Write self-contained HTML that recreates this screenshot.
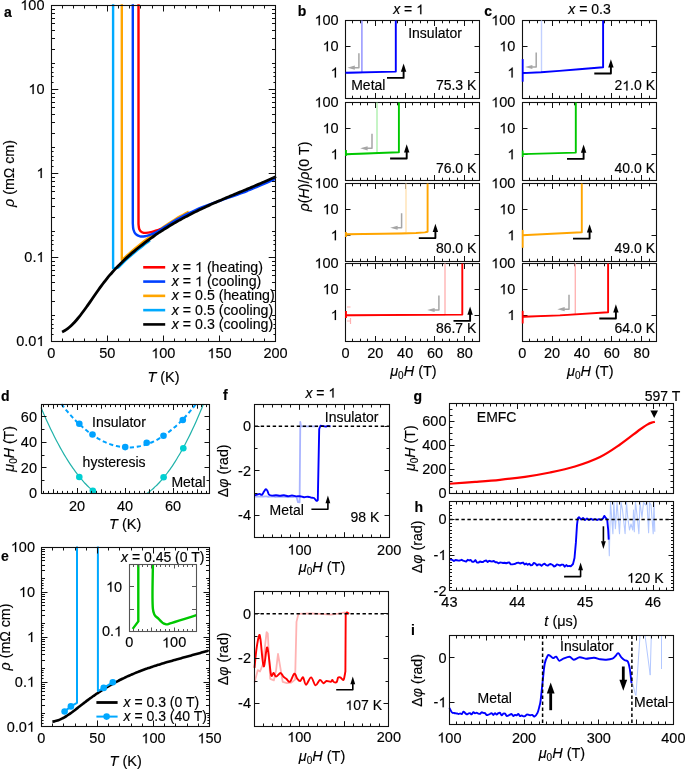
<!DOCTYPE html>
<html><head><meta charset="utf-8"><style>
html,body{margin:0;padding:0;background:#fff;}
svg{display:block;will-change:transform;}
text{font-family:"Liberation Sans", sans-serif;fill:#000;stroke:#000;stroke-width:0.15px;}
</style></head><body>
<svg width="685" height="770" viewBox="0 0 685 770">
<rect width="685" height="770" fill="#fff"/>
<path d="M113.1,4.2 L113.1,268.3 C113.92,268.2 116.35,268.63 118,267.71 C119.65,266.79 121.33,264.38 123,262.79 C124.67,261.21 126.33,259.68 128,258.19 C129.67,256.7 131.33,255.25 133,253.83 C134.67,252.41 136.33,251.02 138,249.67 C139.67,248.31 141.33,246.99 143,245.7 C144.67,244.41 146.83,242.8 148,241.92 C149.17,241.05 149.67,240.7 150,240.46" fill="none" stroke="#00aaff" stroke-width="2.4" stroke-linejoin="round" stroke-linecap="butt" />
<path d="M121.8,4.2 L121.8,259.8 C122.5,259.23 124.47,257.71 126,256.39 C127.53,255.08 129.33,253.38 131,251.93 C132.67,250.47 134.33,249.06 136,247.67 C137.67,246.28 139.33,244.93 141,243.6 C142.67,242.28 144.33,241 146,239.73 C147.67,238.46 149.33,237.24 151,235.99 C152.67,234.74 154.33,233.47 156,232.24 C157.67,231.02 159.33,229.82 161,228.65 C162.67,227.48 164.33,226.33 166,225.21 C167.67,224.08 169.33,222.98 171,221.91 C172.67,220.83 174.33,219.77 176,218.77 C177.67,217.77 179.33,216.83 181,215.89 C182.67,214.95 184.72,213.82 186,213.12 C187.28,212.42 188.25,211.91 188.7,211.67" fill="none" stroke="#ffa500" stroke-width="2.4" stroke-linejoin="round" stroke-linecap="butt" />
<path d="M138.5,4.2 L138.5,224 C138.63,224.87 138.72,227.83 139.3,229.2 C139.88,230.57 140.88,231.58 142,232.2 C143.12,232.82 144.5,232.9 146,232.9 C147.5,232.9 149.5,232.53 151,232.2 C152.5,231.87 153.75,231.3 155,230.9 C156.25,230.5 157.33,230.18 158.5,229.8 C159.67,229.42 161.42,228.8 162,228.6" fill="none" stroke="#ff0000" stroke-width="2.4" stroke-linejoin="round" stroke-linecap="butt" />
<path d="M132.8,4.2 L132.8,223 C132.9,224.08 132.9,227.63 133.4,229.5 C133.9,231.37 134.7,233.07 135.8,234.2 C136.9,235.33 138.47,235.97 140,236.3 C141.53,236.63 143.33,236.45 145,236.2 C146.67,235.95 148.33,235.35 150,234.8 C151.67,234.25 152.5,234.23 155,232.9 C157.5,231.57 162.33,228.46 165,226.81 C167.67,225.15 169,224.21 171,222.95 C173,221.7 175,220.45 177,219.29 C179,218.13 181,217.04 183,216 C185,214.96 187,214.02 189,213.07 C191,212.11 193,211.18 195,210.27 C197,209.37 199,208.47 201,207.65 C203,206.83 205,206.11 207,205.36 C209,204.61 211,203.88 213,203.16 C215,202.43 217,201.73 219,201.03 C221,200.33 223,199.63 225,198.94 C227,198.25 229,197.57 231,196.89 C233,196.21 235,195.57 237,194.87 C239,194.16 241,193.42 243,192.64 C245,191.87 247,191.02 249,190.21 C251,189.39 253,188.58 255,187.75 C257,186.92 259,186.1 261,185.25 C263,184.4 265,183.52 267,182.64 C269,181.76 271.58,180.6 273,179.96 C274.42,179.33 275.08,179.02 275.5,178.83" fill="none" stroke="#0040ff" stroke-width="2.4" stroke-linejoin="round" stroke-linecap="butt" />
<path d="M62.08,332 C62.55,331.76 63.95,331.13 64.88,330.57 C65.82,330.02 66.75,329.37 67.69,328.65 C68.62,327.94 69.56,327.14 70.49,326.29 C71.42,325.44 72.36,324.51 73.29,323.54 C74.23,322.57 75.16,321.53 76.1,320.46 C77.03,319.38 77.97,318.26 78.9,317.1 C79.84,315.94 80.77,314.74 81.7,313.51 C82.64,312.29 83.57,311.03 84.51,309.75 C85.44,308.47 86.38,307.16 87.31,305.85 C88.25,304.53 89.18,303.2 90.12,301.86 C91.05,300.52 91.99,299.17 92.92,297.82 C93.85,296.48 94.79,295.13 95.72,293.79 C96.66,292.45 97.59,291.12 98.53,289.8 C99.46,288.49 100.4,287.18 101.33,285.91 C102.27,284.63 103.2,283.37 104.13,282.15 C105.07,280.92 106,279.73 106.94,278.57 C107.87,277.4 108.81,276.27 109.74,275.17 C110.68,274.07 111.61,272.99 112.55,271.95 C113.48,270.9 114.42,269.88 115.35,268.88 C116.28,267.88 117.22,266.9 118.15,265.95 C119.09,265 120.02,264.06 120.96,263.15 C121.89,262.24 122.83,261.34 123.76,260.46 C124.7,259.58 125.63,258.72 126.56,257.87 C127.5,257.02 128.43,256.19 129.37,255.37 C130.3,254.54 131.24,253.73 132.17,252.93 C133.11,252.13 134.04,251.34 134.98,250.56 C135.91,249.77 136.85,249 137.78,248.24 C138.71,247.48 139.65,246.73 140.58,245.99 C141.52,245.25 142.45,244.52 143.39,243.8 C144.32,243.08 145.26,242.37 146.19,241.67 C147.13,240.96 148.06,240.27 148.99,239.59 C149.93,238.9 150.86,238.23 151.8,237.56 C152.73,236.89 153.67,236.24 154.6,235.59 C155.54,234.94 156.47,234.3 157.41,233.67 C158.34,233.03 159.28,232.41 160.21,231.79 C161.14,231.18 162.08,230.57 163.01,229.97 C163.95,229.37 164.88,228.77 165.82,228.19 C166.75,227.6 167.69,227.02 168.62,226.45 C169.56,225.88 170.49,225.31 171.42,224.76 C172.36,224.2 173.29,223.65 174.23,223.1 C175.16,222.56 176.1,222.02 177.03,221.49 C177.97,220.96 178.9,220.43 179.84,219.91 C180.77,219.39 181.71,218.88 182.64,218.37 C183.57,217.87 184.51,217.36 185.44,216.87 C186.38,216.37 187.31,215.88 188.25,215.4 C189.18,214.91 190.12,214.43 191.05,213.95 C191.99,213.48 192.92,213.01 193.85,212.54 C194.79,212.07 195.72,211.61 196.66,211.16 C197.59,210.7 198.53,210.25 199.46,209.8 C200.4,209.35 201.33,208.9 202.27,208.46 C203.2,208.02 204.14,207.58 205.07,207.15 C206,206.72 206.94,206.29 207.87,205.86 C208.81,205.43 209.74,205.01 210.68,204.59 C211.61,204.17 212.55,203.75 213.48,203.34 C214.42,202.92 215.35,202.51 216.28,202.1 C217.22,201.69 218.15,201.28 219.09,200.88 C220.02,200.47 220.96,200.07 221.89,199.67 C222.83,199.27 223.76,198.87 224.7,198.47 C225.63,198.07 226.57,197.68 227.5,197.28 C228.43,196.89 229.37,196.49 230.3,196.1 C231.24,195.71 232.17,195.32 233.11,194.93 C234.04,194.54 234.98,194.15 235.91,193.76 C236.85,193.37 237.78,192.98 238.71,192.59 C239.65,192.21 240.58,191.82 241.52,191.43 C242.45,191.04 243.39,190.65 244.32,190.27 C245.26,189.88 246.19,189.49 247.13,189.1 C248.06,188.71 249,188.32 249.93,187.93 C250.86,187.54 251.8,187.15 252.73,186.76 C253.67,186.36 254.6,185.97 255.54,185.57 C256.47,185.18 257.41,184.78 258.34,184.38 C259.28,183.99 260.21,183.59 261.14,183.19 C262.08,182.78 263.01,182.38 263.95,181.97 C264.88,181.57 265.82,181.16 266.75,180.75 C267.69,180.34 268.62,179.93 269.56,179.51 C270.49,179.1 271.43,178.68 272.36,178.26 C273.29,177.83 274.55,177.26 275.16,176.98 C275.78,176.7 275.91,176.64 276.06,176.57" fill="none" stroke="#000" stroke-width="2.8" stroke-linejoin="round" stroke-linecap="butt" />
<rect x="51.5" y="5.5" width="224" height="336" fill="none" stroke="#111" stroke-width="1.1"/>
<line x1="51.5" y1="341.5" x2="51.5" y2="335.5" stroke="#111" stroke-width="1" />
<line x1="51.5" y1="5.5" x2="51.5" y2="11.5" stroke="#111" stroke-width="1" />
<line x1="107.5" y1="341.5" x2="107.5" y2="335.5" stroke="#111" stroke-width="1" />
<line x1="107.5" y1="5.5" x2="107.5" y2="11.5" stroke="#111" stroke-width="1" />
<line x1="163.5" y1="341.5" x2="163.5" y2="335.5" stroke="#111" stroke-width="1" />
<line x1="163.5" y1="5.5" x2="163.5" y2="11.5" stroke="#111" stroke-width="1" />
<line x1="219.5" y1="341.5" x2="219.5" y2="335.5" stroke="#111" stroke-width="1" />
<line x1="219.5" y1="5.5" x2="219.5" y2="11.5" stroke="#111" stroke-width="1" />
<line x1="275.5" y1="341.5" x2="275.5" y2="335.5" stroke="#111" stroke-width="1" />
<line x1="275.5" y1="5.5" x2="275.5" y2="11.5" stroke="#111" stroke-width="1" />
<line x1="62.5" y1="341.5" x2="62.5" y2="338.5" stroke="#111" stroke-width="1" />
<line x1="62.5" y1="5.5" x2="62.5" y2="8.5" stroke="#111" stroke-width="1" />
<line x1="73.5" y1="341.5" x2="73.5" y2="338.5" stroke="#111" stroke-width="1" />
<line x1="73.5" y1="5.5" x2="73.5" y2="8.5" stroke="#111" stroke-width="1" />
<line x1="84.5" y1="341.5" x2="84.5" y2="338.5" stroke="#111" stroke-width="1" />
<line x1="84.5" y1="5.5" x2="84.5" y2="8.5" stroke="#111" stroke-width="1" />
<line x1="96.5" y1="341.5" x2="96.5" y2="338.5" stroke="#111" stroke-width="1" />
<line x1="96.5" y1="5.5" x2="96.5" y2="8.5" stroke="#111" stroke-width="1" />
<line x1="118.5" y1="341.5" x2="118.5" y2="338.5" stroke="#111" stroke-width="1" />
<line x1="118.5" y1="5.5" x2="118.5" y2="8.5" stroke="#111" stroke-width="1" />
<line x1="129.5" y1="341.5" x2="129.5" y2="338.5" stroke="#111" stroke-width="1" />
<line x1="129.5" y1="5.5" x2="129.5" y2="8.5" stroke="#111" stroke-width="1" />
<line x1="140.5" y1="341.5" x2="140.5" y2="338.5" stroke="#111" stroke-width="1" />
<line x1="140.5" y1="5.5" x2="140.5" y2="8.5" stroke="#111" stroke-width="1" />
<line x1="152.5" y1="341.5" x2="152.5" y2="338.5" stroke="#111" stroke-width="1" />
<line x1="152.5" y1="5.5" x2="152.5" y2="8.5" stroke="#111" stroke-width="1" />
<line x1="174.5" y1="341.5" x2="174.5" y2="338.5" stroke="#111" stroke-width="1" />
<line x1="174.5" y1="5.5" x2="174.5" y2="8.5" stroke="#111" stroke-width="1" />
<line x1="185.5" y1="341.5" x2="185.5" y2="338.5" stroke="#111" stroke-width="1" />
<line x1="185.5" y1="5.5" x2="185.5" y2="8.5" stroke="#111" stroke-width="1" />
<line x1="196.5" y1="341.5" x2="196.5" y2="338.5" stroke="#111" stroke-width="1" />
<line x1="196.5" y1="5.5" x2="196.5" y2="8.5" stroke="#111" stroke-width="1" />
<line x1="208.5" y1="341.5" x2="208.5" y2="338.5" stroke="#111" stroke-width="1" />
<line x1="208.5" y1="5.5" x2="208.5" y2="8.5" stroke="#111" stroke-width="1" />
<line x1="230.5" y1="341.5" x2="230.5" y2="338.5" stroke="#111" stroke-width="1" />
<line x1="230.5" y1="5.5" x2="230.5" y2="8.5" stroke="#111" stroke-width="1" />
<line x1="241.5" y1="341.5" x2="241.5" y2="338.5" stroke="#111" stroke-width="1" />
<line x1="241.5" y1="5.5" x2="241.5" y2="8.5" stroke="#111" stroke-width="1" />
<line x1="253.5" y1="341.5" x2="253.5" y2="338.5" stroke="#111" stroke-width="1" />
<line x1="253.5" y1="5.5" x2="253.5" y2="8.5" stroke="#111" stroke-width="1" />
<line x1="264.5" y1="341.5" x2="264.5" y2="338.5" stroke="#111" stroke-width="1" />
<line x1="264.5" y1="5.5" x2="264.5" y2="8.5" stroke="#111" stroke-width="1" />
<line x1="51.5" y1="341.5" x2="58.3" y2="341.5" stroke="#111" stroke-width="1" />
<line x1="275.5" y1="341.5" x2="268.7" y2="341.5" stroke="#111" stroke-width="1" />
<line x1="51.5" y1="257.5" x2="58.3" y2="257.5" stroke="#111" stroke-width="1" />
<line x1="275.5" y1="257.5" x2="268.7" y2="257.5" stroke="#111" stroke-width="1" />
<line x1="51.5" y1="173.5" x2="58.3" y2="173.5" stroke="#111" stroke-width="1" />
<line x1="275.5" y1="173.5" x2="268.7" y2="173.5" stroke="#111" stroke-width="1" />
<line x1="51.5" y1="89.5" x2="58.3" y2="89.5" stroke="#111" stroke-width="1" />
<line x1="275.5" y1="89.5" x2="268.7" y2="89.5" stroke="#111" stroke-width="1" />
<line x1="51.5" y1="5.5" x2="58.3" y2="5.5" stroke="#111" stroke-width="1" />
<line x1="275.5" y1="5.5" x2="268.7" y2="5.5" stroke="#111" stroke-width="1" />
<line x1="51.5" y1="315.5" x2="55" y2="315.5" stroke="#111" stroke-width="1" />
<line x1="275.5" y1="315.5" x2="272" y2="315.5" stroke="#111" stroke-width="1" />
<line x1="51.5" y1="301.5" x2="55" y2="301.5" stroke="#111" stroke-width="1" />
<line x1="275.5" y1="301.5" x2="272" y2="301.5" stroke="#111" stroke-width="1" />
<line x1="51.5" y1="290.5" x2="55" y2="290.5" stroke="#111" stroke-width="1" />
<line x1="275.5" y1="290.5" x2="272" y2="290.5" stroke="#111" stroke-width="1" />
<line x1="51.5" y1="282.5" x2="55" y2="282.5" stroke="#111" stroke-width="1" />
<line x1="275.5" y1="282.5" x2="272" y2="282.5" stroke="#111" stroke-width="1" />
<line x1="51.5" y1="275.5" x2="55" y2="275.5" stroke="#111" stroke-width="1" />
<line x1="275.5" y1="275.5" x2="272" y2="275.5" stroke="#111" stroke-width="1" />
<line x1="51.5" y1="270.5" x2="55" y2="270.5" stroke="#111" stroke-width="1" />
<line x1="275.5" y1="270.5" x2="272" y2="270.5" stroke="#111" stroke-width="1" />
<line x1="51.5" y1="265.5" x2="55" y2="265.5" stroke="#111" stroke-width="1" />
<line x1="275.5" y1="265.5" x2="272" y2="265.5" stroke="#111" stroke-width="1" />
<line x1="51.5" y1="261.5" x2="55" y2="261.5" stroke="#111" stroke-width="1" />
<line x1="275.5" y1="261.5" x2="272" y2="261.5" stroke="#111" stroke-width="1" />
<line x1="51.5" y1="231.5" x2="55" y2="231.5" stroke="#111" stroke-width="1" />
<line x1="275.5" y1="231.5" x2="272" y2="231.5" stroke="#111" stroke-width="1" />
<line x1="51.5" y1="217.5" x2="55" y2="217.5" stroke="#111" stroke-width="1" />
<line x1="275.5" y1="217.5" x2="272" y2="217.5" stroke="#111" stroke-width="1" />
<line x1="51.5" y1="206.5" x2="55" y2="206.5" stroke="#111" stroke-width="1" />
<line x1="275.5" y1="206.5" x2="272" y2="206.5" stroke="#111" stroke-width="1" />
<line x1="51.5" y1="198.5" x2="55" y2="198.5" stroke="#111" stroke-width="1" />
<line x1="275.5" y1="198.5" x2="272" y2="198.5" stroke="#111" stroke-width="1" />
<line x1="51.5" y1="191.5" x2="55" y2="191.5" stroke="#111" stroke-width="1" />
<line x1="275.5" y1="191.5" x2="272" y2="191.5" stroke="#111" stroke-width="1" />
<line x1="51.5" y1="186.5" x2="55" y2="186.5" stroke="#111" stroke-width="1" />
<line x1="275.5" y1="186.5" x2="272" y2="186.5" stroke="#111" stroke-width="1" />
<line x1="51.5" y1="181.5" x2="55" y2="181.5" stroke="#111" stroke-width="1" />
<line x1="275.5" y1="181.5" x2="272" y2="181.5" stroke="#111" stroke-width="1" />
<line x1="51.5" y1="177.5" x2="55" y2="177.5" stroke="#111" stroke-width="1" />
<line x1="275.5" y1="177.5" x2="272" y2="177.5" stroke="#111" stroke-width="1" />
<line x1="51.5" y1="147.5" x2="55" y2="147.5" stroke="#111" stroke-width="1" />
<line x1="275.5" y1="147.5" x2="272" y2="147.5" stroke="#111" stroke-width="1" />
<line x1="51.5" y1="133.5" x2="55" y2="133.5" stroke="#111" stroke-width="1" />
<line x1="275.5" y1="133.5" x2="272" y2="133.5" stroke="#111" stroke-width="1" />
<line x1="51.5" y1="122.5" x2="55" y2="122.5" stroke="#111" stroke-width="1" />
<line x1="275.5" y1="122.5" x2="272" y2="122.5" stroke="#111" stroke-width="1" />
<line x1="51.5" y1="114.5" x2="55" y2="114.5" stroke="#111" stroke-width="1" />
<line x1="275.5" y1="114.5" x2="272" y2="114.5" stroke="#111" stroke-width="1" />
<line x1="51.5" y1="107.5" x2="55" y2="107.5" stroke="#111" stroke-width="1" />
<line x1="275.5" y1="107.5" x2="272" y2="107.5" stroke="#111" stroke-width="1" />
<line x1="51.5" y1="102.5" x2="55" y2="102.5" stroke="#111" stroke-width="1" />
<line x1="275.5" y1="102.5" x2="272" y2="102.5" stroke="#111" stroke-width="1" />
<line x1="51.5" y1="97.5" x2="55" y2="97.5" stroke="#111" stroke-width="1" />
<line x1="275.5" y1="97.5" x2="272" y2="97.5" stroke="#111" stroke-width="1" />
<line x1="51.5" y1="93.5" x2="55" y2="93.5" stroke="#111" stroke-width="1" />
<line x1="275.5" y1="93.5" x2="272" y2="93.5" stroke="#111" stroke-width="1" />
<line x1="51.5" y1="63.5" x2="55" y2="63.5" stroke="#111" stroke-width="1" />
<line x1="275.5" y1="63.5" x2="272" y2="63.5" stroke="#111" stroke-width="1" />
<line x1="51.5" y1="49.5" x2="55" y2="49.5" stroke="#111" stroke-width="1" />
<line x1="275.5" y1="49.5" x2="272" y2="49.5" stroke="#111" stroke-width="1" />
<line x1="51.5" y1="38.5" x2="55" y2="38.5" stroke="#111" stroke-width="1" />
<line x1="275.5" y1="38.5" x2="272" y2="38.5" stroke="#111" stroke-width="1" />
<line x1="51.5" y1="30.5" x2="55" y2="30.5" stroke="#111" stroke-width="1" />
<line x1="275.5" y1="30.5" x2="272" y2="30.5" stroke="#111" stroke-width="1" />
<line x1="51.5" y1="23.5" x2="55" y2="23.5" stroke="#111" stroke-width="1" />
<line x1="275.5" y1="23.5" x2="272" y2="23.5" stroke="#111" stroke-width="1" />
<line x1="51.5" y1="18.5" x2="55" y2="18.5" stroke="#111" stroke-width="1" />
<line x1="275.5" y1="18.5" x2="272" y2="18.5" stroke="#111" stroke-width="1" />
<line x1="51.5" y1="13.5" x2="55" y2="13.5" stroke="#111" stroke-width="1" />
<line x1="275.5" y1="13.5" x2="272" y2="13.5" stroke="#111" stroke-width="1" />
<line x1="51.5" y1="9.5" x2="55" y2="9.5" stroke="#111" stroke-width="1" />
<line x1="275.5" y1="9.5" x2="272" y2="9.5" stroke="#111" stroke-width="1" />
<line x1="51.5" y1="334.5" x2="53.6" y2="334.5" stroke="#111" stroke-width="1" />
<line x1="275.5" y1="334.5" x2="273.4" y2="334.5" stroke="#111" stroke-width="1" />
<line x1="51.5" y1="328.5" x2="53.6" y2="328.5" stroke="#111" stroke-width="1" />
<line x1="275.5" y1="328.5" x2="273.4" y2="328.5" stroke="#111" stroke-width="1" />
<line x1="51.5" y1="324.5" x2="53.6" y2="324.5" stroke="#111" stroke-width="1" />
<line x1="275.5" y1="324.5" x2="273.4" y2="324.5" stroke="#111" stroke-width="1" />
<line x1="51.5" y1="319.5" x2="53.6" y2="319.5" stroke="#111" stroke-width="1" />
<line x1="275.5" y1="319.5" x2="273.4" y2="319.5" stroke="#111" stroke-width="1" />
<line x1="51.5" y1="250.5" x2="53.6" y2="250.5" stroke="#111" stroke-width="1" />
<line x1="275.5" y1="250.5" x2="273.4" y2="250.5" stroke="#111" stroke-width="1" />
<line x1="51.5" y1="244.5" x2="53.6" y2="244.5" stroke="#111" stroke-width="1" />
<line x1="275.5" y1="244.5" x2="273.4" y2="244.5" stroke="#111" stroke-width="1" />
<line x1="51.5" y1="240.5" x2="53.6" y2="240.5" stroke="#111" stroke-width="1" />
<line x1="275.5" y1="240.5" x2="273.4" y2="240.5" stroke="#111" stroke-width="1" />
<line x1="51.5" y1="235.5" x2="53.6" y2="235.5" stroke="#111" stroke-width="1" />
<line x1="275.5" y1="235.5" x2="273.4" y2="235.5" stroke="#111" stroke-width="1" />
<line x1="51.5" y1="166.5" x2="53.6" y2="166.5" stroke="#111" stroke-width="1" />
<line x1="275.5" y1="166.5" x2="273.4" y2="166.5" stroke="#111" stroke-width="1" />
<line x1="51.5" y1="160.5" x2="53.6" y2="160.5" stroke="#111" stroke-width="1" />
<line x1="275.5" y1="160.5" x2="273.4" y2="160.5" stroke="#111" stroke-width="1" />
<line x1="51.5" y1="156.5" x2="53.6" y2="156.5" stroke="#111" stroke-width="1" />
<line x1="275.5" y1="156.5" x2="273.4" y2="156.5" stroke="#111" stroke-width="1" />
<line x1="51.5" y1="151.5" x2="53.6" y2="151.5" stroke="#111" stroke-width="1" />
<line x1="275.5" y1="151.5" x2="273.4" y2="151.5" stroke="#111" stroke-width="1" />
<line x1="51.5" y1="82.5" x2="53.6" y2="82.5" stroke="#111" stroke-width="1" />
<line x1="275.5" y1="82.5" x2="273.4" y2="82.5" stroke="#111" stroke-width="1" />
<line x1="51.5" y1="76.5" x2="53.6" y2="76.5" stroke="#111" stroke-width="1" />
<line x1="275.5" y1="76.5" x2="273.4" y2="76.5" stroke="#111" stroke-width="1" />
<line x1="51.5" y1="72.5" x2="53.6" y2="72.5" stroke="#111" stroke-width="1" />
<line x1="275.5" y1="72.5" x2="273.4" y2="72.5" stroke="#111" stroke-width="1" />
<line x1="51.5" y1="67.5" x2="53.6" y2="67.5" stroke="#111" stroke-width="1" />
<line x1="275.5" y1="67.5" x2="273.4" y2="67.5" stroke="#111" stroke-width="1" />
<text x="51.2" y="358.2" font-size="14.5" text-anchor="middle" font-weight="normal" >0</text>
<text x="107.28" y="358.2" font-size="14.5" text-anchor="middle" font-weight="normal" >50</text>
<text x="163.35" y="358.2" font-size="14.5" text-anchor="middle" font-weight="normal" > 00</text>
<text x="219.43" y="358.2" font-size="14.5" text-anchor="middle" font-weight="normal" > 50</text>
<text x="275.5" y="358.2" font-size="14.5" text-anchor="middle" font-weight="normal" >200</text>
<text x="44.5" y="346" font-size="14.5" text-anchor="end" font-weight="normal" >0.0 </text>
<text x="44.5" y="262" font-size="14.5" text-anchor="end" font-weight="normal" >0. </text>
<text x="44.5" y="178" font-size="14.5" text-anchor="end" font-weight="normal" > </text>
<text x="44.5" y="94" font-size="14.5" text-anchor="end" font-weight="normal" > 0</text>
<text x="44.5" y="10" font-size="14.5" text-anchor="end" font-weight="normal" > 00</text>
<text x="163.5" y="382" font-size="14.5" text-anchor="middle" font-weight="normal" ><tspan font-style="italic">T</tspan> (K)</text>
<text x="13.6" y="173.5" font-size="14.2" text-anchor="middle" transform="rotate(-90 13.6 173.5)"><tspan font-style="italic">ρ</tspan> (mΩ cm)</text>
<text x="4" y="16.5" font-size="14" text-anchor="start" font-weight="bold" >a</text>
<line x1="143.2" y1="267.3" x2="165.2" y2="267.3" stroke="#ff0000" stroke-width="2.6" />
<text x="171.8" y="271.9" font-size="14.2" text-anchor="start" font-weight="normal" ><tspan font-style="italic">x</tspan> =   (heating)</text>
<line x1="143.2" y1="281.58" x2="165.2" y2="281.58" stroke="#0040ff" stroke-width="2.6" />
<text x="171.8" y="286.18" font-size="14.2" text-anchor="start" font-weight="normal" ><tspan font-style="italic">x</tspan> =   (cooling)</text>
<line x1="143.2" y1="295.86" x2="165.2" y2="295.86" stroke="#ffa500" stroke-width="2.6" />
<text x="171.8" y="300.46" font-size="14.2" text-anchor="start" font-weight="normal" ><tspan font-style="italic">x</tspan> = 0.5 (heating)</text>
<line x1="143.2" y1="310.14" x2="165.2" y2="310.14" stroke="#00aaff" stroke-width="2.6" />
<text x="171.8" y="314.74" font-size="14.2" text-anchor="start" font-weight="normal" ><tspan font-style="italic">x</tspan> = 0.5 (cooling)</text>
<line x1="143.2" y1="324.42" x2="165.2" y2="324.42" stroke="#000" stroke-width="2.6" />
<text x="171.8" y="329.02" font-size="14.2" text-anchor="start" font-weight="normal" ><tspan font-style="italic">x</tspan> = 0.3 (cooling)</text>
<rect x="345.5" y="20.5" width="134" height="78" fill="none" stroke="#111" stroke-width="1.1"/>
<line x1="375.5" y1="98.5" x2="375.5" y2="93" stroke="#111" stroke-width="1" />
<line x1="375.5" y1="20.5" x2="375.5" y2="26" stroke="#111" stroke-width="1" />
<line x1="405.5" y1="98.5" x2="405.5" y2="93" stroke="#111" stroke-width="1" />
<line x1="405.5" y1="20.5" x2="405.5" y2="26" stroke="#111" stroke-width="1" />
<line x1="434.5" y1="98.5" x2="434.5" y2="93" stroke="#111" stroke-width="1" />
<line x1="434.5" y1="20.5" x2="434.5" y2="26" stroke="#111" stroke-width="1" />
<line x1="464.5" y1="98.5" x2="464.5" y2="93" stroke="#111" stroke-width="1" />
<line x1="464.5" y1="20.5" x2="464.5" y2="26" stroke="#111" stroke-width="1" />
<line x1="352.5" y1="98.5" x2="352.5" y2="95.7" stroke="#111" stroke-width="1" />
<line x1="352.5" y1="20.5" x2="352.5" y2="23.3" stroke="#111" stroke-width="1" />
<line x1="360.5" y1="98.5" x2="360.5" y2="95.7" stroke="#111" stroke-width="1" />
<line x1="360.5" y1="20.5" x2="360.5" y2="23.3" stroke="#111" stroke-width="1" />
<line x1="367.5" y1="98.5" x2="367.5" y2="95.7" stroke="#111" stroke-width="1" />
<line x1="367.5" y1="20.5" x2="367.5" y2="23.3" stroke="#111" stroke-width="1" />
<line x1="382.5" y1="98.5" x2="382.5" y2="95.7" stroke="#111" stroke-width="1" />
<line x1="382.5" y1="20.5" x2="382.5" y2="23.3" stroke="#111" stroke-width="1" />
<line x1="390.5" y1="98.5" x2="390.5" y2="95.7" stroke="#111" stroke-width="1" />
<line x1="390.5" y1="20.5" x2="390.5" y2="23.3" stroke="#111" stroke-width="1" />
<line x1="397.5" y1="98.5" x2="397.5" y2="95.7" stroke="#111" stroke-width="1" />
<line x1="397.5" y1="20.5" x2="397.5" y2="23.3" stroke="#111" stroke-width="1" />
<line x1="412.5" y1="98.5" x2="412.5" y2="95.7" stroke="#111" stroke-width="1" />
<line x1="412.5" y1="20.5" x2="412.5" y2="23.3" stroke="#111" stroke-width="1" />
<line x1="420.5" y1="98.5" x2="420.5" y2="95.7" stroke="#111" stroke-width="1" />
<line x1="420.5" y1="20.5" x2="420.5" y2="23.3" stroke="#111" stroke-width="1" />
<line x1="427.5" y1="98.5" x2="427.5" y2="95.7" stroke="#111" stroke-width="1" />
<line x1="427.5" y1="20.5" x2="427.5" y2="23.3" stroke="#111" stroke-width="1" />
<line x1="442.5" y1="98.5" x2="442.5" y2="95.7" stroke="#111" stroke-width="1" />
<line x1="442.5" y1="20.5" x2="442.5" y2="23.3" stroke="#111" stroke-width="1" />
<line x1="449.5" y1="98.5" x2="449.5" y2="95.7" stroke="#111" stroke-width="1" />
<line x1="449.5" y1="20.5" x2="449.5" y2="23.3" stroke="#111" stroke-width="1" />
<line x1="457.5" y1="98.5" x2="457.5" y2="95.7" stroke="#111" stroke-width="1" />
<line x1="457.5" y1="20.5" x2="457.5" y2="23.3" stroke="#111" stroke-width="1" />
<line x1="472.5" y1="98.5" x2="472.5" y2="95.7" stroke="#111" stroke-width="1" />
<line x1="472.5" y1="20.5" x2="472.5" y2="23.3" stroke="#111" stroke-width="1" />
<line x1="345.5" y1="46.5" x2="350.5" y2="46.5" stroke="#111" stroke-width="1" />
<line x1="479.5" y1="46.5" x2="474.5" y2="46.5" stroke="#111" stroke-width="1" />
<line x1="345.5" y1="72.5" x2="350.5" y2="72.5" stroke="#111" stroke-width="1" />
<line x1="479.5" y1="72.5" x2="474.5" y2="72.5" stroke="#111" stroke-width="1" />
<text x="338.7" y="25.2" font-size="14.5" text-anchor="end" font-weight="normal" > 00</text>
<text x="338.7" y="51.33" font-size="14.5" text-anchor="end" font-weight="normal" > 0</text>
<text x="338.7" y="77.47" font-size="14.5" text-anchor="end" font-weight="normal" > </text>
<rect x="345.5" y="102.5" width="134" height="78" fill="none" stroke="#111" stroke-width="1.1"/>
<line x1="375.5" y1="180.5" x2="375.5" y2="175" stroke="#111" stroke-width="1" />
<line x1="375.5" y1="102.5" x2="375.5" y2="108" stroke="#111" stroke-width="1" />
<line x1="405.5" y1="180.5" x2="405.5" y2="175" stroke="#111" stroke-width="1" />
<line x1="405.5" y1="102.5" x2="405.5" y2="108" stroke="#111" stroke-width="1" />
<line x1="434.5" y1="180.5" x2="434.5" y2="175" stroke="#111" stroke-width="1" />
<line x1="434.5" y1="102.5" x2="434.5" y2="108" stroke="#111" stroke-width="1" />
<line x1="464.5" y1="180.5" x2="464.5" y2="175" stroke="#111" stroke-width="1" />
<line x1="464.5" y1="102.5" x2="464.5" y2="108" stroke="#111" stroke-width="1" />
<line x1="352.5" y1="180.5" x2="352.5" y2="177.7" stroke="#111" stroke-width="1" />
<line x1="352.5" y1="102.5" x2="352.5" y2="105.3" stroke="#111" stroke-width="1" />
<line x1="360.5" y1="180.5" x2="360.5" y2="177.7" stroke="#111" stroke-width="1" />
<line x1="360.5" y1="102.5" x2="360.5" y2="105.3" stroke="#111" stroke-width="1" />
<line x1="367.5" y1="180.5" x2="367.5" y2="177.7" stroke="#111" stroke-width="1" />
<line x1="367.5" y1="102.5" x2="367.5" y2="105.3" stroke="#111" stroke-width="1" />
<line x1="382.5" y1="180.5" x2="382.5" y2="177.7" stroke="#111" stroke-width="1" />
<line x1="382.5" y1="102.5" x2="382.5" y2="105.3" stroke="#111" stroke-width="1" />
<line x1="390.5" y1="180.5" x2="390.5" y2="177.7" stroke="#111" stroke-width="1" />
<line x1="390.5" y1="102.5" x2="390.5" y2="105.3" stroke="#111" stroke-width="1" />
<line x1="397.5" y1="180.5" x2="397.5" y2="177.7" stroke="#111" stroke-width="1" />
<line x1="397.5" y1="102.5" x2="397.5" y2="105.3" stroke="#111" stroke-width="1" />
<line x1="412.5" y1="180.5" x2="412.5" y2="177.7" stroke="#111" stroke-width="1" />
<line x1="412.5" y1="102.5" x2="412.5" y2="105.3" stroke="#111" stroke-width="1" />
<line x1="420.5" y1="180.5" x2="420.5" y2="177.7" stroke="#111" stroke-width="1" />
<line x1="420.5" y1="102.5" x2="420.5" y2="105.3" stroke="#111" stroke-width="1" />
<line x1="427.5" y1="180.5" x2="427.5" y2="177.7" stroke="#111" stroke-width="1" />
<line x1="427.5" y1="102.5" x2="427.5" y2="105.3" stroke="#111" stroke-width="1" />
<line x1="442.5" y1="180.5" x2="442.5" y2="177.7" stroke="#111" stroke-width="1" />
<line x1="442.5" y1="102.5" x2="442.5" y2="105.3" stroke="#111" stroke-width="1" />
<line x1="449.5" y1="180.5" x2="449.5" y2="177.7" stroke="#111" stroke-width="1" />
<line x1="449.5" y1="102.5" x2="449.5" y2="105.3" stroke="#111" stroke-width="1" />
<line x1="457.5" y1="180.5" x2="457.5" y2="177.7" stroke="#111" stroke-width="1" />
<line x1="457.5" y1="102.5" x2="457.5" y2="105.3" stroke="#111" stroke-width="1" />
<line x1="472.5" y1="180.5" x2="472.5" y2="177.7" stroke="#111" stroke-width="1" />
<line x1="472.5" y1="102.5" x2="472.5" y2="105.3" stroke="#111" stroke-width="1" />
<line x1="345.5" y1="128.5" x2="350.5" y2="128.5" stroke="#111" stroke-width="1" />
<line x1="479.5" y1="128.5" x2="474.5" y2="128.5" stroke="#111" stroke-width="1" />
<line x1="345.5" y1="154.5" x2="350.5" y2="154.5" stroke="#111" stroke-width="1" />
<line x1="479.5" y1="154.5" x2="474.5" y2="154.5" stroke="#111" stroke-width="1" />
<text x="338.7" y="107.3" font-size="14.5" text-anchor="end" font-weight="normal" > 00</text>
<text x="338.7" y="133.33" font-size="14.5" text-anchor="end" font-weight="normal" > 0</text>
<text x="338.7" y="159.37" font-size="14.5" text-anchor="end" font-weight="normal" > </text>
<rect x="345.5" y="183.5" width="134" height="78" fill="none" stroke="#111" stroke-width="1.1"/>
<line x1="375.5" y1="261.5" x2="375.5" y2="256" stroke="#111" stroke-width="1" />
<line x1="375.5" y1="183.5" x2="375.5" y2="189" stroke="#111" stroke-width="1" />
<line x1="405.5" y1="261.5" x2="405.5" y2="256" stroke="#111" stroke-width="1" />
<line x1="405.5" y1="183.5" x2="405.5" y2="189" stroke="#111" stroke-width="1" />
<line x1="434.5" y1="261.5" x2="434.5" y2="256" stroke="#111" stroke-width="1" />
<line x1="434.5" y1="183.5" x2="434.5" y2="189" stroke="#111" stroke-width="1" />
<line x1="464.5" y1="261.5" x2="464.5" y2="256" stroke="#111" stroke-width="1" />
<line x1="464.5" y1="183.5" x2="464.5" y2="189" stroke="#111" stroke-width="1" />
<line x1="352.5" y1="261.5" x2="352.5" y2="258.7" stroke="#111" stroke-width="1" />
<line x1="352.5" y1="183.5" x2="352.5" y2="186.3" stroke="#111" stroke-width="1" />
<line x1="360.5" y1="261.5" x2="360.5" y2="258.7" stroke="#111" stroke-width="1" />
<line x1="360.5" y1="183.5" x2="360.5" y2="186.3" stroke="#111" stroke-width="1" />
<line x1="367.5" y1="261.5" x2="367.5" y2="258.7" stroke="#111" stroke-width="1" />
<line x1="367.5" y1="183.5" x2="367.5" y2="186.3" stroke="#111" stroke-width="1" />
<line x1="382.5" y1="261.5" x2="382.5" y2="258.7" stroke="#111" stroke-width="1" />
<line x1="382.5" y1="183.5" x2="382.5" y2="186.3" stroke="#111" stroke-width="1" />
<line x1="390.5" y1="261.5" x2="390.5" y2="258.7" stroke="#111" stroke-width="1" />
<line x1="390.5" y1="183.5" x2="390.5" y2="186.3" stroke="#111" stroke-width="1" />
<line x1="397.5" y1="261.5" x2="397.5" y2="258.7" stroke="#111" stroke-width="1" />
<line x1="397.5" y1="183.5" x2="397.5" y2="186.3" stroke="#111" stroke-width="1" />
<line x1="412.5" y1="261.5" x2="412.5" y2="258.7" stroke="#111" stroke-width="1" />
<line x1="412.5" y1="183.5" x2="412.5" y2="186.3" stroke="#111" stroke-width="1" />
<line x1="420.5" y1="261.5" x2="420.5" y2="258.7" stroke="#111" stroke-width="1" />
<line x1="420.5" y1="183.5" x2="420.5" y2="186.3" stroke="#111" stroke-width="1" />
<line x1="427.5" y1="261.5" x2="427.5" y2="258.7" stroke="#111" stroke-width="1" />
<line x1="427.5" y1="183.5" x2="427.5" y2="186.3" stroke="#111" stroke-width="1" />
<line x1="442.5" y1="261.5" x2="442.5" y2="258.7" stroke="#111" stroke-width="1" />
<line x1="442.5" y1="183.5" x2="442.5" y2="186.3" stroke="#111" stroke-width="1" />
<line x1="449.5" y1="261.5" x2="449.5" y2="258.7" stroke="#111" stroke-width="1" />
<line x1="449.5" y1="183.5" x2="449.5" y2="186.3" stroke="#111" stroke-width="1" />
<line x1="457.5" y1="261.5" x2="457.5" y2="258.7" stroke="#111" stroke-width="1" />
<line x1="457.5" y1="183.5" x2="457.5" y2="186.3" stroke="#111" stroke-width="1" />
<line x1="472.5" y1="261.5" x2="472.5" y2="258.7" stroke="#111" stroke-width="1" />
<line x1="472.5" y1="183.5" x2="472.5" y2="186.3" stroke="#111" stroke-width="1" />
<line x1="345.5" y1="209.5" x2="350.5" y2="209.5" stroke="#111" stroke-width="1" />
<line x1="479.5" y1="209.5" x2="474.5" y2="209.5" stroke="#111" stroke-width="1" />
<line x1="345.5" y1="235.5" x2="350.5" y2="235.5" stroke="#111" stroke-width="1" />
<line x1="479.5" y1="235.5" x2="474.5" y2="235.5" stroke="#111" stroke-width="1" />
<text x="338.7" y="188.2" font-size="14.5" text-anchor="end" font-weight="normal" > 00</text>
<text x="338.7" y="214.23" font-size="14.5" text-anchor="end" font-weight="normal" > 0</text>
<text x="338.7" y="240.27" font-size="14.5" text-anchor="end" font-weight="normal" > </text>
<rect x="345.5" y="263.5" width="134" height="78" fill="none" stroke="#111" stroke-width="1.1"/>
<line x1="375.5" y1="341.5" x2="375.5" y2="336" stroke="#111" stroke-width="1" />
<line x1="375.5" y1="263.5" x2="375.5" y2="269" stroke="#111" stroke-width="1" />
<line x1="405.5" y1="341.5" x2="405.5" y2="336" stroke="#111" stroke-width="1" />
<line x1="405.5" y1="263.5" x2="405.5" y2="269" stroke="#111" stroke-width="1" />
<line x1="434.5" y1="341.5" x2="434.5" y2="336" stroke="#111" stroke-width="1" />
<line x1="434.5" y1="263.5" x2="434.5" y2="269" stroke="#111" stroke-width="1" />
<line x1="464.5" y1="341.5" x2="464.5" y2="336" stroke="#111" stroke-width="1" />
<line x1="464.5" y1="263.5" x2="464.5" y2="269" stroke="#111" stroke-width="1" />
<line x1="352.5" y1="341.5" x2="352.5" y2="338.7" stroke="#111" stroke-width="1" />
<line x1="352.5" y1="263.5" x2="352.5" y2="266.3" stroke="#111" stroke-width="1" />
<line x1="360.5" y1="341.5" x2="360.5" y2="338.7" stroke="#111" stroke-width="1" />
<line x1="360.5" y1="263.5" x2="360.5" y2="266.3" stroke="#111" stroke-width="1" />
<line x1="367.5" y1="341.5" x2="367.5" y2="338.7" stroke="#111" stroke-width="1" />
<line x1="367.5" y1="263.5" x2="367.5" y2="266.3" stroke="#111" stroke-width="1" />
<line x1="382.5" y1="341.5" x2="382.5" y2="338.7" stroke="#111" stroke-width="1" />
<line x1="382.5" y1="263.5" x2="382.5" y2="266.3" stroke="#111" stroke-width="1" />
<line x1="390.5" y1="341.5" x2="390.5" y2="338.7" stroke="#111" stroke-width="1" />
<line x1="390.5" y1="263.5" x2="390.5" y2="266.3" stroke="#111" stroke-width="1" />
<line x1="397.5" y1="341.5" x2="397.5" y2="338.7" stroke="#111" stroke-width="1" />
<line x1="397.5" y1="263.5" x2="397.5" y2="266.3" stroke="#111" stroke-width="1" />
<line x1="412.5" y1="341.5" x2="412.5" y2="338.7" stroke="#111" stroke-width="1" />
<line x1="412.5" y1="263.5" x2="412.5" y2="266.3" stroke="#111" stroke-width="1" />
<line x1="420.5" y1="341.5" x2="420.5" y2="338.7" stroke="#111" stroke-width="1" />
<line x1="420.5" y1="263.5" x2="420.5" y2="266.3" stroke="#111" stroke-width="1" />
<line x1="427.5" y1="341.5" x2="427.5" y2="338.7" stroke="#111" stroke-width="1" />
<line x1="427.5" y1="263.5" x2="427.5" y2="266.3" stroke="#111" stroke-width="1" />
<line x1="442.5" y1="341.5" x2="442.5" y2="338.7" stroke="#111" stroke-width="1" />
<line x1="442.5" y1="263.5" x2="442.5" y2="266.3" stroke="#111" stroke-width="1" />
<line x1="449.5" y1="341.5" x2="449.5" y2="338.7" stroke="#111" stroke-width="1" />
<line x1="449.5" y1="263.5" x2="449.5" y2="266.3" stroke="#111" stroke-width="1" />
<line x1="457.5" y1="341.5" x2="457.5" y2="338.7" stroke="#111" stroke-width="1" />
<line x1="457.5" y1="263.5" x2="457.5" y2="266.3" stroke="#111" stroke-width="1" />
<line x1="472.5" y1="341.5" x2="472.5" y2="338.7" stroke="#111" stroke-width="1" />
<line x1="472.5" y1="263.5" x2="472.5" y2="266.3" stroke="#111" stroke-width="1" />
<line x1="345.5" y1="289.5" x2="350.5" y2="289.5" stroke="#111" stroke-width="1" />
<line x1="479.5" y1="289.5" x2="474.5" y2="289.5" stroke="#111" stroke-width="1" />
<line x1="345.5" y1="315.5" x2="350.5" y2="315.5" stroke="#111" stroke-width="1" />
<line x1="479.5" y1="315.5" x2="474.5" y2="315.5" stroke="#111" stroke-width="1" />
<text x="338.7" y="268.2" font-size="14.5" text-anchor="end" font-weight="normal" > 00</text>
<text x="338.7" y="294.13" font-size="14.5" text-anchor="end" font-weight="normal" > 0</text>
<text x="338.7" y="320.07" font-size="14.5" text-anchor="end" font-weight="normal" > </text>
<text x="345.5" y="357.6" font-size="14.5" text-anchor="middle" font-weight="normal" >0</text>
<text x="375.32" y="357.6" font-size="14.5" text-anchor="middle" font-weight="normal" >20</text>
<text x="405.14" y="357.6" font-size="14.5" text-anchor="middle" font-weight="normal" >40</text>
<text x="434.97" y="357.6" font-size="14.5" text-anchor="middle" font-weight="normal" >60</text>
<text x="464.79" y="357.6" font-size="14.5" text-anchor="middle" font-weight="normal" >80</text>
<text x="413.4" y="376.1" font-size="14.5" text-anchor="middle" font-weight="normal" ><tspan font-style="italic">μ</tspan><tspan font-size="10" dy="3">0</tspan><tspan font-style="italic" dy="-3">H</tspan> (T)</text>
<rect x="522.5" y="20.5" width="134" height="78" fill="none" stroke="#111" stroke-width="1.1"/>
<line x1="552.5" y1="98.5" x2="552.5" y2="93" stroke="#111" stroke-width="1" />
<line x1="552.5" y1="20.5" x2="552.5" y2="26" stroke="#111" stroke-width="1" />
<line x1="581.5" y1="98.5" x2="581.5" y2="93" stroke="#111" stroke-width="1" />
<line x1="581.5" y1="20.5" x2="581.5" y2="26" stroke="#111" stroke-width="1" />
<line x1="611.5" y1="98.5" x2="611.5" y2="93" stroke="#111" stroke-width="1" />
<line x1="611.5" y1="20.5" x2="611.5" y2="26" stroke="#111" stroke-width="1" />
<line x1="641.5" y1="98.5" x2="641.5" y2="93" stroke="#111" stroke-width="1" />
<line x1="641.5" y1="20.5" x2="641.5" y2="26" stroke="#111" stroke-width="1" />
<line x1="529.5" y1="98.5" x2="529.5" y2="95.7" stroke="#111" stroke-width="1" />
<line x1="529.5" y1="20.5" x2="529.5" y2="23.3" stroke="#111" stroke-width="1" />
<line x1="537.5" y1="98.5" x2="537.5" y2="95.7" stroke="#111" stroke-width="1" />
<line x1="537.5" y1="20.5" x2="537.5" y2="23.3" stroke="#111" stroke-width="1" />
<line x1="544.5" y1="98.5" x2="544.5" y2="95.7" stroke="#111" stroke-width="1" />
<line x1="544.5" y1="20.5" x2="544.5" y2="23.3" stroke="#111" stroke-width="1" />
<line x1="559.5" y1="98.5" x2="559.5" y2="95.7" stroke="#111" stroke-width="1" />
<line x1="559.5" y1="20.5" x2="559.5" y2="23.3" stroke="#111" stroke-width="1" />
<line x1="567.5" y1="98.5" x2="567.5" y2="95.7" stroke="#111" stroke-width="1" />
<line x1="567.5" y1="20.5" x2="567.5" y2="23.3" stroke="#111" stroke-width="1" />
<line x1="574.5" y1="98.5" x2="574.5" y2="95.7" stroke="#111" stroke-width="1" />
<line x1="574.5" y1="20.5" x2="574.5" y2="23.3" stroke="#111" stroke-width="1" />
<line x1="589.5" y1="98.5" x2="589.5" y2="95.7" stroke="#111" stroke-width="1" />
<line x1="589.5" y1="20.5" x2="589.5" y2="23.3" stroke="#111" stroke-width="1" />
<line x1="596.5" y1="98.5" x2="596.5" y2="95.7" stroke="#111" stroke-width="1" />
<line x1="596.5" y1="20.5" x2="596.5" y2="23.3" stroke="#111" stroke-width="1" />
<line x1="604.5" y1="98.5" x2="604.5" y2="95.7" stroke="#111" stroke-width="1" />
<line x1="604.5" y1="20.5" x2="604.5" y2="23.3" stroke="#111" stroke-width="1" />
<line x1="619.5" y1="98.5" x2="619.5" y2="95.7" stroke="#111" stroke-width="1" />
<line x1="619.5" y1="20.5" x2="619.5" y2="23.3" stroke="#111" stroke-width="1" />
<line x1="626.5" y1="98.5" x2="626.5" y2="95.7" stroke="#111" stroke-width="1" />
<line x1="626.5" y1="20.5" x2="626.5" y2="23.3" stroke="#111" stroke-width="1" />
<line x1="634.5" y1="98.5" x2="634.5" y2="95.7" stroke="#111" stroke-width="1" />
<line x1="634.5" y1="20.5" x2="634.5" y2="23.3" stroke="#111" stroke-width="1" />
<line x1="649.5" y1="98.5" x2="649.5" y2="95.7" stroke="#111" stroke-width="1" />
<line x1="649.5" y1="20.5" x2="649.5" y2="23.3" stroke="#111" stroke-width="1" />
<line x1="522.5" y1="46.5" x2="527.5" y2="46.5" stroke="#111" stroke-width="1" />
<line x1="656.5" y1="46.5" x2="651.5" y2="46.5" stroke="#111" stroke-width="1" />
<line x1="522.5" y1="72.5" x2="527.5" y2="72.5" stroke="#111" stroke-width="1" />
<line x1="656.5" y1="72.5" x2="651.5" y2="72.5" stroke="#111" stroke-width="1" />
<text x="515.4" y="25.2" font-size="14.5" text-anchor="end" font-weight="normal" > 00</text>
<text x="515.4" y="51.33" font-size="14.5" text-anchor="end" font-weight="normal" > 0</text>
<text x="515.4" y="77.47" font-size="14.5" text-anchor="end" font-weight="normal" > </text>
<rect x="522.5" y="102.5" width="134" height="78" fill="none" stroke="#111" stroke-width="1.1"/>
<line x1="552.5" y1="180.5" x2="552.5" y2="175" stroke="#111" stroke-width="1" />
<line x1="552.5" y1="102.5" x2="552.5" y2="108" stroke="#111" stroke-width="1" />
<line x1="581.5" y1="180.5" x2="581.5" y2="175" stroke="#111" stroke-width="1" />
<line x1="581.5" y1="102.5" x2="581.5" y2="108" stroke="#111" stroke-width="1" />
<line x1="611.5" y1="180.5" x2="611.5" y2="175" stroke="#111" stroke-width="1" />
<line x1="611.5" y1="102.5" x2="611.5" y2="108" stroke="#111" stroke-width="1" />
<line x1="641.5" y1="180.5" x2="641.5" y2="175" stroke="#111" stroke-width="1" />
<line x1="641.5" y1="102.5" x2="641.5" y2="108" stroke="#111" stroke-width="1" />
<line x1="529.5" y1="180.5" x2="529.5" y2="177.7" stroke="#111" stroke-width="1" />
<line x1="529.5" y1="102.5" x2="529.5" y2="105.3" stroke="#111" stroke-width="1" />
<line x1="537.5" y1="180.5" x2="537.5" y2="177.7" stroke="#111" stroke-width="1" />
<line x1="537.5" y1="102.5" x2="537.5" y2="105.3" stroke="#111" stroke-width="1" />
<line x1="544.5" y1="180.5" x2="544.5" y2="177.7" stroke="#111" stroke-width="1" />
<line x1="544.5" y1="102.5" x2="544.5" y2="105.3" stroke="#111" stroke-width="1" />
<line x1="559.5" y1="180.5" x2="559.5" y2="177.7" stroke="#111" stroke-width="1" />
<line x1="559.5" y1="102.5" x2="559.5" y2="105.3" stroke="#111" stroke-width="1" />
<line x1="567.5" y1="180.5" x2="567.5" y2="177.7" stroke="#111" stroke-width="1" />
<line x1="567.5" y1="102.5" x2="567.5" y2="105.3" stroke="#111" stroke-width="1" />
<line x1="574.5" y1="180.5" x2="574.5" y2="177.7" stroke="#111" stroke-width="1" />
<line x1="574.5" y1="102.5" x2="574.5" y2="105.3" stroke="#111" stroke-width="1" />
<line x1="589.5" y1="180.5" x2="589.5" y2="177.7" stroke="#111" stroke-width="1" />
<line x1="589.5" y1="102.5" x2="589.5" y2="105.3" stroke="#111" stroke-width="1" />
<line x1="596.5" y1="180.5" x2="596.5" y2="177.7" stroke="#111" stroke-width="1" />
<line x1="596.5" y1="102.5" x2="596.5" y2="105.3" stroke="#111" stroke-width="1" />
<line x1="604.5" y1="180.5" x2="604.5" y2="177.7" stroke="#111" stroke-width="1" />
<line x1="604.5" y1="102.5" x2="604.5" y2="105.3" stroke="#111" stroke-width="1" />
<line x1="619.5" y1="180.5" x2="619.5" y2="177.7" stroke="#111" stroke-width="1" />
<line x1="619.5" y1="102.5" x2="619.5" y2="105.3" stroke="#111" stroke-width="1" />
<line x1="626.5" y1="180.5" x2="626.5" y2="177.7" stroke="#111" stroke-width="1" />
<line x1="626.5" y1="102.5" x2="626.5" y2="105.3" stroke="#111" stroke-width="1" />
<line x1="634.5" y1="180.5" x2="634.5" y2="177.7" stroke="#111" stroke-width="1" />
<line x1="634.5" y1="102.5" x2="634.5" y2="105.3" stroke="#111" stroke-width="1" />
<line x1="649.5" y1="180.5" x2="649.5" y2="177.7" stroke="#111" stroke-width="1" />
<line x1="649.5" y1="102.5" x2="649.5" y2="105.3" stroke="#111" stroke-width="1" />
<line x1="522.5" y1="128.5" x2="527.5" y2="128.5" stroke="#111" stroke-width="1" />
<line x1="656.5" y1="128.5" x2="651.5" y2="128.5" stroke="#111" stroke-width="1" />
<line x1="522.5" y1="154.5" x2="527.5" y2="154.5" stroke="#111" stroke-width="1" />
<line x1="656.5" y1="154.5" x2="651.5" y2="154.5" stroke="#111" stroke-width="1" />
<text x="515.4" y="107.3" font-size="14.5" text-anchor="end" font-weight="normal" > 00</text>
<text x="515.4" y="133.33" font-size="14.5" text-anchor="end" font-weight="normal" > 0</text>
<text x="515.4" y="159.37" font-size="14.5" text-anchor="end" font-weight="normal" > </text>
<rect x="522.5" y="183.5" width="134" height="78" fill="none" stroke="#111" stroke-width="1.1"/>
<line x1="552.5" y1="261.5" x2="552.5" y2="256" stroke="#111" stroke-width="1" />
<line x1="552.5" y1="183.5" x2="552.5" y2="189" stroke="#111" stroke-width="1" />
<line x1="581.5" y1="261.5" x2="581.5" y2="256" stroke="#111" stroke-width="1" />
<line x1="581.5" y1="183.5" x2="581.5" y2="189" stroke="#111" stroke-width="1" />
<line x1="611.5" y1="261.5" x2="611.5" y2="256" stroke="#111" stroke-width="1" />
<line x1="611.5" y1="183.5" x2="611.5" y2="189" stroke="#111" stroke-width="1" />
<line x1="641.5" y1="261.5" x2="641.5" y2="256" stroke="#111" stroke-width="1" />
<line x1="641.5" y1="183.5" x2="641.5" y2="189" stroke="#111" stroke-width="1" />
<line x1="529.5" y1="261.5" x2="529.5" y2="258.7" stroke="#111" stroke-width="1" />
<line x1="529.5" y1="183.5" x2="529.5" y2="186.3" stroke="#111" stroke-width="1" />
<line x1="537.5" y1="261.5" x2="537.5" y2="258.7" stroke="#111" stroke-width="1" />
<line x1="537.5" y1="183.5" x2="537.5" y2="186.3" stroke="#111" stroke-width="1" />
<line x1="544.5" y1="261.5" x2="544.5" y2="258.7" stroke="#111" stroke-width="1" />
<line x1="544.5" y1="183.5" x2="544.5" y2="186.3" stroke="#111" stroke-width="1" />
<line x1="559.5" y1="261.5" x2="559.5" y2="258.7" stroke="#111" stroke-width="1" />
<line x1="559.5" y1="183.5" x2="559.5" y2="186.3" stroke="#111" stroke-width="1" />
<line x1="567.5" y1="261.5" x2="567.5" y2="258.7" stroke="#111" stroke-width="1" />
<line x1="567.5" y1="183.5" x2="567.5" y2="186.3" stroke="#111" stroke-width="1" />
<line x1="574.5" y1="261.5" x2="574.5" y2="258.7" stroke="#111" stroke-width="1" />
<line x1="574.5" y1="183.5" x2="574.5" y2="186.3" stroke="#111" stroke-width="1" />
<line x1="589.5" y1="261.5" x2="589.5" y2="258.7" stroke="#111" stroke-width="1" />
<line x1="589.5" y1="183.5" x2="589.5" y2="186.3" stroke="#111" stroke-width="1" />
<line x1="596.5" y1="261.5" x2="596.5" y2="258.7" stroke="#111" stroke-width="1" />
<line x1="596.5" y1="183.5" x2="596.5" y2="186.3" stroke="#111" stroke-width="1" />
<line x1="604.5" y1="261.5" x2="604.5" y2="258.7" stroke="#111" stroke-width="1" />
<line x1="604.5" y1="183.5" x2="604.5" y2="186.3" stroke="#111" stroke-width="1" />
<line x1="619.5" y1="261.5" x2="619.5" y2="258.7" stroke="#111" stroke-width="1" />
<line x1="619.5" y1="183.5" x2="619.5" y2="186.3" stroke="#111" stroke-width="1" />
<line x1="626.5" y1="261.5" x2="626.5" y2="258.7" stroke="#111" stroke-width="1" />
<line x1="626.5" y1="183.5" x2="626.5" y2="186.3" stroke="#111" stroke-width="1" />
<line x1="634.5" y1="261.5" x2="634.5" y2="258.7" stroke="#111" stroke-width="1" />
<line x1="634.5" y1="183.5" x2="634.5" y2="186.3" stroke="#111" stroke-width="1" />
<line x1="649.5" y1="261.5" x2="649.5" y2="258.7" stroke="#111" stroke-width="1" />
<line x1="649.5" y1="183.5" x2="649.5" y2="186.3" stroke="#111" stroke-width="1" />
<line x1="522.5" y1="209.5" x2="527.5" y2="209.5" stroke="#111" stroke-width="1" />
<line x1="656.5" y1="209.5" x2="651.5" y2="209.5" stroke="#111" stroke-width="1" />
<line x1="522.5" y1="235.5" x2="527.5" y2="235.5" stroke="#111" stroke-width="1" />
<line x1="656.5" y1="235.5" x2="651.5" y2="235.5" stroke="#111" stroke-width="1" />
<text x="515.4" y="188.2" font-size="14.5" text-anchor="end" font-weight="normal" > 00</text>
<text x="515.4" y="214.23" font-size="14.5" text-anchor="end" font-weight="normal" > 0</text>
<text x="515.4" y="240.27" font-size="14.5" text-anchor="end" font-weight="normal" > </text>
<rect x="522.5" y="263.5" width="134" height="78" fill="none" stroke="#111" stroke-width="1.1"/>
<line x1="552.5" y1="341.5" x2="552.5" y2="336" stroke="#111" stroke-width="1" />
<line x1="552.5" y1="263.5" x2="552.5" y2="269" stroke="#111" stroke-width="1" />
<line x1="581.5" y1="341.5" x2="581.5" y2="336" stroke="#111" stroke-width="1" />
<line x1="581.5" y1="263.5" x2="581.5" y2="269" stroke="#111" stroke-width="1" />
<line x1="611.5" y1="341.5" x2="611.5" y2="336" stroke="#111" stroke-width="1" />
<line x1="611.5" y1="263.5" x2="611.5" y2="269" stroke="#111" stroke-width="1" />
<line x1="641.5" y1="341.5" x2="641.5" y2="336" stroke="#111" stroke-width="1" />
<line x1="641.5" y1="263.5" x2="641.5" y2="269" stroke="#111" stroke-width="1" />
<line x1="529.5" y1="341.5" x2="529.5" y2="338.7" stroke="#111" stroke-width="1" />
<line x1="529.5" y1="263.5" x2="529.5" y2="266.3" stroke="#111" stroke-width="1" />
<line x1="537.5" y1="341.5" x2="537.5" y2="338.7" stroke="#111" stroke-width="1" />
<line x1="537.5" y1="263.5" x2="537.5" y2="266.3" stroke="#111" stroke-width="1" />
<line x1="544.5" y1="341.5" x2="544.5" y2="338.7" stroke="#111" stroke-width="1" />
<line x1="544.5" y1="263.5" x2="544.5" y2="266.3" stroke="#111" stroke-width="1" />
<line x1="559.5" y1="341.5" x2="559.5" y2="338.7" stroke="#111" stroke-width="1" />
<line x1="559.5" y1="263.5" x2="559.5" y2="266.3" stroke="#111" stroke-width="1" />
<line x1="567.5" y1="341.5" x2="567.5" y2="338.7" stroke="#111" stroke-width="1" />
<line x1="567.5" y1="263.5" x2="567.5" y2="266.3" stroke="#111" stroke-width="1" />
<line x1="574.5" y1="341.5" x2="574.5" y2="338.7" stroke="#111" stroke-width="1" />
<line x1="574.5" y1="263.5" x2="574.5" y2="266.3" stroke="#111" stroke-width="1" />
<line x1="589.5" y1="341.5" x2="589.5" y2="338.7" stroke="#111" stroke-width="1" />
<line x1="589.5" y1="263.5" x2="589.5" y2="266.3" stroke="#111" stroke-width="1" />
<line x1="596.5" y1="341.5" x2="596.5" y2="338.7" stroke="#111" stroke-width="1" />
<line x1="596.5" y1="263.5" x2="596.5" y2="266.3" stroke="#111" stroke-width="1" />
<line x1="604.5" y1="341.5" x2="604.5" y2="338.7" stroke="#111" stroke-width="1" />
<line x1="604.5" y1="263.5" x2="604.5" y2="266.3" stroke="#111" stroke-width="1" />
<line x1="619.5" y1="341.5" x2="619.5" y2="338.7" stroke="#111" stroke-width="1" />
<line x1="619.5" y1="263.5" x2="619.5" y2="266.3" stroke="#111" stroke-width="1" />
<line x1="626.5" y1="341.5" x2="626.5" y2="338.7" stroke="#111" stroke-width="1" />
<line x1="626.5" y1="263.5" x2="626.5" y2="266.3" stroke="#111" stroke-width="1" />
<line x1="634.5" y1="341.5" x2="634.5" y2="338.7" stroke="#111" stroke-width="1" />
<line x1="634.5" y1="263.5" x2="634.5" y2="266.3" stroke="#111" stroke-width="1" />
<line x1="649.5" y1="341.5" x2="649.5" y2="338.7" stroke="#111" stroke-width="1" />
<line x1="649.5" y1="263.5" x2="649.5" y2="266.3" stroke="#111" stroke-width="1" />
<line x1="522.5" y1="289.5" x2="527.5" y2="289.5" stroke="#111" stroke-width="1" />
<line x1="656.5" y1="289.5" x2="651.5" y2="289.5" stroke="#111" stroke-width="1" />
<line x1="522.5" y1="315.5" x2="527.5" y2="315.5" stroke="#111" stroke-width="1" />
<line x1="656.5" y1="315.5" x2="651.5" y2="315.5" stroke="#111" stroke-width="1" />
<text x="515.4" y="268.2" font-size="14.5" text-anchor="end" font-weight="normal" > 00</text>
<text x="515.4" y="294.13" font-size="14.5" text-anchor="end" font-weight="normal" > 0</text>
<text x="515.4" y="320.07" font-size="14.5" text-anchor="end" font-weight="normal" > </text>
<text x="522.2" y="357.6" font-size="14.5" text-anchor="middle" font-weight="normal" >0</text>
<text x="552.07" y="357.6" font-size="14.5" text-anchor="middle" font-weight="normal" >20</text>
<text x="581.93" y="357.6" font-size="14.5" text-anchor="middle" font-weight="normal" >40</text>
<text x="611.8" y="357.6" font-size="14.5" text-anchor="middle" font-weight="normal" >60</text>
<text x="641.67" y="357.6" font-size="14.5" text-anchor="middle" font-weight="normal" >80</text>
<text x="590.2" y="376.1" font-size="14.5" text-anchor="middle" font-weight="normal" ><tspan font-style="italic">μ</tspan><tspan font-size="10" dy="3">0</tspan><tspan font-style="italic" dy="-3">H</tspan> (T)</text>
<path d="M361.9,72.34 L361.9,20.4 " fill="none" stroke="#8c8cff" stroke-width="1.4" stroke-linejoin="round" stroke-linecap="butt" />
<path d="M346.5,73.3 L361.9,72.64" fill="none" stroke="#8c8cff" stroke-width="1.0" stroke-linejoin="round" stroke-linecap="butt" />
<path d="M358.9,53.14 L358.9,67.64 L353.4,67.64" fill="none" stroke="#a6a6a6" stroke-width="1.5" stroke-linejoin="round" stroke-linecap="butt" stroke-linejoin="miter"/>
<path d="M354.8,65.54 L347.4,67.64 L354.8,69.74 Z" fill="#a6a6a6"/>
<path d="M345.5,72.7 L395.8,71.6 L395.8,20.4" fill="none" stroke="#0000ff" stroke-width="1.9" stroke-linejoin="round" stroke-linecap="butt" stroke-linejoin="round"/>
<path d="M387,77.9 L403.6,77.9 L403.6,70.6" fill="none" stroke="#000" stroke-width="1.9" stroke-linejoin="round" stroke-linecap="butt" stroke-linejoin="miter"/>
<path d="M400.9,71.8 L403.6,63.6 L406.3,71.8 Z" fill="#000"/>
<path d="M377,153.02 L377,102.5 " fill="none" stroke="#aef0ae" stroke-width="1.4" stroke-linejoin="round" stroke-linecap="butt" />
<path d="M346.5,154.8 L377,153.32" fill="none" stroke="#aef0ae" stroke-width="1.0" stroke-linejoin="round" stroke-linecap="butt" />
<path d="M372,133.82 L372,148.32 L366.2,148.32" fill="none" stroke="#a6a6a6" stroke-width="1.5" stroke-linejoin="round" stroke-linecap="butt" stroke-linejoin="miter"/>
<path d="M367.6,146.22 L360.2,148.32 L367.6,150.42 Z" fill="#a6a6a6"/>
<line x1="346" y1="150" x2="346" y2="156" stroke="#00c800" stroke-width="1.8" />
<path d="M345.5,154.2 L398.9,152.2 L398.9,102.5" fill="none" stroke="#00c800" stroke-width="1.9" stroke-linejoin="round" stroke-linecap="butt" stroke-linejoin="round"/>
<path d="M390.1,158.5 L406.7,158.5 L406.7,151.2" fill="none" stroke="#000" stroke-width="1.9" stroke-linejoin="round" stroke-linecap="butt" stroke-linejoin="miter"/>
<path d="M404,152.4 L406.7,144.2 L409.4,152.4 Z" fill="#000"/>
<path d="M406,232.46 L406,183.4 " fill="none" stroke="#ffe2b4" stroke-width="1.4" stroke-linejoin="round" stroke-linecap="butt" />
<path d="M346.5,234.9 L406,232.76" fill="none" stroke="#ffe2b4" stroke-width="1.0" stroke-linejoin="round" stroke-linecap="butt" />
<path d="M401.6,213.26 L401.6,227.76 L396.2,227.76" fill="none" stroke="#a6a6a6" stroke-width="1.5" stroke-linejoin="round" stroke-linecap="butt" stroke-linejoin="miter"/>
<path d="M397.6,225.66 L390.2,227.76 L397.6,229.86 Z" fill="#a6a6a6"/>
<line x1="346" y1="232" x2="346" y2="237" stroke="#ffa500" stroke-width="1.8" />
<path d="M345.5,234.3 L401.4,233.5 L416,233 L424.8,232.4 L427.6,231.8 L427.6,183.4" fill="none" stroke="#ffa500" stroke-width="1.9" stroke-linejoin="round" stroke-linecap="butt" stroke-linejoin="round"/>
<path d="M418.8,238.1 L435.4,238.1 L435.4,230.8" fill="none" stroke="#000" stroke-width="1.9" stroke-linejoin="round" stroke-linecap="butt" stroke-linejoin="miter"/>
<path d="M432.7,232 L435.4,223.8 L438.1,232 Z" fill="#000"/>
<path d="M445,314.69 L445,263.4 " fill="none" stroke="#ffb4b4" stroke-width="1.4" stroke-linejoin="round" stroke-linecap="butt" />
<path d="M346.5,315.8 L445,314.99" fill="none" stroke="#ffb4b4" stroke-width="1.0" stroke-linejoin="round" stroke-linecap="butt" />
<path d="M438.9,295.49 L438.9,309.99 L433.2,309.99" fill="none" stroke="#a6a6a6" stroke-width="1.5" stroke-linejoin="round" stroke-linecap="butt" stroke-linejoin="miter"/>
<path d="M434.6,307.89 L427.2,309.99 L434.6,312.09 Z" fill="#a6a6a6"/>
<line x1="346" y1="311" x2="346" y2="318" stroke="#ff0000" stroke-width="1.8" />
<path d="M345.5,315.2 L462.3,314.6 L462.3,263.4" fill="none" stroke="#ff0000" stroke-width="1.9" stroke-linejoin="round" stroke-linecap="butt" stroke-linejoin="round"/>
<path d="M453.5,320.9 L470.1,320.9 L470.1,313.6" fill="none" stroke="#000" stroke-width="1.9" stroke-linejoin="round" stroke-linecap="butt" stroke-linejoin="miter"/>
<path d="M467.4,314.8 L470.1,306.6 L472.8,314.8 Z" fill="#000"/>
<path d="M347,307 L350.5,307 M347,321 L351,321 M350.5,318 L350.5,324" fill="none" stroke="#ffb0b0" stroke-width="1.2" stroke-linejoin="round" stroke-linecap="butt" />
<path d="M541.5,71.69 L541.5,20.4 " fill="none" stroke="#c2d0ff" stroke-width="1.4" stroke-linejoin="round" stroke-linecap="butt" />
<path d="M523.2,73.7 L541.5,71.99" fill="none" stroke="#c2d0ff" stroke-width="1.0" stroke-linejoin="round" stroke-linecap="butt" />
<path d="M536.2,52.49 L536.2,66.99 L531,66.99" fill="none" stroke="#a6a6a6" stroke-width="1.5" stroke-linejoin="round" stroke-linecap="butt" stroke-linejoin="miter"/>
<path d="M532.4,64.89 L525,66.99 L532.4,69.09 Z" fill="#a6a6a6"/>
<line x1="522.7" y1="59.1" x2="522.7" y2="81.7" stroke="#0000ff" stroke-width="1.8" />
<path d="M522.2,73.1 L541,72.3 L559.4,70.9 L579.1,69.3 L603.1,67.2 L603.1,20.4" fill="none" stroke="#0000ff" stroke-width="1.9" stroke-linejoin="round" stroke-linecap="butt" stroke-linejoin="round"/>
<path d="M594.3,73.5 L610.9,73.5 L610.9,66.2" fill="none" stroke="#000" stroke-width="1.9" stroke-linejoin="round" stroke-linecap="butt" stroke-linejoin="miter"/>
<path d="M608.2,67.4 L610.9,59.2 L613.6,67.4 Z" fill="#000"/>
<line x1="522.7" y1="150.5" x2="522.7" y2="157" stroke="#00c800" stroke-width="1.8" />
<path d="M522.2,154.1 L575.8,152.6 L575.8,102.5" fill="none" stroke="#00c800" stroke-width="1.9" stroke-linejoin="round" stroke-linecap="butt" stroke-linejoin="round"/>
<path d="M567,158.9 L583.6,158.9 L583.6,151.6" fill="none" stroke="#000" stroke-width="1.9" stroke-linejoin="round" stroke-linecap="butt" stroke-linejoin="miter"/>
<path d="M580.9,152.8 L583.6,144.6 L586.3,152.8 Z" fill="#000"/>
<line x1="522.7" y1="229.9" x2="522.7" y2="247.8" stroke="#ffa500" stroke-width="1.8" />
<path d="M522.2,235.2 L581.8,232.3 L581.8,183.4" fill="none" stroke="#ffa500" stroke-width="1.9" stroke-linejoin="round" stroke-linecap="butt" stroke-linejoin="round"/>
<path d="M573,238.6 L589.6,238.6 L589.6,231.3" fill="none" stroke="#000" stroke-width="1.9" stroke-linejoin="round" stroke-linecap="butt" stroke-linejoin="miter"/>
<path d="M586.9,232.5 L589.6,224.3 L592.3,232.5 Z" fill="#000"/>
<path d="M575.3,313.92 L575.3,263.4 " fill="none" stroke="#ffb4b4" stroke-width="1.4" stroke-linejoin="round" stroke-linecap="butt" />
<path d="M523.2,317.3 L575.3,314.22" fill="none" stroke="#ffb4b4" stroke-width="1.0" stroke-linejoin="round" stroke-linecap="butt" />
<path d="M569,294.72 L569,309.22 L563.3,309.22" fill="none" stroke="#a6a6a6" stroke-width="1.5" stroke-linejoin="round" stroke-linecap="butt" stroke-linejoin="miter"/>
<path d="M564.7,307.12 L557.3,309.22 L564.7,311.32 Z" fill="#a6a6a6"/>
<line x1="522.7" y1="310.8" x2="522.7" y2="323.5" stroke="#ff0000" stroke-width="1.8" />
<path d="M522.2,316.7 L560,315.4 L608.1,312.2 L608.1,263.4" fill="none" stroke="#ff0000" stroke-width="1.9" stroke-linejoin="round" stroke-linecap="butt" stroke-linejoin="round"/>
<path d="M599.3,318.5 L615.9,318.5 L615.9,311.2" fill="none" stroke="#000" stroke-width="1.9" stroke-linejoin="round" stroke-linecap="butt" stroke-linejoin="miter"/>
<path d="M613.2,312.4 L615.9,304.2 L618.6,312.4 Z" fill="#000"/>
<text x="476.4" y="90.4" font-size="14" text-anchor="end" font-weight="normal" >75.3 K</text>
<text x="476.4" y="172.5" font-size="14" text-anchor="end" font-weight="normal" >76.0 K</text>
<text x="476.4" y="253.4" font-size="14" text-anchor="end" font-weight="normal" >80.0 K</text>
<text x="476.4" y="333.4" font-size="14" text-anchor="end" font-weight="normal" >86.7 K</text>
<text x="655" y="90.4" font-size="14" text-anchor="end" font-weight="normal" >2 .0 K</text>
<text x="655" y="172.5" font-size="14" text-anchor="end" font-weight="normal" >40.0 K</text>
<text x="655" y="253.4" font-size="14" text-anchor="end" font-weight="normal" >49.0 K</text>
<text x="655" y="333.4" font-size="14" text-anchor="end" font-weight="normal" >64.0 K</text>
<text x="408.2" y="37.6" font-size="14" text-anchor="start" font-weight="normal" >Insulator</text>
<text x="351.2" y="89.9" font-size="14" text-anchor="start" font-weight="normal" >Metal</text>
<text x="408.6" y="14.2" font-size="14" text-anchor="middle" font-weight="normal" ><tspan font-style="italic">x</tspan> =  </text>
<text x="589.5" y="14.2" font-size="14" text-anchor="middle" font-weight="normal" ><tspan font-style="italic">x</tspan> = 0.3</text>
<text x="297.8" y="15.8" font-size="14" text-anchor="start" font-weight="bold" >b</text>
<text x="484.2" y="16.4" font-size="14" text-anchor="start" font-weight="bold" >c</text>
<text x="308.6" y="176.5" font-size="14.2" text-anchor="middle" transform="rotate(-90 308.6 176.5)"><tspan font-style="italic">ρ</tspan>(<tspan font-style="italic">H</tspan>)/<tspan font-style="italic">ρ</tspan>(0 T)</text>
<path d="M41,407.47 C41.32,408.22 42.28,410.49 42.92,411.97 C43.56,413.45 44.2,414.92 44.84,416.37 C45.48,417.81 46.12,419.24 46.76,420.65 C47.4,422.06 48.04,423.46 48.68,424.83 C49.32,426.2 49.97,427.56 50.61,428.9 C51.25,430.24 51.89,431.56 52.53,432.86 C53.17,434.16 53.81,435.44 54.45,436.71 C55.09,437.97 55.73,439.22 56.37,440.45 C57.01,441.68 57.65,442.89 58.29,444.08 C58.93,445.28 59.57,446.45 60.21,447.61 C60.85,448.76 61.49,449.9 62.13,451.02 C62.77,452.14 63.41,453.24 64.05,454.33 C64.69,455.41 65.33,456.47 65.97,457.52 C66.62,458.57 67.26,459.6 67.9,460.61 C68.54,461.62 69.18,462.61 69.82,463.59 C70.46,464.56 71.1,465.52 71.74,466.46 C72.38,467.4 73.02,468.32 73.66,469.22 C74.3,470.12 74.94,471 75.58,471.87 C76.22,472.73 76.86,473.58 77.5,474.41 C78.14,475.24 78.78,476.05 79.42,476.84 C80.06,477.64 80.7,478.41 81.34,479.17 C81.98,479.93 82.62,480.66 83.27,481.38 C83.91,482.1 84.55,482.81 85.19,483.49 C85.83,484.17 86.47,484.84 87.11,485.49 C87.75,486.14 88.39,486.76 89.03,487.38 C89.67,487.99 90.31,488.58 90.95,489.16 C91.59,489.73 92.23,490.29 92.87,490.83 C93.51,491.36 94.25,491.96 94.79,492.39 C95.33,492.82 95.89,493.23 96.11,493.4" fill="none" stroke="#20b2aa" stroke-width="1.2" stroke-linejoin="round" stroke-linecap="butt" />
<path d="M146.98,493.4 C147.16,493.27 147.6,492.98 148.1,492.61 C148.61,492.24 149.38,491.68 150.02,491.18 C150.67,490.68 151.31,490.17 151.95,489.63 C152.59,489.1 153.23,488.54 153.87,487.97 C154.51,487.39 155.15,486.8 155.79,486.19 C156.43,485.57 157.07,484.94 157.71,484.28 C158.35,483.63 158.99,482.96 159.63,482.26 C160.27,481.57 160.91,480.86 161.55,480.13 C162.19,479.39 162.83,478.64 163.47,477.87 C164.11,477.1 164.75,476.31 165.39,475.49 C166.03,474.68 166.67,473.85 167.32,473 C167.96,472.15 168.6,471.28 169.24,470.39 C169.88,469.5 170.52,468.59 171.16,467.66 C171.8,466.73 172.44,465.78 173.08,464.81 C173.72,463.85 174.36,462.86 175,461.85 C175.64,460.84 176.28,459.81 176.92,458.77 C177.56,457.72 178.2,456.65 178.84,455.56 C179.48,454.48 180.12,453.37 180.76,452.24 C181.4,451.12 182.04,449.97 182.68,448.81 C183.32,447.64 183.97,446.45 184.61,445.25 C185.25,444.04 185.89,442.82 186.53,441.57 C187.17,440.33 187.81,439.07 188.45,437.78 C189.09,436.5 189.73,435.19 190.37,433.87 C191.01,432.55 191.65,431.2 192.29,429.84 C192.93,428.48 193.57,427.1 194.21,425.69 C194.85,424.29 195.49,422.87 196.13,421.43 C196.77,419.99 197.41,418.53 198.05,417.05 C198.69,415.56 199.33,414.06 199.97,412.54 C200.61,411.02 201.32,409.33 201.9,407.92 C202.47,406.52 203.19,404.74 203.45,404.1" fill="none" stroke="#20b2aa" stroke-width="1.2" stroke-linejoin="round" stroke-linecap="butt" />
<path d="M61.36,404.1 C61.76,404.61 62.96,406.15 63.76,407.14 C64.56,408.14 65.36,409.11 66.16,410.07 C66.96,411.03 67.76,411.97 68.56,412.89 C69.36,413.81 70.17,414.71 70.97,415.6 C71.77,416.48 72.57,417.35 73.37,418.2 C74.17,419.05 74.97,419.87 75.77,420.69 C76.57,421.5 77.37,422.29 78.17,423.06 C78.97,423.84 79.77,424.59 80.57,425.33 C81.37,426.07 82.17,426.79 82.97,427.49 C83.77,428.19 84.57,428.87 85.37,429.53 C86.17,430.2 86.98,430.84 87.78,431.47 C88.58,432.1 89.38,432.7 90.18,433.29 C90.98,433.88 91.78,434.46 92.58,435.01 C93.38,435.56 94.18,436.1 94.98,436.61 C95.78,437.13 96.58,437.63 97.38,438.11 C98.18,438.59 98.98,439.05 99.78,439.49 C100.58,439.93 101.38,440.36 102.18,440.76 C102.98,441.17 103.79,441.56 104.59,441.93 C105.39,442.3 106.19,442.65 106.99,442.98 C107.79,443.31 108.59,443.62 109.39,443.92 C110.19,444.22 110.99,444.49 111.79,444.75 C112.59,445.01 113.39,445.25 114.19,445.47 C114.99,445.69 115.79,445.9 116.59,446.08 C117.39,446.27 118.19,446.43 118.99,446.58 C119.79,446.73 120.6,446.86 121.4,446.97 C122.2,447.08 123,447.17 123.8,447.25 C124.6,447.32 125.4,447.38 126.2,447.42 C127,447.45 127.8,447.47 128.6,447.47 C129.4,447.48 130.2,447.46 131,447.42 C131.8,447.39 132.6,447.33 133.4,447.26 C134.2,447.19 135,447.09 135.8,446.98 C136.6,446.87 137.41,446.75 138.21,446.6 C139.01,446.45 139.81,446.29 140.61,446.11 C141.41,445.92 142.21,445.72 143.01,445.5 C143.81,445.28 144.61,445.04 145.41,444.78 C146.21,444.53 147.01,444.25 147.81,443.96 C148.61,443.66 149.41,443.35 150.21,443.02 C151.01,442.69 151.81,442.34 152.61,441.97 C153.41,441.61 154.22,441.22 155.02,440.82 C155.82,440.41 156.62,439.99 157.42,439.55 C158.22,439.11 159.02,438.65 159.82,438.17 C160.62,437.69 161.42,437.2 162.22,436.68 C163.02,436.17 163.82,435.63 164.62,435.08 C165.42,434.53 166.22,433.96 167.02,433.37 C167.82,432.78 168.62,432.18 169.42,431.55 C170.22,430.93 171.03,430.28 171.83,429.62 C172.63,428.96 173.43,428.28 174.23,427.58 C175.03,426.88 175.83,426.16 176.63,425.43 C177.43,424.69 178.23,423.94 179.03,423.16 C179.83,422.39 180.63,421.6 181.43,420.79 C182.23,419.98 183.03,419.15 183.83,418.31 C184.63,417.46 185.43,416.6 186.23,415.71 C187.03,414.83 187.84,413.93 188.64,413.01 C189.44,412.09 190.24,411.15 191.04,410.2 C191.84,409.24 192.64,408.26 193.44,407.27 C194.24,406.28 195.42,404.76 195.84,404.23 C196.26,403.71 195.93,404.12 195.94,404.1" fill="none" stroke="#00a2ff" stroke-width="2.0" stroke-linejoin="round" stroke-linecap="butt" stroke-dasharray="4.2 2.8"/>
<circle cx="79.3" cy="423.8" r="3.3" fill="#00a2ff"/>
<circle cx="92.5" cy="434.5" r="3.3" fill="#00a2ff"/>
<circle cx="125.2" cy="447.1" r="3.3" fill="#00a2ff"/>
<circle cx="146.7" cy="442.8" r="3.3" fill="#00a2ff"/>
<circle cx="163.5" cy="435.7" r="3.3" fill="#00a2ff"/>
<circle cx="182.8" cy="420" r="3.3" fill="#00a2ff"/>
<circle cx="79.3" cy="477" r="3.3" fill="#00cfd2"/>
<circle cx="92.8" cy="490.7" r="3.3" fill="#00cfd2"/>
<circle cx="163.6" cy="477.2" r="3.3" fill="#00cfd2"/>
<circle cx="183.3" cy="448.3" r="3.3" fill="#00cfd2"/>
<rect x="41.5" y="404.5" width="168" height="89" fill="none" stroke="#111" stroke-width="1.1"/>
<line x1="77.5" y1="493.5" x2="77.5" y2="488" stroke="#111" stroke-width="1" />
<line x1="77.5" y1="404.5" x2="77.5" y2="410" stroke="#111" stroke-width="1" />
<line x1="125.5" y1="493.5" x2="125.5" y2="488" stroke="#111" stroke-width="1" />
<line x1="125.5" y1="404.5" x2="125.5" y2="410" stroke="#111" stroke-width="1" />
<line x1="173.5" y1="493.5" x2="173.5" y2="488" stroke="#111" stroke-width="1" />
<line x1="173.5" y1="404.5" x2="173.5" y2="410" stroke="#111" stroke-width="1" />
<line x1="53.5" y1="493.5" x2="53.5" y2="489.3" stroke="#111" stroke-width="1" />
<line x1="53.5" y1="404.5" x2="53.5" y2="408.7" stroke="#111" stroke-width="1" />
<line x1="101.5" y1="493.5" x2="101.5" y2="489.3" stroke="#111" stroke-width="1" />
<line x1="101.5" y1="404.5" x2="101.5" y2="408.7" stroke="#111" stroke-width="1" />
<line x1="149.5" y1="493.5" x2="149.5" y2="489.3" stroke="#111" stroke-width="1" />
<line x1="149.5" y1="404.5" x2="149.5" y2="408.7" stroke="#111" stroke-width="1" />
<line x1="197.5" y1="493.5" x2="197.5" y2="489.3" stroke="#111" stroke-width="1" />
<line x1="197.5" y1="404.5" x2="197.5" y2="408.7" stroke="#111" stroke-width="1" />
<line x1="43.5" y1="493.5" x2="43.5" y2="490.9" stroke="#111" stroke-width="1" />
<line x1="43.5" y1="404.5" x2="43.5" y2="407.1" stroke="#111" stroke-width="1" />
<line x1="48.5" y1="493.5" x2="48.5" y2="490.9" stroke="#111" stroke-width="1" />
<line x1="48.5" y1="404.5" x2="48.5" y2="407.1" stroke="#111" stroke-width="1" />
<line x1="57.5" y1="493.5" x2="57.5" y2="490.9" stroke="#111" stroke-width="1" />
<line x1="57.5" y1="404.5" x2="57.5" y2="407.1" stroke="#111" stroke-width="1" />
<line x1="62.5" y1="493.5" x2="62.5" y2="490.9" stroke="#111" stroke-width="1" />
<line x1="62.5" y1="404.5" x2="62.5" y2="407.1" stroke="#111" stroke-width="1" />
<line x1="67.5" y1="493.5" x2="67.5" y2="490.9" stroke="#111" stroke-width="1" />
<line x1="67.5" y1="404.5" x2="67.5" y2="407.1" stroke="#111" stroke-width="1" />
<line x1="72.5" y1="493.5" x2="72.5" y2="490.9" stroke="#111" stroke-width="1" />
<line x1="72.5" y1="404.5" x2="72.5" y2="407.1" stroke="#111" stroke-width="1" />
<line x1="81.5" y1="493.5" x2="81.5" y2="490.9" stroke="#111" stroke-width="1" />
<line x1="81.5" y1="404.5" x2="81.5" y2="407.1" stroke="#111" stroke-width="1" />
<line x1="86.5" y1="493.5" x2="86.5" y2="490.9" stroke="#111" stroke-width="1" />
<line x1="86.5" y1="404.5" x2="86.5" y2="407.1" stroke="#111" stroke-width="1" />
<line x1="91.5" y1="493.5" x2="91.5" y2="490.9" stroke="#111" stroke-width="1" />
<line x1="91.5" y1="404.5" x2="91.5" y2="407.1" stroke="#111" stroke-width="1" />
<line x1="96.5" y1="493.5" x2="96.5" y2="490.9" stroke="#111" stroke-width="1" />
<line x1="96.5" y1="404.5" x2="96.5" y2="407.1" stroke="#111" stroke-width="1" />
<line x1="105.5" y1="493.5" x2="105.5" y2="490.9" stroke="#111" stroke-width="1" />
<line x1="105.5" y1="404.5" x2="105.5" y2="407.1" stroke="#111" stroke-width="1" />
<line x1="110.5" y1="493.5" x2="110.5" y2="490.9" stroke="#111" stroke-width="1" />
<line x1="110.5" y1="404.5" x2="110.5" y2="407.1" stroke="#111" stroke-width="1" />
<line x1="115.5" y1="493.5" x2="115.5" y2="490.9" stroke="#111" stroke-width="1" />
<line x1="115.5" y1="404.5" x2="115.5" y2="407.1" stroke="#111" stroke-width="1" />
<line x1="120.5" y1="493.5" x2="120.5" y2="490.9" stroke="#111" stroke-width="1" />
<line x1="120.5" y1="404.5" x2="120.5" y2="407.1" stroke="#111" stroke-width="1" />
<line x1="129.5" y1="493.5" x2="129.5" y2="490.9" stroke="#111" stroke-width="1" />
<line x1="129.5" y1="404.5" x2="129.5" y2="407.1" stroke="#111" stroke-width="1" />
<line x1="134.5" y1="493.5" x2="134.5" y2="490.9" stroke="#111" stroke-width="1" />
<line x1="134.5" y1="404.5" x2="134.5" y2="407.1" stroke="#111" stroke-width="1" />
<line x1="139.5" y1="493.5" x2="139.5" y2="490.9" stroke="#111" stroke-width="1" />
<line x1="139.5" y1="404.5" x2="139.5" y2="407.1" stroke="#111" stroke-width="1" />
<line x1="144.5" y1="493.5" x2="144.5" y2="490.9" stroke="#111" stroke-width="1" />
<line x1="144.5" y1="404.5" x2="144.5" y2="407.1" stroke="#111" stroke-width="1" />
<line x1="153.5" y1="493.5" x2="153.5" y2="490.9" stroke="#111" stroke-width="1" />
<line x1="153.5" y1="404.5" x2="153.5" y2="407.1" stroke="#111" stroke-width="1" />
<line x1="158.5" y1="493.5" x2="158.5" y2="490.9" stroke="#111" stroke-width="1" />
<line x1="158.5" y1="404.5" x2="158.5" y2="407.1" stroke="#111" stroke-width="1" />
<line x1="163.5" y1="493.5" x2="163.5" y2="490.9" stroke="#111" stroke-width="1" />
<line x1="163.5" y1="404.5" x2="163.5" y2="407.1" stroke="#111" stroke-width="1" />
<line x1="168.5" y1="493.5" x2="168.5" y2="490.9" stroke="#111" stroke-width="1" />
<line x1="168.5" y1="404.5" x2="168.5" y2="407.1" stroke="#111" stroke-width="1" />
<line x1="177.5" y1="493.5" x2="177.5" y2="490.9" stroke="#111" stroke-width="1" />
<line x1="177.5" y1="404.5" x2="177.5" y2="407.1" stroke="#111" stroke-width="1" />
<line x1="182.5" y1="493.5" x2="182.5" y2="490.9" stroke="#111" stroke-width="1" />
<line x1="182.5" y1="404.5" x2="182.5" y2="407.1" stroke="#111" stroke-width="1" />
<line x1="187.5" y1="493.5" x2="187.5" y2="490.9" stroke="#111" stroke-width="1" />
<line x1="187.5" y1="404.5" x2="187.5" y2="407.1" stroke="#111" stroke-width="1" />
<line x1="192.5" y1="493.5" x2="192.5" y2="490.9" stroke="#111" stroke-width="1" />
<line x1="192.5" y1="404.5" x2="192.5" y2="407.1" stroke="#111" stroke-width="1" />
<line x1="201.5" y1="493.5" x2="201.5" y2="490.9" stroke="#111" stroke-width="1" />
<line x1="201.5" y1="404.5" x2="201.5" y2="407.1" stroke="#111" stroke-width="1" />
<line x1="206.5" y1="493.5" x2="206.5" y2="490.9" stroke="#111" stroke-width="1" />
<line x1="206.5" y1="404.5" x2="206.5" y2="407.1" stroke="#111" stroke-width="1" />
<line x1="41.5" y1="493.5" x2="46.5" y2="493.5" stroke="#111" stroke-width="1" />
<line x1="209.5" y1="493.5" x2="204.5" y2="493.5" stroke="#111" stroke-width="1" />
<line x1="41.5" y1="467.5" x2="46.5" y2="467.5" stroke="#111" stroke-width="1" />
<line x1="209.5" y1="467.5" x2="204.5" y2="467.5" stroke="#111" stroke-width="1" />
<line x1="41.5" y1="442.5" x2="46.5" y2="442.5" stroke="#111" stroke-width="1" />
<line x1="209.5" y1="442.5" x2="204.5" y2="442.5" stroke="#111" stroke-width="1" />
<line x1="41.5" y1="416.5" x2="46.5" y2="416.5" stroke="#111" stroke-width="1" />
<line x1="209.5" y1="416.5" x2="204.5" y2="416.5" stroke="#111" stroke-width="1" />
<line x1="41.5" y1="480.5" x2="44.5" y2="480.5" stroke="#111" stroke-width="1" />
<line x1="209.5" y1="480.5" x2="206.5" y2="480.5" stroke="#111" stroke-width="1" />
<line x1="41.5" y1="455.5" x2="44.5" y2="455.5" stroke="#111" stroke-width="1" />
<line x1="209.5" y1="455.5" x2="206.5" y2="455.5" stroke="#111" stroke-width="1" />
<line x1="41.5" y1="429.5" x2="44.5" y2="429.5" stroke="#111" stroke-width="1" />
<line x1="209.5" y1="429.5" x2="206.5" y2="429.5" stroke="#111" stroke-width="1" />
<line x1="41.5" y1="404.5" x2="44.5" y2="404.5" stroke="#111" stroke-width="1" />
<line x1="209.5" y1="404.5" x2="206.5" y2="404.5" stroke="#111" stroke-width="1" />
<text x="77.02" y="511" font-size="14.5" text-anchor="middle" font-weight="normal" >20</text>
<text x="125.05" y="511" font-size="14.5" text-anchor="middle" font-weight="normal" >40</text>
<text x="173.08" y="511" font-size="14.5" text-anchor="middle" font-weight="normal" >60</text>
<text x="37" y="498.2" font-size="14.5" text-anchor="end" font-weight="normal" >0</text>
<text x="37" y="472.69" font-size="14.5" text-anchor="end" font-weight="normal" >20</text>
<text x="37" y="447.17" font-size="14.5" text-anchor="end" font-weight="normal" >40</text>
<text x="37" y="421.66" font-size="14.5" text-anchor="end" font-weight="normal" >60</text>
<text x="125.2" y="529" font-size="14.5" text-anchor="middle" font-weight="normal" ><tspan font-style="italic">T</tspan> (K)</text>
<text x="14.2" y="448.8" font-size="14.2" text-anchor="middle" transform="rotate(-90 14.2 448.8)"><tspan font-style="italic">μ</tspan><tspan font-size="10" dy="3">0</tspan><tspan font-style="italic" dy="-3">H</tspan> (T)</text>
<text x="1" y="401.4" font-size="14" text-anchor="start" font-weight="bold" >d</text>
<text x="92.1" y="427.3" font-size="14" text-anchor="start" font-weight="normal" >Insulator</text>
<text x="82.6" y="466.6" font-size="14" text-anchor="start" font-weight="normal" >hysteresis</text>
<text x="171.4" y="487.3" font-size="14" text-anchor="start" font-weight="normal" >Metal</text>
<path d="M52.4,721.67 C52.73,721.62 53.73,721.49 54.4,721.36 C55.07,721.22 55.73,721.05 56.4,720.86 C57.07,720.66 57.73,720.44 58.4,720.19 C59.07,719.94 59.73,719.66 60.4,719.36 C61.07,719.06 61.73,718.74 62.4,718.39 C63.07,718.05 63.73,717.68 64.4,717.3 C65.07,716.91 65.73,716.51 66.4,716.09 C67.07,715.67 67.73,715.23 68.4,714.78 C69.07,714.33 69.73,713.87 70.4,713.39 C71.07,712.92 71.73,712.43 72.4,711.94 C73.07,711.45 73.73,710.94 74.4,710.43 C75.07,709.92 75.73,709.4 76.4,708.89 C77.07,708.37 77.73,707.84 78.4,707.32 C79.07,706.79 79.73,706.26 80.4,705.74 C81.07,705.21 81.73,704.69 82.4,704.17 C83.07,703.65 83.73,703.13 84.4,702.62 C85.07,702.11 85.73,701.6 86.4,701.1 C87.07,700.6 87.73,700.1 88.4,699.61 C89.07,699.11 89.73,698.63 90.4,698.14 C91.07,697.66 91.73,697.18 92.4,696.71 C93.07,696.24 93.73,695.77 94.4,695.31 C95.07,694.84 95.73,694.39 96.4,693.93 C97.07,693.48 97.73,693.03 98.4,692.59 C99.07,692.14 99.73,691.71 100.4,691.27 C101.07,690.84 101.73,690.41 102.4,689.99 C103.07,689.56 103.73,689.14 104.4,688.73 C105.07,688.32 105.73,687.91 106.4,687.5 C107.07,687.1 107.73,686.7 108.4,686.31 C109.07,685.92 109.73,685.53 110.4,685.14 C111.07,684.76 111.73,684.38 112.4,684.01 C113.07,683.64 113.73,683.27 114.4,682.9 C115.07,682.54 115.73,682.18 116.4,681.83 C117.07,681.48 117.73,681.13 118.4,680.78 C119.07,680.44 119.73,680.1 120.4,679.77 C121.07,679.43 121.73,679.1 122.4,678.78 C123.07,678.45 123.73,678.13 124.4,677.82 C125.07,677.5 125.73,677.19 126.4,676.88 C127.07,676.58 127.73,676.27 128.4,675.97 C129.07,675.67 129.73,675.38 130.4,675.09 C131.07,674.8 131.73,674.51 132.4,674.23 C133.07,673.94 133.73,673.66 134.4,673.39 C135.07,673.11 135.73,672.84 136.4,672.57 C137.07,672.3 137.73,672.04 138.4,671.78 C139.07,671.51 139.73,671.26 140.4,671 C141.07,670.74 141.73,670.49 142.4,670.24 C143.07,669.99 143.73,669.75 144.4,669.51 C145.07,669.26 145.73,669.02 146.4,668.79 C147.07,668.55 147.73,668.31 148.4,668.08 C149.07,667.85 149.73,667.62 150.4,667.4 C151.07,667.17 151.73,666.94 152.4,666.72 C153.07,666.5 153.73,666.28 154.4,666.06 C155.07,665.85 155.73,665.63 156.4,665.42 C157.07,665.21 157.73,665 158.4,664.79 C159.07,664.58 159.73,664.37 160.4,664.17 C161.07,663.96 161.73,663.76 162.4,663.56 C163.07,663.36 163.73,663.16 164.4,662.96 C165.07,662.76 165.73,662.56 166.4,662.37 C167.07,662.17 167.73,661.98 168.4,661.78 C169.07,661.59 169.73,661.4 170.4,661.21 C171.07,661.02 171.73,660.83 172.4,660.64 C173.07,660.45 173.73,660.26 174.4,660.08 C175.07,659.89 175.73,659.7 176.4,659.52 C177.07,659.33 177.73,659.15 178.4,658.96 C179.07,658.78 179.73,658.6 180.4,658.41 C181.07,658.23 181.73,658.05 182.4,657.86 C183.07,657.68 183.73,657.5 184.4,657.32 C185.07,657.13 185.73,656.95 186.4,656.77 C187.07,656.59 187.73,656.4 188.4,656.22 C189.07,656.04 189.73,655.86 190.4,655.67 C191.07,655.49 191.73,655.31 192.4,655.12 C193.07,654.94 193.73,654.75 194.4,654.57 C195.07,654.38 195.73,654.2 196.4,654.01 C197.07,653.82 197.73,653.64 198.4,653.45 C199.07,653.26 199.73,653.07 200.4,652.88 C201.07,652.69 201.73,652.5 202.4,652.31 C203.07,652.12 203.73,651.92 204.4,651.73 C205.07,651.53 205.73,651.34 206.4,651.14 C207.07,650.94 208.07,650.64 208.4,650.54" fill="none" stroke="#000" stroke-width="2.6" stroke-linejoin="round" stroke-linecap="butt" />
<path d="M77,546.5 L77,702.8 L70.9,706.4 L64.6,711.5" fill="none" stroke="#00a8ff" stroke-width="2.0" stroke-linejoin="round" stroke-linecap="butt" />
<path d="M97.9,546.5 L97.9,691.1 L103.7,687.9 L112.8,682.3" fill="none" stroke="#00a8ff" stroke-width="2.0" stroke-linejoin="round" stroke-linecap="butt" />
<circle cx="64.6" cy="711.5" r="3.3" fill="#00a8ff"/>
<circle cx="70.9" cy="706.4" r="3.3" fill="#00a8ff"/>
<circle cx="103.7" cy="687.9" r="3.3" fill="#00a8ff"/>
<circle cx="112.8" cy="682.3" r="3.3" fill="#00a8ff"/>
<rect x="41.5" y="547.5" width="168" height="179" fill="none" stroke="#111" stroke-width="1.1"/>
<line x1="41.5" y1="726.5" x2="41.5" y2="720.5" stroke="#111" stroke-width="1" />
<line x1="41.5" y1="547.5" x2="41.5" y2="553.5" stroke="#111" stroke-width="1" />
<line x1="97.5" y1="726.5" x2="97.5" y2="720.5" stroke="#111" stroke-width="1" />
<line x1="97.5" y1="547.5" x2="97.5" y2="553.5" stroke="#111" stroke-width="1" />
<line x1="153.5" y1="726.5" x2="153.5" y2="720.5" stroke="#111" stroke-width="1" />
<line x1="153.5" y1="547.5" x2="153.5" y2="553.5" stroke="#111" stroke-width="1" />
<line x1="209.5" y1="726.5" x2="209.5" y2="720.5" stroke="#111" stroke-width="1" />
<line x1="209.5" y1="547.5" x2="209.5" y2="553.5" stroke="#111" stroke-width="1" />
<line x1="52.5" y1="726.5" x2="52.5" y2="723.5" stroke="#111" stroke-width="1" />
<line x1="52.5" y1="547.5" x2="52.5" y2="550.5" stroke="#111" stroke-width="1" />
<line x1="63.5" y1="726.5" x2="63.5" y2="723.5" stroke="#111" stroke-width="1" />
<line x1="63.5" y1="547.5" x2="63.5" y2="550.5" stroke="#111" stroke-width="1" />
<line x1="75.5" y1="726.5" x2="75.5" y2="723.5" stroke="#111" stroke-width="1" />
<line x1="75.5" y1="547.5" x2="75.5" y2="550.5" stroke="#111" stroke-width="1" />
<line x1="86.5" y1="726.5" x2="86.5" y2="723.5" stroke="#111" stroke-width="1" />
<line x1="86.5" y1="547.5" x2="86.5" y2="550.5" stroke="#111" stroke-width="1" />
<line x1="108.5" y1="726.5" x2="108.5" y2="723.5" stroke="#111" stroke-width="1" />
<line x1="108.5" y1="547.5" x2="108.5" y2="550.5" stroke="#111" stroke-width="1" />
<line x1="119.5" y1="726.5" x2="119.5" y2="723.5" stroke="#111" stroke-width="1" />
<line x1="119.5" y1="547.5" x2="119.5" y2="550.5" stroke="#111" stroke-width="1" />
<line x1="131.5" y1="726.5" x2="131.5" y2="723.5" stroke="#111" stroke-width="1" />
<line x1="131.5" y1="547.5" x2="131.5" y2="550.5" stroke="#111" stroke-width="1" />
<line x1="142.5" y1="726.5" x2="142.5" y2="723.5" stroke="#111" stroke-width="1" />
<line x1="142.5" y1="547.5" x2="142.5" y2="550.5" stroke="#111" stroke-width="1" />
<line x1="164.5" y1="726.5" x2="164.5" y2="723.5" stroke="#111" stroke-width="1" />
<line x1="164.5" y1="547.5" x2="164.5" y2="550.5" stroke="#111" stroke-width="1" />
<line x1="175.5" y1="726.5" x2="175.5" y2="723.5" stroke="#111" stroke-width="1" />
<line x1="175.5" y1="547.5" x2="175.5" y2="550.5" stroke="#111" stroke-width="1" />
<line x1="187.5" y1="726.5" x2="187.5" y2="723.5" stroke="#111" stroke-width="1" />
<line x1="187.5" y1="547.5" x2="187.5" y2="550.5" stroke="#111" stroke-width="1" />
<line x1="198.5" y1="726.5" x2="198.5" y2="723.5" stroke="#111" stroke-width="1" />
<line x1="198.5" y1="547.5" x2="198.5" y2="550.5" stroke="#111" stroke-width="1" />
<line x1="41.5" y1="726.5" x2="47.5" y2="726.5" stroke="#111" stroke-width="1" />
<line x1="209.5" y1="726.5" x2="203.5" y2="726.5" stroke="#111" stroke-width="1" />
<line x1="41.5" y1="682.5" x2="47.5" y2="682.5" stroke="#111" stroke-width="1" />
<line x1="209.5" y1="682.5" x2="203.5" y2="682.5" stroke="#111" stroke-width="1" />
<line x1="41.5" y1="637.5" x2="47.5" y2="637.5" stroke="#111" stroke-width="1" />
<line x1="209.5" y1="637.5" x2="203.5" y2="637.5" stroke="#111" stroke-width="1" />
<line x1="41.5" y1="592.5" x2="47.5" y2="592.5" stroke="#111" stroke-width="1" />
<line x1="209.5" y1="592.5" x2="203.5" y2="592.5" stroke="#111" stroke-width="1" />
<line x1="41.5" y1="547.5" x2="47.5" y2="547.5" stroke="#111" stroke-width="1" />
<line x1="209.5" y1="547.5" x2="203.5" y2="547.5" stroke="#111" stroke-width="1" />
<line x1="41.5" y1="713.5" x2="45" y2="713.5" stroke="#111" stroke-width="1" />
<line x1="209.5" y1="713.5" x2="206" y2="713.5" stroke="#111" stroke-width="1" />
<line x1="41.5" y1="705.5" x2="45" y2="705.5" stroke="#111" stroke-width="1" />
<line x1="209.5" y1="705.5" x2="206" y2="705.5" stroke="#111" stroke-width="1" />
<line x1="41.5" y1="699.5" x2="45" y2="699.5" stroke="#111" stroke-width="1" />
<line x1="209.5" y1="699.5" x2="206" y2="699.5" stroke="#111" stroke-width="1" />
<line x1="41.5" y1="695.5" x2="45" y2="695.5" stroke="#111" stroke-width="1" />
<line x1="209.5" y1="695.5" x2="206" y2="695.5" stroke="#111" stroke-width="1" />
<line x1="41.5" y1="691.5" x2="45" y2="691.5" stroke="#111" stroke-width="1" />
<line x1="209.5" y1="691.5" x2="206" y2="691.5" stroke="#111" stroke-width="1" />
<line x1="41.5" y1="688.5" x2="45" y2="688.5" stroke="#111" stroke-width="1" />
<line x1="209.5" y1="688.5" x2="206" y2="688.5" stroke="#111" stroke-width="1" />
<line x1="41.5" y1="686.5" x2="45" y2="686.5" stroke="#111" stroke-width="1" />
<line x1="209.5" y1="686.5" x2="206" y2="686.5" stroke="#111" stroke-width="1" />
<line x1="41.5" y1="684.5" x2="45" y2="684.5" stroke="#111" stroke-width="1" />
<line x1="209.5" y1="684.5" x2="206" y2="684.5" stroke="#111" stroke-width="1" />
<line x1="41.5" y1="668.5" x2="45" y2="668.5" stroke="#111" stroke-width="1" />
<line x1="209.5" y1="668.5" x2="206" y2="668.5" stroke="#111" stroke-width="1" />
<line x1="41.5" y1="660.5" x2="45" y2="660.5" stroke="#111" stroke-width="1" />
<line x1="209.5" y1="660.5" x2="206" y2="660.5" stroke="#111" stroke-width="1" />
<line x1="41.5" y1="654.5" x2="45" y2="654.5" stroke="#111" stroke-width="1" />
<line x1="209.5" y1="654.5" x2="206" y2="654.5" stroke="#111" stroke-width="1" />
<line x1="41.5" y1="650.5" x2="45" y2="650.5" stroke="#111" stroke-width="1" />
<line x1="209.5" y1="650.5" x2="206" y2="650.5" stroke="#111" stroke-width="1" />
<line x1="41.5" y1="647.5" x2="45" y2="647.5" stroke="#111" stroke-width="1" />
<line x1="209.5" y1="647.5" x2="206" y2="647.5" stroke="#111" stroke-width="1" />
<line x1="41.5" y1="644.5" x2="45" y2="644.5" stroke="#111" stroke-width="1" />
<line x1="209.5" y1="644.5" x2="206" y2="644.5" stroke="#111" stroke-width="1" />
<line x1="41.5" y1="641.5" x2="45" y2="641.5" stroke="#111" stroke-width="1" />
<line x1="209.5" y1="641.5" x2="206" y2="641.5" stroke="#111" stroke-width="1" />
<line x1="41.5" y1="639.5" x2="45" y2="639.5" stroke="#111" stroke-width="1" />
<line x1="209.5" y1="639.5" x2="206" y2="639.5" stroke="#111" stroke-width="1" />
<line x1="41.5" y1="623.5" x2="45" y2="623.5" stroke="#111" stroke-width="1" />
<line x1="209.5" y1="623.5" x2="206" y2="623.5" stroke="#111" stroke-width="1" />
<line x1="41.5" y1="615.5" x2="45" y2="615.5" stroke="#111" stroke-width="1" />
<line x1="209.5" y1="615.5" x2="206" y2="615.5" stroke="#111" stroke-width="1" />
<line x1="41.5" y1="610.5" x2="45" y2="610.5" stroke="#111" stroke-width="1" />
<line x1="209.5" y1="610.5" x2="206" y2="610.5" stroke="#111" stroke-width="1" />
<line x1="41.5" y1="605.5" x2="45" y2="605.5" stroke="#111" stroke-width="1" />
<line x1="209.5" y1="605.5" x2="206" y2="605.5" stroke="#111" stroke-width="1" />
<line x1="41.5" y1="602.5" x2="45" y2="602.5" stroke="#111" stroke-width="1" />
<line x1="209.5" y1="602.5" x2="206" y2="602.5" stroke="#111" stroke-width="1" />
<line x1="41.5" y1="599.5" x2="45" y2="599.5" stroke="#111" stroke-width="1" />
<line x1="209.5" y1="599.5" x2="206" y2="599.5" stroke="#111" stroke-width="1" />
<line x1="41.5" y1="596.5" x2="45" y2="596.5" stroke="#111" stroke-width="1" />
<line x1="209.5" y1="596.5" x2="206" y2="596.5" stroke="#111" stroke-width="1" />
<line x1="41.5" y1="594.5" x2="45" y2="594.5" stroke="#111" stroke-width="1" />
<line x1="209.5" y1="594.5" x2="206" y2="594.5" stroke="#111" stroke-width="1" />
<line x1="41.5" y1="578.5" x2="45" y2="578.5" stroke="#111" stroke-width="1" />
<line x1="209.5" y1="578.5" x2="206" y2="578.5" stroke="#111" stroke-width="1" />
<line x1="41.5" y1="570.5" x2="45" y2="570.5" stroke="#111" stroke-width="1" />
<line x1="209.5" y1="570.5" x2="206" y2="570.5" stroke="#111" stroke-width="1" />
<line x1="41.5" y1="565.5" x2="45" y2="565.5" stroke="#111" stroke-width="1" />
<line x1="209.5" y1="565.5" x2="206" y2="565.5" stroke="#111" stroke-width="1" />
<line x1="41.5" y1="560.5" x2="45" y2="560.5" stroke="#111" stroke-width="1" />
<line x1="209.5" y1="560.5" x2="206" y2="560.5" stroke="#111" stroke-width="1" />
<line x1="41.5" y1="557.5" x2="45" y2="557.5" stroke="#111" stroke-width="1" />
<line x1="209.5" y1="557.5" x2="206" y2="557.5" stroke="#111" stroke-width="1" />
<line x1="41.5" y1="554.5" x2="45" y2="554.5" stroke="#111" stroke-width="1" />
<line x1="209.5" y1="554.5" x2="206" y2="554.5" stroke="#111" stroke-width="1" />
<line x1="41.5" y1="551.5" x2="45" y2="551.5" stroke="#111" stroke-width="1" />
<line x1="209.5" y1="551.5" x2="206" y2="551.5" stroke="#111" stroke-width="1" />
<line x1="41.5" y1="549.5" x2="45" y2="549.5" stroke="#111" stroke-width="1" />
<line x1="209.5" y1="549.5" x2="206" y2="549.5" stroke="#111" stroke-width="1" />
<line x1="41.5" y1="723.5" x2="43.6" y2="723.5" stroke="#111" stroke-width="1" />
<line x1="209.5" y1="723.5" x2="207.4" y2="723.5" stroke="#111" stroke-width="1" />
<line x1="41.5" y1="720.5" x2="43.6" y2="720.5" stroke="#111" stroke-width="1" />
<line x1="209.5" y1="720.5" x2="207.4" y2="720.5" stroke="#111" stroke-width="1" />
<line x1="41.5" y1="717.5" x2="43.6" y2="717.5" stroke="#111" stroke-width="1" />
<line x1="209.5" y1="717.5" x2="207.4" y2="717.5" stroke="#111" stroke-width="1" />
<line x1="41.5" y1="715.5" x2="43.6" y2="715.5" stroke="#111" stroke-width="1" />
<line x1="209.5" y1="715.5" x2="207.4" y2="715.5" stroke="#111" stroke-width="1" />
<line x1="41.5" y1="678.5" x2="43.6" y2="678.5" stroke="#111" stroke-width="1" />
<line x1="209.5" y1="678.5" x2="207.4" y2="678.5" stroke="#111" stroke-width="1" />
<line x1="41.5" y1="675.5" x2="43.6" y2="675.5" stroke="#111" stroke-width="1" />
<line x1="209.5" y1="675.5" x2="207.4" y2="675.5" stroke="#111" stroke-width="1" />
<line x1="41.5" y1="672.5" x2="43.6" y2="672.5" stroke="#111" stroke-width="1" />
<line x1="209.5" y1="672.5" x2="207.4" y2="672.5" stroke="#111" stroke-width="1" />
<line x1="41.5" y1="670.5" x2="43.6" y2="670.5" stroke="#111" stroke-width="1" />
<line x1="209.5" y1="670.5" x2="207.4" y2="670.5" stroke="#111" stroke-width="1" />
<line x1="41.5" y1="633.5" x2="43.6" y2="633.5" stroke="#111" stroke-width="1" />
<line x1="209.5" y1="633.5" x2="207.4" y2="633.5" stroke="#111" stroke-width="1" />
<line x1="41.5" y1="630.5" x2="43.6" y2="630.5" stroke="#111" stroke-width="1" />
<line x1="209.5" y1="630.5" x2="207.4" y2="630.5" stroke="#111" stroke-width="1" />
<line x1="41.5" y1="627.5" x2="43.6" y2="627.5" stroke="#111" stroke-width="1" />
<line x1="209.5" y1="627.5" x2="207.4" y2="627.5" stroke="#111" stroke-width="1" />
<line x1="41.5" y1="625.5" x2="43.6" y2="625.5" stroke="#111" stroke-width="1" />
<line x1="209.5" y1="625.5" x2="207.4" y2="625.5" stroke="#111" stroke-width="1" />
<line x1="41.5" y1="588.5" x2="43.6" y2="588.5" stroke="#111" stroke-width="1" />
<line x1="209.5" y1="588.5" x2="207.4" y2="588.5" stroke="#111" stroke-width="1" />
<line x1="41.5" y1="585.5" x2="43.6" y2="585.5" stroke="#111" stroke-width="1" />
<line x1="209.5" y1="585.5" x2="207.4" y2="585.5" stroke="#111" stroke-width="1" />
<line x1="41.5" y1="583.5" x2="43.6" y2="583.5" stroke="#111" stroke-width="1" />
<line x1="209.5" y1="583.5" x2="207.4" y2="583.5" stroke="#111" stroke-width="1" />
<line x1="41.5" y1="580.5" x2="43.6" y2="580.5" stroke="#111" stroke-width="1" />
<line x1="209.5" y1="580.5" x2="207.4" y2="580.5" stroke="#111" stroke-width="1" />
<text x="41.4" y="743.3" font-size="14.5" text-anchor="middle" font-weight="normal" >0</text>
<text x="97.43" y="743.3" font-size="14.5" text-anchor="middle" font-weight="normal" >50</text>
<text x="153.47" y="743.3" font-size="14.5" text-anchor="middle" font-weight="normal" > 00</text>
<text x="209.5" y="743.3" font-size="14.5" text-anchor="middle" font-weight="normal" > 50</text>
<text x="35" y="731.7" font-size="14.5" text-anchor="end" font-weight="normal" >0.0 </text>
<text x="35" y="686.8" font-size="14.5" text-anchor="end" font-weight="normal" >0. </text>
<text x="35" y="641.9" font-size="14.5" text-anchor="end" font-weight="normal" > </text>
<text x="35" y="597" font-size="14.5" text-anchor="end" font-weight="normal" > 0</text>
<text x="35" y="552.1" font-size="14.5" text-anchor="end" font-weight="normal" > 00</text>
<text x="125.7" y="766.2" font-size="14.5" text-anchor="middle" font-weight="normal" ><tspan font-style="italic">T</tspan> (K)</text>
<text x="10.4" y="637" font-size="14.2" text-anchor="middle" transform="rotate(-90 10.4 637)"><tspan font-style="italic">ρ</tspan> (mΩ cm)</text>
<text x="1" y="561" font-size="14" text-anchor="start" font-weight="bold" >e</text>
<line x1="96.4" y1="702.5" x2="117.6" y2="702.5" stroke="#000" stroke-width="2.8" />
<line x1="96.4" y1="716.6" x2="117.6" y2="716.6" stroke="#00a8ff" stroke-width="2.0" />
<circle cx="106.6" cy="716.6" r="3.3" fill="#00a8ff"/>
<text x="123.5" y="706.6" font-size="14" text-anchor="start" font-weight="normal" ><tspan font-style="italic">x</tspan> = 0.3 (0 T)</text>
<text x="123.5" y="720.6" font-size="14" text-anchor="start" font-weight="normal" ><tspan font-style="italic">x</tspan> = 0.3 (40 T)</text>
<text x="121" y="562.2" font-size="14" text-anchor="start" font-weight="normal" ><tspan font-style="italic">x</tspan> = 0.45 (0 T)</text>
<rect x="129.4" y="564.6" width="67.1" height="66.9" fill="#fff"/>
<path d="M132.7,628.9 L138.3,621.4 L138.3,564.6" fill="none" stroke="#00c800" stroke-width="2.4" stroke-linejoin="round" stroke-linecap="butt" />
<path d="M152.9,564.6 C152.9,571.97 151.92,599.75 152.9,608.8 C153.88,617.85 156.7,616.33 158.8,618.9 C160.9,621.47 163.3,623.55 165.5,624.2 C167.7,624.85 166.83,624.3 172,622.8 C177.17,621.3 192.42,616.47 196.5,615.2" fill="none" stroke="#00c800" stroke-width="2.4" stroke-linejoin="round" stroke-linecap="butt" />
<rect x="129.5" y="564.5" width="67" height="67" fill="none" stroke="#555" stroke-width="1.1"/>
<line x1="151.5" y1="631.5" x2="151.5" y2="627.5" stroke="#555" stroke-width="1" />
<line x1="151.5" y1="564.5" x2="151.5" y2="568.5" stroke="#555" stroke-width="1" />
<line x1="174.5" y1="631.5" x2="174.5" y2="627.5" stroke="#555" stroke-width="1" />
<line x1="174.5" y1="564.5" x2="174.5" y2="568.5" stroke="#555" stroke-width="1" />
<line x1="133.5" y1="631.5" x2="133.5" y2="629" stroke="#555" stroke-width="1" />
<line x1="133.5" y1="564.5" x2="133.5" y2="567" stroke="#555" stroke-width="1" />
<line x1="138.5" y1="631.5" x2="138.5" y2="629" stroke="#555" stroke-width="1" />
<line x1="138.5" y1="564.5" x2="138.5" y2="567" stroke="#555" stroke-width="1" />
<line x1="142.5" y1="631.5" x2="142.5" y2="629" stroke="#555" stroke-width="1" />
<line x1="142.5" y1="564.5" x2="142.5" y2="567" stroke="#555" stroke-width="1" />
<line x1="147.5" y1="631.5" x2="147.5" y2="629" stroke="#555" stroke-width="1" />
<line x1="147.5" y1="564.5" x2="147.5" y2="567" stroke="#555" stroke-width="1" />
<line x1="156.5" y1="631.5" x2="156.5" y2="629" stroke="#555" stroke-width="1" />
<line x1="156.5" y1="564.5" x2="156.5" y2="567" stroke="#555" stroke-width="1" />
<line x1="160.5" y1="631.5" x2="160.5" y2="629" stroke="#555" stroke-width="1" />
<line x1="160.5" y1="564.5" x2="160.5" y2="567" stroke="#555" stroke-width="1" />
<line x1="165.5" y1="631.5" x2="165.5" y2="629" stroke="#555" stroke-width="1" />
<line x1="165.5" y1="564.5" x2="165.5" y2="567" stroke="#555" stroke-width="1" />
<line x1="169.5" y1="631.5" x2="169.5" y2="629" stroke="#555" stroke-width="1" />
<line x1="169.5" y1="564.5" x2="169.5" y2="567" stroke="#555" stroke-width="1" />
<line x1="178.5" y1="631.5" x2="178.5" y2="629" stroke="#555" stroke-width="1" />
<line x1="178.5" y1="564.5" x2="178.5" y2="567" stroke="#555" stroke-width="1" />
<line x1="183.5" y1="631.5" x2="183.5" y2="629" stroke="#555" stroke-width="1" />
<line x1="183.5" y1="564.5" x2="183.5" y2="567" stroke="#555" stroke-width="1" />
<line x1="187.5" y1="631.5" x2="187.5" y2="629" stroke="#555" stroke-width="1" />
<line x1="187.5" y1="564.5" x2="187.5" y2="567" stroke="#555" stroke-width="1" />
<line x1="192.5" y1="631.5" x2="192.5" y2="629" stroke="#555" stroke-width="1" />
<line x1="192.5" y1="564.5" x2="192.5" y2="567" stroke="#555" stroke-width="1" />
<line x1="129.5" y1="586.5" x2="134" y2="586.5" stroke="#555" stroke-width="1" />
<line x1="196.5" y1="586.5" x2="192" y2="586.5" stroke="#555" stroke-width="1" />
<line x1="129.5" y1="609.5" x2="134" y2="609.5" stroke="#555" stroke-width="1" />
<line x1="196.5" y1="609.5" x2="192" y2="609.5" stroke="#555" stroke-width="1" />
<text x="122.2" y="591.7" font-size="14.5" text-anchor="end" font-weight="normal" > 0</text>
<text x="122.2" y="636.3" font-size="14.5" text-anchor="end" font-weight="normal" >0. </text>
<text x="129.4" y="647.4" font-size="14.5" text-anchor="middle" font-weight="normal" >0</text>
<text x="174.13" y="647.4" font-size="14.5" text-anchor="middle" font-weight="normal" > 00</text>
<path d="M254.7,496.5 L256.4,496.35 L258.1,496.55 L259.8,496.46 L261.5,496.61 L263.2,496.63 L264.9,496.31 L266.6,496.29 L268.3,496.79 L270,496.6 L271.67,496.49 L273.33,496.51 L275,497 L276.67,496.72 L278.33,496.97 L280,496.79 L281.67,496.92 L283.33,496.66 L285,496.9 L286.64,497 L288.29,497.15 L289.93,496.96 L291.57,497.1 L293.21,497.07 L294.86,496.72 L296.5,497 L298,502.2 L299.6,502.4 L300.3,421.8 L301,426.37 L318,426.37" fill="none" stroke="#a9b4ff" stroke-width="1.8" stroke-linejoin="round" stroke-linecap="butt" />
<path d="M254.7,495.2 C255.08,495.1 256.2,494.82 257,494.6 C257.8,494.38 258.67,493.87 259.5,493.9 C260.33,493.93 261.25,495.2 262,494.8 C262.75,494.4 263.35,492.42 264,491.5 C264.65,490.58 265.32,489.38 265.9,489.3 C266.48,489.22 266.98,490.12 267.5,491 C268.02,491.88 268.25,493.83 269,494.6 C269.75,495.37 270.83,495.48 272,495.6 C273.17,495.72 274.67,495.27 276,495.3 C277.33,495.33 278.67,495.8 280,495.8 C281.33,495.8 282.67,495.23 284,495.3 C285.33,495.37 286.67,496.17 288,496.2 C289.33,496.23 290.67,495.47 292,495.5 C293.33,495.53 294.67,496.28 296,496.4 C297.33,496.52 298.67,496.07 300,496.2 C301.33,496.33 302.67,497.12 304,497.2 C305.33,497.28 306.83,496.63 308,496.7 C309.17,496.77 310,497.38 311,497.6 C312,497.82 313.12,497.5 314,498 C314.88,498.5 315.67,500.23 316.3,500.6 C316.93,500.97 317.55,500.27 317.8,500.2 L319.2,429 L320.5,425.77 L323,426.17 L326,426.67 L328,425.97 L330.5,426.37" fill="none" stroke="#0000ff" stroke-width="1.9" stroke-linejoin="round" stroke-linecap="butt" />
<line x1="254.7" y1="426.37" x2="389.2" y2="426.37" stroke="#000" stroke-width="1.5" stroke-dasharray="3.4 2.6"/>
<rect x="254.5" y="404.5" width="135" height="133" fill="none" stroke="#111" stroke-width="1.1"/>
<line x1="254.5" y1="537.5" x2="254.5" y2="532.2" stroke="#111" stroke-width="1" />
<line x1="254.5" y1="404.5" x2="254.5" y2="409.8" stroke="#111" stroke-width="1" />
<line x1="299.5" y1="537.5" x2="299.5" y2="532.2" stroke="#111" stroke-width="1" />
<line x1="299.5" y1="404.5" x2="299.5" y2="409.8" stroke="#111" stroke-width="1" />
<line x1="344.5" y1="537.5" x2="344.5" y2="532.2" stroke="#111" stroke-width="1" />
<line x1="344.5" y1="404.5" x2="344.5" y2="409.8" stroke="#111" stroke-width="1" />
<line x1="389.5" y1="537.5" x2="389.5" y2="532.2" stroke="#111" stroke-width="1" />
<line x1="389.5" y1="404.5" x2="389.5" y2="409.8" stroke="#111" stroke-width="1" />
<line x1="263.5" y1="537.5" x2="263.5" y2="534.5" stroke="#111" stroke-width="1" />
<line x1="263.5" y1="404.5" x2="263.5" y2="407.5" stroke="#111" stroke-width="1" />
<line x1="272.5" y1="537.5" x2="272.5" y2="534.5" stroke="#111" stroke-width="1" />
<line x1="272.5" y1="404.5" x2="272.5" y2="407.5" stroke="#111" stroke-width="1" />
<line x1="281.5" y1="537.5" x2="281.5" y2="534.5" stroke="#111" stroke-width="1" />
<line x1="281.5" y1="404.5" x2="281.5" y2="407.5" stroke="#111" stroke-width="1" />
<line x1="290.5" y1="537.5" x2="290.5" y2="534.5" stroke="#111" stroke-width="1" />
<line x1="290.5" y1="404.5" x2="290.5" y2="407.5" stroke="#111" stroke-width="1" />
<line x1="308.5" y1="537.5" x2="308.5" y2="534.5" stroke="#111" stroke-width="1" />
<line x1="308.5" y1="404.5" x2="308.5" y2="407.5" stroke="#111" stroke-width="1" />
<line x1="317.5" y1="537.5" x2="317.5" y2="534.5" stroke="#111" stroke-width="1" />
<line x1="317.5" y1="404.5" x2="317.5" y2="407.5" stroke="#111" stroke-width="1" />
<line x1="326.5" y1="537.5" x2="326.5" y2="534.5" stroke="#111" stroke-width="1" />
<line x1="326.5" y1="404.5" x2="326.5" y2="407.5" stroke="#111" stroke-width="1" />
<line x1="335.5" y1="537.5" x2="335.5" y2="534.5" stroke="#111" stroke-width="1" />
<line x1="335.5" y1="404.5" x2="335.5" y2="407.5" stroke="#111" stroke-width="1" />
<line x1="353.5" y1="537.5" x2="353.5" y2="534.5" stroke="#111" stroke-width="1" />
<line x1="353.5" y1="404.5" x2="353.5" y2="407.5" stroke="#111" stroke-width="1" />
<line x1="362.5" y1="537.5" x2="362.5" y2="534.5" stroke="#111" stroke-width="1" />
<line x1="362.5" y1="404.5" x2="362.5" y2="407.5" stroke="#111" stroke-width="1" />
<line x1="371.5" y1="537.5" x2="371.5" y2="534.5" stroke="#111" stroke-width="1" />
<line x1="371.5" y1="404.5" x2="371.5" y2="407.5" stroke="#111" stroke-width="1" />
<line x1="380.5" y1="537.5" x2="380.5" y2="534.5" stroke="#111" stroke-width="1" />
<line x1="380.5" y1="404.5" x2="380.5" y2="407.5" stroke="#111" stroke-width="1" />
<line x1="254.5" y1="426.5" x2="259.5" y2="426.5" stroke="#111" stroke-width="1" />
<line x1="389.5" y1="426.5" x2="384.5" y2="426.5" stroke="#111" stroke-width="1" />
<line x1="254.5" y1="470.5" x2="259.5" y2="470.5" stroke="#111" stroke-width="1" />
<line x1="389.5" y1="470.5" x2="384.5" y2="470.5" stroke="#111" stroke-width="1" />
<line x1="254.5" y1="515.5" x2="259.5" y2="515.5" stroke="#111" stroke-width="1" />
<line x1="389.5" y1="515.5" x2="384.5" y2="515.5" stroke="#111" stroke-width="1" />
<line x1="254.5" y1="404.5" x2="257.5" y2="404.5" stroke="#111" stroke-width="1" />
<line x1="389.5" y1="404.5" x2="386.5" y2="404.5" stroke="#111" stroke-width="1" />
<line x1="254.5" y1="448.5" x2="257.5" y2="448.5" stroke="#111" stroke-width="1" />
<line x1="389.5" y1="448.5" x2="386.5" y2="448.5" stroke="#111" stroke-width="1" />
<line x1="254.5" y1="493.5" x2="257.5" y2="493.5" stroke="#111" stroke-width="1" />
<line x1="389.5" y1="493.5" x2="386.5" y2="493.5" stroke="#111" stroke-width="1" />
<text x="251" y="431.17" font-size="14.5" text-anchor="end" font-weight="normal" >0</text>
<text x="251" y="475.7" font-size="14.5" text-anchor="end" font-weight="normal" >-2</text>
<text x="251" y="520.23" font-size="14.5" text-anchor="end" font-weight="normal" >-4</text>
<text x="299.53" y="554.6" font-size="14.5" text-anchor="middle" font-weight="normal" > 00</text>
<text x="389.2" y="554.6" font-size="14.5" text-anchor="middle" font-weight="normal" >200</text>
<text x="322" y="572" font-size="14.5" text-anchor="middle" font-weight="normal" ><tspan font-style="italic">μ</tspan><tspan font-size="10" dy="3">0</tspan><tspan font-style="italic" dy="-3">H</tspan> (T)</text>
<text x="228" y="470.8" font-size="14.2" text-anchor="middle" transform="rotate(-90 228 470.8)">Δ<tspan font-style="italic">φ</tspan> (rad)</text>
<text x="223" y="399.9" font-size="14" text-anchor="start" font-weight="bold" >f</text>
<text x="320.8" y="397.6" font-size="14" text-anchor="middle" font-weight="normal" ><tspan font-style="italic">x</tspan> =  </text>
<text x="324.8" y="421.6" font-size="14" text-anchor="start" font-weight="normal" >Insulator</text>
<text x="269.6" y="515.2" font-size="14" text-anchor="start" font-weight="normal" >Metal</text>
<text x="379.4" y="521.9" font-size="14" text-anchor="end" font-weight="normal" >98 K</text>
<path d="M311.4,509.2 L327.9,509.2 L327.9,502.5" fill="none" stroke="#000" stroke-width="1.6" stroke-linejoin="round" stroke-linecap="butt" stroke-linejoin="miter"/>
<path d="M325.5,503.2 L327.9,495.4 L330.3,503.2 Z" fill="#000"/>
<path d="M254.5,682.5 L257.8,670.1 L260,671.5 L263,664.2 L266.6,632.1 L267.8,633.6 L270.2,678.8 L273.9,680.3 L276.1,670.1 L278,654 L280,665.7 L282.7,681.8 L287,683.2 L291.4,682.5 L295.1,679.6 L296.5,621.9 L298.4,613.9 L304,613.6 L310.4,613.4 L320,613.9 L330.8,614.6 L338,613.6 L345.4,612.4" fill="none" stroke="#ffb3b3" stroke-width="1.8" stroke-linejoin="round" stroke-linecap="butt" />
<path d="M254.5,667.9 C254.82,664.85 255.65,654.95 256.4,649.6 C257.15,644.25 258.32,637.5 259,635.8 C259.68,634.1 259.72,634.3 260.5,639.4 C261.28,644.5 262.57,665.07 263.7,666.4 C264.83,667.73 266.08,646.05 267.3,647.4 C268.52,648.75 269.95,670.23 271,674.5 C272.05,678.77 272.75,672.65 273.6,673 C274.45,673.35 274.95,676.6 276.1,676.6 C277.25,676.6 279.28,673 280.5,673 C281.72,673 282.43,675.63 283.4,676.6 C284.37,677.57 285.2,677.93 286.3,678.8 C287.4,679.67 288.67,682.65 290,681.8 C291.33,680.95 293.08,674.2 294.3,673.7 C295.52,673.2 296.32,677.58 297.3,678.8 C298.28,680.02 299.23,681.23 300.2,681 C301.17,680.77 302.13,676.78 303.1,677.4 C304.07,678.02 304.67,684.7 306,684.7 C307.33,684.7 309.52,677.28 311.1,677.4 C312.68,677.52 314.03,684.97 315.5,685.4 C316.97,685.83 318.57,680.37 319.9,680 C321.23,679.63 322.4,683.03 323.5,683.2 C324.6,683.37 325.28,681.23 326.5,681 C327.72,680.77 329.83,681.97 330.8,681.8 C331.77,681.63 331.8,679.97 332.3,680 C332.8,680.03 333.07,681.67 333.8,682 C334.53,682.33 335.98,682.72 336.7,682 C337.42,681.28 337.5,678.47 338.1,677.7 C338.7,676.93 339.68,677.22 340.3,677.4 C340.92,677.58 341.23,678.43 341.8,678.8 C342.37,679.17 343.1,680.82 343.7,679.6 C344.3,678.38 345.12,672.85 345.4,671.5 L345.7,613.9 L346.9,612.4 L349.1,613.9" fill="none" stroke="#ff0000" stroke-width="1.9" stroke-linejoin="round" stroke-linecap="butt" />
<line x1="254.5" y1="613.75" x2="388.9" y2="613.75" stroke="#000" stroke-width="1.5" stroke-dasharray="3.4 2.6"/>
<rect x="254.5" y="591.5" width="134" height="135" fill="none" stroke="#111" stroke-width="1.1"/>
<line x1="254.5" y1="726.5" x2="254.5" y2="721.2" stroke="#111" stroke-width="1" />
<line x1="254.5" y1="591.5" x2="254.5" y2="596.8" stroke="#111" stroke-width="1" />
<line x1="299.5" y1="726.5" x2="299.5" y2="721.2" stroke="#111" stroke-width="1" />
<line x1="299.5" y1="591.5" x2="299.5" y2="596.8" stroke="#111" stroke-width="1" />
<line x1="344.5" y1="726.5" x2="344.5" y2="721.2" stroke="#111" stroke-width="1" />
<line x1="344.5" y1="591.5" x2="344.5" y2="596.8" stroke="#111" stroke-width="1" />
<line x1="388.5" y1="726.5" x2="388.5" y2="721.2" stroke="#111" stroke-width="1" />
<line x1="388.5" y1="591.5" x2="388.5" y2="596.8" stroke="#111" stroke-width="1" />
<line x1="263.5" y1="726.5" x2="263.5" y2="723.5" stroke="#111" stroke-width="1" />
<line x1="263.5" y1="591.5" x2="263.5" y2="594.5" stroke="#111" stroke-width="1" />
<line x1="272.5" y1="726.5" x2="272.5" y2="723.5" stroke="#111" stroke-width="1" />
<line x1="272.5" y1="591.5" x2="272.5" y2="594.5" stroke="#111" stroke-width="1" />
<line x1="281.5" y1="726.5" x2="281.5" y2="723.5" stroke="#111" stroke-width="1" />
<line x1="281.5" y1="591.5" x2="281.5" y2="594.5" stroke="#111" stroke-width="1" />
<line x1="290.5" y1="726.5" x2="290.5" y2="723.5" stroke="#111" stroke-width="1" />
<line x1="290.5" y1="591.5" x2="290.5" y2="594.5" stroke="#111" stroke-width="1" />
<line x1="308.5" y1="726.5" x2="308.5" y2="723.5" stroke="#111" stroke-width="1" />
<line x1="308.5" y1="591.5" x2="308.5" y2="594.5" stroke="#111" stroke-width="1" />
<line x1="317.5" y1="726.5" x2="317.5" y2="723.5" stroke="#111" stroke-width="1" />
<line x1="317.5" y1="591.5" x2="317.5" y2="594.5" stroke="#111" stroke-width="1" />
<line x1="326.5" y1="726.5" x2="326.5" y2="723.5" stroke="#111" stroke-width="1" />
<line x1="326.5" y1="591.5" x2="326.5" y2="594.5" stroke="#111" stroke-width="1" />
<line x1="335.5" y1="726.5" x2="335.5" y2="723.5" stroke="#111" stroke-width="1" />
<line x1="335.5" y1="591.5" x2="335.5" y2="594.5" stroke="#111" stroke-width="1" />
<line x1="353.5" y1="726.5" x2="353.5" y2="723.5" stroke="#111" stroke-width="1" />
<line x1="353.5" y1="591.5" x2="353.5" y2="594.5" stroke="#111" stroke-width="1" />
<line x1="362.5" y1="726.5" x2="362.5" y2="723.5" stroke="#111" stroke-width="1" />
<line x1="362.5" y1="591.5" x2="362.5" y2="594.5" stroke="#111" stroke-width="1" />
<line x1="370.5" y1="726.5" x2="370.5" y2="723.5" stroke="#111" stroke-width="1" />
<line x1="370.5" y1="591.5" x2="370.5" y2="594.5" stroke="#111" stroke-width="1" />
<line x1="379.5" y1="726.5" x2="379.5" y2="723.5" stroke="#111" stroke-width="1" />
<line x1="379.5" y1="591.5" x2="379.5" y2="594.5" stroke="#111" stroke-width="1" />
<line x1="254.5" y1="613.5" x2="259.5" y2="613.5" stroke="#111" stroke-width="1" />
<line x1="388.5" y1="613.5" x2="383.5" y2="613.5" stroke="#111" stroke-width="1" />
<line x1="254.5" y1="658.5" x2="259.5" y2="658.5" stroke="#111" stroke-width="1" />
<line x1="388.5" y1="658.5" x2="383.5" y2="658.5" stroke="#111" stroke-width="1" />
<line x1="254.5" y1="703.5" x2="259.5" y2="703.5" stroke="#111" stroke-width="1" />
<line x1="388.5" y1="703.5" x2="383.5" y2="703.5" stroke="#111" stroke-width="1" />
<line x1="254.5" y1="591.5" x2="257.5" y2="591.5" stroke="#111" stroke-width="1" />
<line x1="388.5" y1="591.5" x2="385.5" y2="591.5" stroke="#111" stroke-width="1" />
<line x1="254.5" y1="636.5" x2="257.5" y2="636.5" stroke="#111" stroke-width="1" />
<line x1="388.5" y1="636.5" x2="385.5" y2="636.5" stroke="#111" stroke-width="1" />
<line x1="254.5" y1="681.5" x2="257.5" y2="681.5" stroke="#111" stroke-width="1" />
<line x1="388.5" y1="681.5" x2="385.5" y2="681.5" stroke="#111" stroke-width="1" />
<text x="251" y="618.55" font-size="14.5" text-anchor="end" font-weight="normal" >0</text>
<text x="251" y="663.45" font-size="14.5" text-anchor="end" font-weight="normal" >-2</text>
<text x="251" y="708.35" font-size="14.5" text-anchor="end" font-weight="normal" >-4</text>
<text x="299.3" y="742" font-size="14.5" text-anchor="middle" font-weight="normal" > 00</text>
<text x="388.9" y="742" font-size="14.5" text-anchor="middle" font-weight="normal" >200</text>
<text x="322" y="761" font-size="14.5" text-anchor="middle" font-weight="normal" ><tspan font-style="italic">μ</tspan><tspan font-size="10" dy="3">0</tspan><tspan font-style="italic" dy="-3">H</tspan> (T)</text>
<text x="228" y="658.8" font-size="14.2" text-anchor="middle" transform="rotate(-90 228 658.8)">Δ<tspan font-style="italic">φ</tspan> (rad)</text>
<text x="382" y="710.1" font-size="14" text-anchor="end" font-weight="normal" > 07 K</text>
<path d="M336.2,689.7 L352.8,689.7 L352.8,683.5" fill="none" stroke="#000" stroke-width="1.6" stroke-linejoin="round" stroke-linecap="butt" stroke-linejoin="miter"/>
<path d="M350.4,684.2 L352.8,676.4 L355.2,684.2 Z" fill="#000"/>
<path d="M449.4,483.75 C453.7,483.44 466.77,482.55 475.19,481.89 C483.62,481.23 491.67,480.64 499.97,479.8 C508.27,478.95 516.68,478.02 525.02,476.81 C533.35,475.59 541.67,474.21 550,472.49 C558.32,470.78 566.64,469.09 574.98,466.51 C583.31,463.93 592.51,460.66 600.02,457 C607.53,453.33 613.38,449.08 620.05,444.5 C626.71,439.92 635.34,432.88 640,429.5 C644.66,426.11 646.07,425.33 648.01,424.19 C649.96,423.05 650.54,423.04 651.68,422.66 C652.82,422.28 654.34,422.02 654.87,421.89" fill="none" stroke="#ff0000" stroke-width="2.2" stroke-linejoin="round" stroke-linecap="butt" />
<rect x="449.5" y="403.5" width="224" height="90" fill="none" stroke="#111" stroke-width="1.1"/>
<line x1="449.5" y1="493.5" x2="449.5" y2="488" stroke="#111" stroke-width="1" />
<line x1="449.5" y1="403.5" x2="449.5" y2="409" stroke="#111" stroke-width="1" />
<line x1="517.5" y1="493.5" x2="517.5" y2="488" stroke="#111" stroke-width="1" />
<line x1="517.5" y1="403.5" x2="517.5" y2="409" stroke="#111" stroke-width="1" />
<line x1="585.5" y1="493.5" x2="585.5" y2="488" stroke="#111" stroke-width="1" />
<line x1="585.5" y1="403.5" x2="585.5" y2="409" stroke="#111" stroke-width="1" />
<line x1="653.5" y1="493.5" x2="653.5" y2="488" stroke="#111" stroke-width="1" />
<line x1="653.5" y1="403.5" x2="653.5" y2="409" stroke="#111" stroke-width="1" />
<line x1="456.5" y1="493.5" x2="456.5" y2="490.5" stroke="#111" stroke-width="1" />
<line x1="456.5" y1="403.5" x2="456.5" y2="406.5" stroke="#111" stroke-width="1" />
<line x1="462.5" y1="493.5" x2="462.5" y2="490.5" stroke="#111" stroke-width="1" />
<line x1="462.5" y1="403.5" x2="462.5" y2="406.5" stroke="#111" stroke-width="1" />
<line x1="469.5" y1="493.5" x2="469.5" y2="490.5" stroke="#111" stroke-width="1" />
<line x1="469.5" y1="403.5" x2="469.5" y2="406.5" stroke="#111" stroke-width="1" />
<line x1="476.5" y1="493.5" x2="476.5" y2="490.5" stroke="#111" stroke-width="1" />
<line x1="476.5" y1="403.5" x2="476.5" y2="406.5" stroke="#111" stroke-width="1" />
<line x1="483.5" y1="493.5" x2="483.5" y2="490.5" stroke="#111" stroke-width="1" />
<line x1="483.5" y1="403.5" x2="483.5" y2="406.5" stroke="#111" stroke-width="1" />
<line x1="490.5" y1="493.5" x2="490.5" y2="490.5" stroke="#111" stroke-width="1" />
<line x1="490.5" y1="403.5" x2="490.5" y2="406.5" stroke="#111" stroke-width="1" />
<line x1="496.5" y1="493.5" x2="496.5" y2="490.5" stroke="#111" stroke-width="1" />
<line x1="496.5" y1="403.5" x2="496.5" y2="406.5" stroke="#111" stroke-width="1" />
<line x1="503.5" y1="493.5" x2="503.5" y2="490.5" stroke="#111" stroke-width="1" />
<line x1="503.5" y1="403.5" x2="503.5" y2="406.5" stroke="#111" stroke-width="1" />
<line x1="510.5" y1="493.5" x2="510.5" y2="490.5" stroke="#111" stroke-width="1" />
<line x1="510.5" y1="403.5" x2="510.5" y2="406.5" stroke="#111" stroke-width="1" />
<line x1="524.5" y1="493.5" x2="524.5" y2="490.5" stroke="#111" stroke-width="1" />
<line x1="524.5" y1="403.5" x2="524.5" y2="406.5" stroke="#111" stroke-width="1" />
<line x1="530.5" y1="493.5" x2="530.5" y2="490.5" stroke="#111" stroke-width="1" />
<line x1="530.5" y1="403.5" x2="530.5" y2="406.5" stroke="#111" stroke-width="1" />
<line x1="537.5" y1="493.5" x2="537.5" y2="490.5" stroke="#111" stroke-width="1" />
<line x1="537.5" y1="403.5" x2="537.5" y2="406.5" stroke="#111" stroke-width="1" />
<line x1="544.5" y1="493.5" x2="544.5" y2="490.5" stroke="#111" stroke-width="1" />
<line x1="544.5" y1="403.5" x2="544.5" y2="406.5" stroke="#111" stroke-width="1" />
<line x1="551.5" y1="493.5" x2="551.5" y2="490.5" stroke="#111" stroke-width="1" />
<line x1="551.5" y1="403.5" x2="551.5" y2="406.5" stroke="#111" stroke-width="1" />
<line x1="558.5" y1="493.5" x2="558.5" y2="490.5" stroke="#111" stroke-width="1" />
<line x1="558.5" y1="403.5" x2="558.5" y2="406.5" stroke="#111" stroke-width="1" />
<line x1="564.5" y1="493.5" x2="564.5" y2="490.5" stroke="#111" stroke-width="1" />
<line x1="564.5" y1="403.5" x2="564.5" y2="406.5" stroke="#111" stroke-width="1" />
<line x1="571.5" y1="493.5" x2="571.5" y2="490.5" stroke="#111" stroke-width="1" />
<line x1="571.5" y1="403.5" x2="571.5" y2="406.5" stroke="#111" stroke-width="1" />
<line x1="578.5" y1="493.5" x2="578.5" y2="490.5" stroke="#111" stroke-width="1" />
<line x1="578.5" y1="403.5" x2="578.5" y2="406.5" stroke="#111" stroke-width="1" />
<line x1="591.5" y1="493.5" x2="591.5" y2="490.5" stroke="#111" stroke-width="1" />
<line x1="591.5" y1="403.5" x2="591.5" y2="406.5" stroke="#111" stroke-width="1" />
<line x1="598.5" y1="493.5" x2="598.5" y2="490.5" stroke="#111" stroke-width="1" />
<line x1="598.5" y1="403.5" x2="598.5" y2="406.5" stroke="#111" stroke-width="1" />
<line x1="605.5" y1="493.5" x2="605.5" y2="490.5" stroke="#111" stroke-width="1" />
<line x1="605.5" y1="403.5" x2="605.5" y2="406.5" stroke="#111" stroke-width="1" />
<line x1="612.5" y1="493.5" x2="612.5" y2="490.5" stroke="#111" stroke-width="1" />
<line x1="612.5" y1="403.5" x2="612.5" y2="406.5" stroke="#111" stroke-width="1" />
<line x1="619.5" y1="493.5" x2="619.5" y2="490.5" stroke="#111" stroke-width="1" />
<line x1="619.5" y1="403.5" x2="619.5" y2="406.5" stroke="#111" stroke-width="1" />
<line x1="625.5" y1="493.5" x2="625.5" y2="490.5" stroke="#111" stroke-width="1" />
<line x1="625.5" y1="403.5" x2="625.5" y2="406.5" stroke="#111" stroke-width="1" />
<line x1="632.5" y1="493.5" x2="632.5" y2="490.5" stroke="#111" stroke-width="1" />
<line x1="632.5" y1="403.5" x2="632.5" y2="406.5" stroke="#111" stroke-width="1" />
<line x1="639.5" y1="493.5" x2="639.5" y2="490.5" stroke="#111" stroke-width="1" />
<line x1="639.5" y1="403.5" x2="639.5" y2="406.5" stroke="#111" stroke-width="1" />
<line x1="646.5" y1="493.5" x2="646.5" y2="490.5" stroke="#111" stroke-width="1" />
<line x1="646.5" y1="403.5" x2="646.5" y2="406.5" stroke="#111" stroke-width="1" />
<line x1="659.5" y1="493.5" x2="659.5" y2="490.5" stroke="#111" stroke-width="1" />
<line x1="659.5" y1="403.5" x2="659.5" y2="406.5" stroke="#111" stroke-width="1" />
<line x1="666.5" y1="493.5" x2="666.5" y2="490.5" stroke="#111" stroke-width="1" />
<line x1="666.5" y1="403.5" x2="666.5" y2="406.5" stroke="#111" stroke-width="1" />
<line x1="449.5" y1="493.5" x2="454.5" y2="493.5" stroke="#111" stroke-width="1" />
<line x1="673.5" y1="493.5" x2="668.5" y2="493.5" stroke="#111" stroke-width="1" />
<line x1="449.5" y1="469.5" x2="454.5" y2="469.5" stroke="#111" stroke-width="1" />
<line x1="673.5" y1="469.5" x2="668.5" y2="469.5" stroke="#111" stroke-width="1" />
<line x1="449.5" y1="445.5" x2="454.5" y2="445.5" stroke="#111" stroke-width="1" />
<line x1="673.5" y1="445.5" x2="668.5" y2="445.5" stroke="#111" stroke-width="1" />
<line x1="449.5" y1="421.5" x2="454.5" y2="421.5" stroke="#111" stroke-width="1" />
<line x1="673.5" y1="421.5" x2="668.5" y2="421.5" stroke="#111" stroke-width="1" />
<line x1="449.5" y1="487.5" x2="452.5" y2="487.5" stroke="#111" stroke-width="1" />
<line x1="673.5" y1="487.5" x2="670.5" y2="487.5" stroke="#111" stroke-width="1" />
<line x1="449.5" y1="481.5" x2="452.5" y2="481.5" stroke="#111" stroke-width="1" />
<line x1="673.5" y1="481.5" x2="670.5" y2="481.5" stroke="#111" stroke-width="1" />
<line x1="449.5" y1="475.5" x2="452.5" y2="475.5" stroke="#111" stroke-width="1" />
<line x1="673.5" y1="475.5" x2="670.5" y2="475.5" stroke="#111" stroke-width="1" />
<line x1="449.5" y1="463.5" x2="452.5" y2="463.5" stroke="#111" stroke-width="1" />
<line x1="673.5" y1="463.5" x2="670.5" y2="463.5" stroke="#111" stroke-width="1" />
<line x1="449.5" y1="457.5" x2="452.5" y2="457.5" stroke="#111" stroke-width="1" />
<line x1="673.5" y1="457.5" x2="670.5" y2="457.5" stroke="#111" stroke-width="1" />
<line x1="449.5" y1="451.5" x2="452.5" y2="451.5" stroke="#111" stroke-width="1" />
<line x1="673.5" y1="451.5" x2="670.5" y2="451.5" stroke="#111" stroke-width="1" />
<line x1="449.5" y1="439.5" x2="452.5" y2="439.5" stroke="#111" stroke-width="1" />
<line x1="673.5" y1="439.5" x2="670.5" y2="439.5" stroke="#111" stroke-width="1" />
<line x1="449.5" y1="433.5" x2="452.5" y2="433.5" stroke="#111" stroke-width="1" />
<line x1="673.5" y1="433.5" x2="670.5" y2="433.5" stroke="#111" stroke-width="1" />
<line x1="449.5" y1="427.5" x2="452.5" y2="427.5" stroke="#111" stroke-width="1" />
<line x1="673.5" y1="427.5" x2="670.5" y2="427.5" stroke="#111" stroke-width="1" />
<line x1="449.5" y1="415.5" x2="452.5" y2="415.5" stroke="#111" stroke-width="1" />
<line x1="673.5" y1="415.5" x2="670.5" y2="415.5" stroke="#111" stroke-width="1" />
<line x1="449.5" y1="409.5" x2="452.5" y2="409.5" stroke="#111" stroke-width="1" />
<line x1="673.5" y1="409.5" x2="670.5" y2="409.5" stroke="#111" stroke-width="1" />
<text x="446.5" y="498.1" font-size="14.5" text-anchor="end" font-weight="normal" >0</text>
<text x="446.5" y="474.07" font-size="14.5" text-anchor="end" font-weight="normal" >200</text>
<text x="446.5" y="450.05" font-size="14.5" text-anchor="end" font-weight="normal" >400</text>
<text x="446.5" y="426.02" font-size="14.5" text-anchor="end" font-weight="normal" >600</text>
<path d="M650.4,410.5 L658,410.5 L654.2,417.9 Z" fill="#000"/>
<text x="680.2" y="401.4" font-size="14" text-anchor="end" font-weight="normal" >597 T</text>
<text x="476.8" y="422" font-size="14" text-anchor="start" font-weight="normal" >EMFC</text>
<text x="413.6" y="400.5" font-size="14" text-anchor="start" font-weight="bold" >g</text>
<text x="415.5" y="448.2" font-size="14.2" text-anchor="middle" transform="rotate(-90 415.5 448.2)"><tspan font-style="italic">μ</tspan><tspan font-size="10" dy="3">0</tspan><tspan font-style="italic" dy="-3">H</tspan> (T)</text>
<path d="M608.7,535 L609.3,555.7 L610.5,502.2 L612.9,533.8 L613.8,502.2 L615.4,528.7 L617,502.2 L619.5,533.8 L621,502.2 L622.5,510 L625.1,533.8 L626.5,502.2 L627.7,517 L629.5,530 L631,524 L632.8,530 L633.5,510 L634.3,531.7 L635.5,502.2 L637,515 L638.9,533.8 L640,502.2 L642,517.4 L643.5,502.2 L645.5,505 L647,502.2 L648.6,532.7 L649.5,502.2 L651,505 L653.2,533.8 L654,502.2 L654.8,531.7" fill="none" stroke="#b3c8ff" stroke-width="1.1" stroke-linejoin="round" stroke-linecap="butt" />
<path d="M449.4,559.5 L450.91,559.52 L452.43,559.94 L453.94,561.03 L455.46,559.98 L456.97,560.23 L458.49,560.58 L460,560.5 L461.54,559.76 L463.08,560.68 L464.62,561.07 L466.15,561.57 L467.69,559.83 L469.23,560.45 L470.77,559.97 L472.31,561.92 L473.85,561.7 L475.38,560.08 L476.92,562.6 L478.46,562.63 L480,561.5 L481.54,561.98 L483.08,561.95 L484.62,560.84 L486.15,560.55 L487.69,561.96 L489.23,560.82 L490.77,561.23 L492.31,561.44 L493.85,560.97 L495.38,562.18 L496.92,562.19 L498.46,563.31 L500,562.5 L501.54,562.63 L503.08,563.02 L504.62,562.73 L506.15,563.23 L507.69,562.77 L509.23,562.38 L510.77,564.33 L512.31,564.4 L513.85,564.08 L515.38,563.81 L516.92,562.87 L518.46,562.72 L520,563.5 L521.54,563.03 L523.08,562.54 L524.62,564.42 L526.15,563.55 L527.69,564.79 L529.23,563.67 L530.77,565.23 L532.31,565.02 L533.85,562.89 L535.38,563.51 L536.92,565.41 L538.46,564.35 L540,564.5 L541.54,565.83 L543.08,564.4 L544.62,563.64 L546.15,565.18 L547.69,565.65 L549.23,564.41 L550.77,564.02 L552.31,564.74 L553.85,566.47 L555.38,566.02 L556.92,564.44 L558.46,564.86 L560,565.6 L561.57,564.65 L563.14,564.63 L564.71,566.63 L566.29,565.1 L567.86,566.18 L569.43,565.98 L571,566.2 L573,564 L574.5,558 L575.9,542.4 L577,525 L577.8,518.5 L579,517.2 L581,519.5 L583,518 L585,520 L587,518.5 L589,520 L591,518.8 L593,519.9 L595,519 L597,520 L599,519.2 L601,519.9 L603,518.5 L604.3,515.9 L605.5,517.5 L607.2,519.7 L608.2,530 L608.7,539.6" fill="none" stroke="#0000ff" stroke-width="1.9" stroke-linejoin="round" stroke-linecap="butt" />
<line x1="449.4" y1="519.44" x2="673.4" y2="519.44" stroke="#000" stroke-width="1.5" stroke-dasharray="3.4 2.6"/>
<rect x="449.5" y="501.5" width="224" height="89" fill="none" stroke="#111" stroke-width="1.1"/>
<line x1="449.5" y1="590.5" x2="449.5" y2="585" stroke="#111" stroke-width="1" />
<line x1="449.5" y1="501.5" x2="449.5" y2="507" stroke="#111" stroke-width="1" />
<line x1="517.5" y1="590.5" x2="517.5" y2="585" stroke="#111" stroke-width="1" />
<line x1="517.5" y1="501.5" x2="517.5" y2="507" stroke="#111" stroke-width="1" />
<line x1="585.5" y1="590.5" x2="585.5" y2="585" stroke="#111" stroke-width="1" />
<line x1="585.5" y1="501.5" x2="585.5" y2="507" stroke="#111" stroke-width="1" />
<line x1="653.5" y1="590.5" x2="653.5" y2="585" stroke="#111" stroke-width="1" />
<line x1="653.5" y1="501.5" x2="653.5" y2="507" stroke="#111" stroke-width="1" />
<line x1="456.5" y1="590.5" x2="456.5" y2="587.5" stroke="#111" stroke-width="1" />
<line x1="456.5" y1="501.5" x2="456.5" y2="504.5" stroke="#111" stroke-width="1" />
<line x1="462.5" y1="590.5" x2="462.5" y2="587.5" stroke="#111" stroke-width="1" />
<line x1="462.5" y1="501.5" x2="462.5" y2="504.5" stroke="#111" stroke-width="1" />
<line x1="469.5" y1="590.5" x2="469.5" y2="587.5" stroke="#111" stroke-width="1" />
<line x1="469.5" y1="501.5" x2="469.5" y2="504.5" stroke="#111" stroke-width="1" />
<line x1="476.5" y1="590.5" x2="476.5" y2="587.5" stroke="#111" stroke-width="1" />
<line x1="476.5" y1="501.5" x2="476.5" y2="504.5" stroke="#111" stroke-width="1" />
<line x1="483.5" y1="590.5" x2="483.5" y2="587.5" stroke="#111" stroke-width="1" />
<line x1="483.5" y1="501.5" x2="483.5" y2="504.5" stroke="#111" stroke-width="1" />
<line x1="490.5" y1="590.5" x2="490.5" y2="587.5" stroke="#111" stroke-width="1" />
<line x1="490.5" y1="501.5" x2="490.5" y2="504.5" stroke="#111" stroke-width="1" />
<line x1="496.5" y1="590.5" x2="496.5" y2="587.5" stroke="#111" stroke-width="1" />
<line x1="496.5" y1="501.5" x2="496.5" y2="504.5" stroke="#111" stroke-width="1" />
<line x1="503.5" y1="590.5" x2="503.5" y2="587.5" stroke="#111" stroke-width="1" />
<line x1="503.5" y1="501.5" x2="503.5" y2="504.5" stroke="#111" stroke-width="1" />
<line x1="510.5" y1="590.5" x2="510.5" y2="587.5" stroke="#111" stroke-width="1" />
<line x1="510.5" y1="501.5" x2="510.5" y2="504.5" stroke="#111" stroke-width="1" />
<line x1="524.5" y1="590.5" x2="524.5" y2="587.5" stroke="#111" stroke-width="1" />
<line x1="524.5" y1="501.5" x2="524.5" y2="504.5" stroke="#111" stroke-width="1" />
<line x1="530.5" y1="590.5" x2="530.5" y2="587.5" stroke="#111" stroke-width="1" />
<line x1="530.5" y1="501.5" x2="530.5" y2="504.5" stroke="#111" stroke-width="1" />
<line x1="537.5" y1="590.5" x2="537.5" y2="587.5" stroke="#111" stroke-width="1" />
<line x1="537.5" y1="501.5" x2="537.5" y2="504.5" stroke="#111" stroke-width="1" />
<line x1="544.5" y1="590.5" x2="544.5" y2="587.5" stroke="#111" stroke-width="1" />
<line x1="544.5" y1="501.5" x2="544.5" y2="504.5" stroke="#111" stroke-width="1" />
<line x1="551.5" y1="590.5" x2="551.5" y2="587.5" stroke="#111" stroke-width="1" />
<line x1="551.5" y1="501.5" x2="551.5" y2="504.5" stroke="#111" stroke-width="1" />
<line x1="558.5" y1="590.5" x2="558.5" y2="587.5" stroke="#111" stroke-width="1" />
<line x1="558.5" y1="501.5" x2="558.5" y2="504.5" stroke="#111" stroke-width="1" />
<line x1="564.5" y1="590.5" x2="564.5" y2="587.5" stroke="#111" stroke-width="1" />
<line x1="564.5" y1="501.5" x2="564.5" y2="504.5" stroke="#111" stroke-width="1" />
<line x1="571.5" y1="590.5" x2="571.5" y2="587.5" stroke="#111" stroke-width="1" />
<line x1="571.5" y1="501.5" x2="571.5" y2="504.5" stroke="#111" stroke-width="1" />
<line x1="578.5" y1="590.5" x2="578.5" y2="587.5" stroke="#111" stroke-width="1" />
<line x1="578.5" y1="501.5" x2="578.5" y2="504.5" stroke="#111" stroke-width="1" />
<line x1="591.5" y1="590.5" x2="591.5" y2="587.5" stroke="#111" stroke-width="1" />
<line x1="591.5" y1="501.5" x2="591.5" y2="504.5" stroke="#111" stroke-width="1" />
<line x1="598.5" y1="590.5" x2="598.5" y2="587.5" stroke="#111" stroke-width="1" />
<line x1="598.5" y1="501.5" x2="598.5" y2="504.5" stroke="#111" stroke-width="1" />
<line x1="605.5" y1="590.5" x2="605.5" y2="587.5" stroke="#111" stroke-width="1" />
<line x1="605.5" y1="501.5" x2="605.5" y2="504.5" stroke="#111" stroke-width="1" />
<line x1="612.5" y1="590.5" x2="612.5" y2="587.5" stroke="#111" stroke-width="1" />
<line x1="612.5" y1="501.5" x2="612.5" y2="504.5" stroke="#111" stroke-width="1" />
<line x1="619.5" y1="590.5" x2="619.5" y2="587.5" stroke="#111" stroke-width="1" />
<line x1="619.5" y1="501.5" x2="619.5" y2="504.5" stroke="#111" stroke-width="1" />
<line x1="625.5" y1="590.5" x2="625.5" y2="587.5" stroke="#111" stroke-width="1" />
<line x1="625.5" y1="501.5" x2="625.5" y2="504.5" stroke="#111" stroke-width="1" />
<line x1="632.5" y1="590.5" x2="632.5" y2="587.5" stroke="#111" stroke-width="1" />
<line x1="632.5" y1="501.5" x2="632.5" y2="504.5" stroke="#111" stroke-width="1" />
<line x1="639.5" y1="590.5" x2="639.5" y2="587.5" stroke="#111" stroke-width="1" />
<line x1="639.5" y1="501.5" x2="639.5" y2="504.5" stroke="#111" stroke-width="1" />
<line x1="646.5" y1="590.5" x2="646.5" y2="587.5" stroke="#111" stroke-width="1" />
<line x1="646.5" y1="501.5" x2="646.5" y2="504.5" stroke="#111" stroke-width="1" />
<line x1="659.5" y1="590.5" x2="659.5" y2="587.5" stroke="#111" stroke-width="1" />
<line x1="659.5" y1="501.5" x2="659.5" y2="504.5" stroke="#111" stroke-width="1" />
<line x1="666.5" y1="590.5" x2="666.5" y2="587.5" stroke="#111" stroke-width="1" />
<line x1="666.5" y1="501.5" x2="666.5" y2="504.5" stroke="#111" stroke-width="1" />
<line x1="449.5" y1="519.5" x2="454.5" y2="519.5" stroke="#111" stroke-width="1" />
<line x1="673.5" y1="519.5" x2="668.5" y2="519.5" stroke="#111" stroke-width="1" />
<line x1="449.5" y1="555.5" x2="454.5" y2="555.5" stroke="#111" stroke-width="1" />
<line x1="673.5" y1="555.5" x2="668.5" y2="555.5" stroke="#111" stroke-width="1" />
<line x1="449.5" y1="590.5" x2="454.5" y2="590.5" stroke="#111" stroke-width="1" />
<line x1="673.5" y1="590.5" x2="668.5" y2="590.5" stroke="#111" stroke-width="1" />
<line x1="449.5" y1="587.5" x2="452" y2="587.5" stroke="#111" stroke-width="1" />
<line x1="673.5" y1="587.5" x2="671" y2="587.5" stroke="#111" stroke-width="1" />
<line x1="449.5" y1="583.5" x2="452" y2="583.5" stroke="#111" stroke-width="1" />
<line x1="673.5" y1="583.5" x2="671" y2="583.5" stroke="#111" stroke-width="1" />
<line x1="449.5" y1="580.5" x2="452" y2="580.5" stroke="#111" stroke-width="1" />
<line x1="673.5" y1="580.5" x2="671" y2="580.5" stroke="#111" stroke-width="1" />
<line x1="449.5" y1="576.5" x2="452" y2="576.5" stroke="#111" stroke-width="1" />
<line x1="673.5" y1="576.5" x2="671" y2="576.5" stroke="#111" stroke-width="1" />
<line x1="449.5" y1="572.5" x2="452" y2="572.5" stroke="#111" stroke-width="1" />
<line x1="673.5" y1="572.5" x2="671" y2="572.5" stroke="#111" stroke-width="1" />
<line x1="449.5" y1="569.5" x2="452" y2="569.5" stroke="#111" stroke-width="1" />
<line x1="673.5" y1="569.5" x2="671" y2="569.5" stroke="#111" stroke-width="1" />
<line x1="449.5" y1="565.5" x2="452" y2="565.5" stroke="#111" stroke-width="1" />
<line x1="673.5" y1="565.5" x2="671" y2="565.5" stroke="#111" stroke-width="1" />
<line x1="449.5" y1="562.5" x2="452" y2="562.5" stroke="#111" stroke-width="1" />
<line x1="673.5" y1="562.5" x2="671" y2="562.5" stroke="#111" stroke-width="1" />
<line x1="449.5" y1="558.5" x2="452" y2="558.5" stroke="#111" stroke-width="1" />
<line x1="673.5" y1="558.5" x2="671" y2="558.5" stroke="#111" stroke-width="1" />
<line x1="449.5" y1="551.5" x2="452" y2="551.5" stroke="#111" stroke-width="1" />
<line x1="673.5" y1="551.5" x2="671" y2="551.5" stroke="#111" stroke-width="1" />
<line x1="449.5" y1="547.5" x2="452" y2="547.5" stroke="#111" stroke-width="1" />
<line x1="673.5" y1="547.5" x2="671" y2="547.5" stroke="#111" stroke-width="1" />
<line x1="449.5" y1="544.5" x2="452" y2="544.5" stroke="#111" stroke-width="1" />
<line x1="673.5" y1="544.5" x2="671" y2="544.5" stroke="#111" stroke-width="1" />
<line x1="449.5" y1="540.5" x2="452" y2="540.5" stroke="#111" stroke-width="1" />
<line x1="673.5" y1="540.5" x2="671" y2="540.5" stroke="#111" stroke-width="1" />
<line x1="449.5" y1="537.5" x2="452" y2="537.5" stroke="#111" stroke-width="1" />
<line x1="673.5" y1="537.5" x2="671" y2="537.5" stroke="#111" stroke-width="1" />
<line x1="449.5" y1="533.5" x2="452" y2="533.5" stroke="#111" stroke-width="1" />
<line x1="673.5" y1="533.5" x2="671" y2="533.5" stroke="#111" stroke-width="1" />
<line x1="449.5" y1="530.5" x2="452" y2="530.5" stroke="#111" stroke-width="1" />
<line x1="673.5" y1="530.5" x2="671" y2="530.5" stroke="#111" stroke-width="1" />
<line x1="449.5" y1="526.5" x2="452" y2="526.5" stroke="#111" stroke-width="1" />
<line x1="673.5" y1="526.5" x2="671" y2="526.5" stroke="#111" stroke-width="1" />
<line x1="449.5" y1="523.5" x2="452" y2="523.5" stroke="#111" stroke-width="1" />
<line x1="673.5" y1="523.5" x2="671" y2="523.5" stroke="#111" stroke-width="1" />
<line x1="449.5" y1="515.5" x2="452" y2="515.5" stroke="#111" stroke-width="1" />
<line x1="673.5" y1="515.5" x2="671" y2="515.5" stroke="#111" stroke-width="1" />
<line x1="449.5" y1="512.5" x2="452" y2="512.5" stroke="#111" stroke-width="1" />
<line x1="673.5" y1="512.5" x2="671" y2="512.5" stroke="#111" stroke-width="1" />
<line x1="449.5" y1="508.5" x2="452" y2="508.5" stroke="#111" stroke-width="1" />
<line x1="673.5" y1="508.5" x2="671" y2="508.5" stroke="#111" stroke-width="1" />
<line x1="449.5" y1="505.5" x2="452" y2="505.5" stroke="#111" stroke-width="1" />
<line x1="673.5" y1="505.5" x2="671" y2="505.5" stroke="#111" stroke-width="1" />
<text x="446.5" y="524.24" font-size="14.5" text-anchor="end" font-weight="normal" >0</text>
<text x="446.5" y="559.92" font-size="14.5" text-anchor="end" font-weight="normal" >- </text>
<text x="446.5" y="595.6" font-size="14.5" text-anchor="end" font-weight="normal" >-2</text>
<text x="449.4" y="607" font-size="14.5" text-anchor="middle" font-weight="normal" >43</text>
<text x="517.28" y="607" font-size="14.5" text-anchor="middle" font-weight="normal" >44</text>
<text x="585.16" y="607" font-size="14.5" text-anchor="middle" font-weight="normal" >45</text>
<text x="653.04" y="607" font-size="14.5" text-anchor="middle" font-weight="normal" >46</text>
<text x="561" y="626.4" font-size="14.5" text-anchor="middle" font-weight="normal" ><tspan font-style="italic">t</tspan> (μs)</text>
<text x="414.6" y="511.9" font-size="14" text-anchor="start" font-weight="bold" >h</text>
<text x="422.4" y="546.9" font-size="14.2" text-anchor="middle" transform="rotate(-90 422.4 546.9)">Δ<tspan font-style="italic">φ</tspan> (rad)</text>
<text x="663.6" y="582.7" font-size="14" text-anchor="end" font-weight="normal" > 20 K</text>
<path d="M564.1,576.6 L580.6,576.6 L580.6,569.5" fill="none" stroke="#000" stroke-width="1.6" stroke-linejoin="round" stroke-linecap="butt" stroke-linejoin="miter"/>
<path d="M578.2,570.2 L580.6,562.4 L583,570.2 Z" fill="#000"/>
<line x1="603.4" y1="526.3" x2="603.4" y2="541.8" stroke="#000" stroke-width="1.6" />
<path d="M601,541.3 L603.4,549.1 L605.8,541.3 Z" fill="#000"/>
<path d="M632.9,684.3 L635.9,696.5 L640,635.6 M645.1,636 L650.2,675.1 L651.3,635.6 M661.5,635.6 L661.5,669" fill="none" stroke="#b3c8ff" stroke-width="1.0" stroke-linejoin="round" stroke-linecap="butt" />
<path d="M449.4,707.9 C449.83,708.67 451.29,711.67 452,712.5 C452.71,713.33 453.09,712.77 453.64,712.91 C454.18,713.04 454.73,713.2 455.27,713.3 C455.82,713.41 456.36,713.4 456.91,713.52 C457.45,713.63 458,714 458.55,713.99 C459.09,713.99 459.64,713.48 460.18,713.49 C460.73,713.5 461.27,714.37 461.82,714.06 C462.36,713.75 462.91,711.82 463.45,711.63 C464,711.43 464.55,712.46 465.09,712.91 C465.64,713.36 466.18,714.21 466.73,714.31 C467.27,714.42 467.82,713.74 468.36,713.55 C468.91,713.37 469.45,713.06 470,713.2 C470.55,713.34 471.11,714.55 471.67,714.39 C472.22,714.23 472.78,712.43 473.33,712.25 C473.89,712.07 474.44,713.23 475,713.31 C475.56,713.4 476.11,712.7 476.67,712.76 C477.22,712.81 477.78,713.48 478.33,713.66 C478.89,713.83 479.44,714.03 480,713.81 C480.56,713.58 481.11,712.45 481.67,712.3 C482.22,712.16 482.78,712.79 483.33,712.94 C483.89,713.09 484.44,712.83 485,713.18 C485.56,713.53 486.11,714.78 486.67,715.03 C487.22,715.28 487.78,714.85 488.33,714.68 C488.89,714.51 489.44,714.26 490,714 C490.56,713.74 491.11,712.94 491.67,713.1 C492.22,713.25 492.78,714.93 493.33,714.93 C493.89,714.94 494.44,713.21 495,713.14 C495.56,713.07 496.11,714.52 496.67,714.53 C497.22,714.54 497.78,713.48 498.33,713.2 C498.89,712.93 499.44,712.54 500,712.9 C500.56,713.27 501.11,715.28 501.67,715.39 C502.22,715.5 502.78,713.88 503.33,713.59 C503.89,713.3 504.44,713.28 505,713.65 C505.56,714.03 506.11,715.53 506.67,715.85 C507.22,716.17 507.78,715.8 508.33,715.59 C508.89,715.38 509.44,714.86 510,714.6 C510.56,714.34 511.11,713.83 511.67,714.06 C512.22,714.29 512.78,715.86 513.33,715.99 C513.89,716.13 514.44,714.98 515,714.86 C515.56,714.74 516.11,715.44 516.67,715.3 C517.22,715.16 517.78,713.88 518.33,714.02 C518.89,714.16 519.44,715.89 520,716.13 C520.56,716.38 521.11,715.46 521.67,715.48 C522.22,715.51 522.78,716.19 523.33,716.31 C523.89,716.42 524.44,716.45 525,716.15 C525.56,715.86 526.11,714.77 526.67,714.54 C527.22,714.3 527.78,714.65 528.33,714.76 C528.89,714.87 529.36,715.17 530,715.2 C530.64,715.23 531.47,714.7 532.2,714.91 C532.93,715.13 533.52,716.84 534.4,716.5 C535.28,716.16 536.65,714.65 537.5,712.9 C538.35,711.15 538.98,708.05 539.5,706 C540.02,703.95 540.08,704.57 540.6,700.6 C541.12,696.63 541.92,688.33 542.6,682.2 C543.28,676.07 543.85,668.22 544.7,663.8 C545.55,659.38 546.97,657.13 547.7,655.7 C548.43,654.27 548.55,655.07 549.1,655.2 C549.65,655.33 550.32,656.02 551,656.5 C551.68,656.98 552.33,658.07 553.2,658.1 C554.07,658.13 555.18,656.25 556.2,656.7 C557.22,657.15 558.1,660.47 559.3,660.8 C560.5,661.13 561.7,659.38 563.4,658.7 C565.1,658.02 567.8,656.53 569.5,656.7 C571.2,656.87 571.9,659.6 573.6,659.7 C575.3,659.8 577.65,657.47 579.7,657.3 C581.75,657.13 583.52,658.63 585.9,658.7 C588.28,658.77 591.62,657.6 594,657.7 C596.38,657.8 598.15,658.97 600.2,659.3 C602.25,659.63 604.27,659.8 606.3,659.7 C608.33,659.6 610.87,659.32 612.4,658.7 C613.93,658.08 614.53,656.92 615.5,656 C616.47,655.08 617.18,652.92 618.2,653.2 C619.22,653.48 620.52,656.53 621.6,657.7 C622.68,658.87 623.67,659.58 624.7,660.2 C625.73,660.82 626.95,659.95 627.8,661.4 C628.65,662.85 629.18,665.27 629.8,668.9 C630.42,672.53 631.22,680.82 631.5,683.2" fill="none" stroke="#0000ff" stroke-width="1.9" stroke-linejoin="round" stroke-linecap="butt" />
<line x1="542.6" y1="635.5" x2="542.6" y2="724.8" stroke="#000" stroke-width="1.5" stroke-dasharray="3.4 2.6"/>
<line x1="631.9" y1="635.5" x2="631.9" y2="724.8" stroke="#000" stroke-width="1.5" stroke-dasharray="3.4 2.6"/>
<rect x="449.5" y="635.5" width="224" height="89" fill="none" stroke="#111" stroke-width="1.1"/>
<line x1="449.5" y1="724.5" x2="449.5" y2="719.5" stroke="#111" stroke-width="1" />
<line x1="449.5" y1="635.5" x2="449.5" y2="640.5" stroke="#111" stroke-width="1" />
<line x1="486.5" y1="724.5" x2="486.5" y2="719.5" stroke="#111" stroke-width="1" />
<line x1="486.5" y1="635.5" x2="486.5" y2="640.5" stroke="#111" stroke-width="1" />
<line x1="524.5" y1="724.5" x2="524.5" y2="719.5" stroke="#111" stroke-width="1" />
<line x1="524.5" y1="635.5" x2="524.5" y2="640.5" stroke="#111" stroke-width="1" />
<line x1="561.5" y1="724.5" x2="561.5" y2="719.5" stroke="#111" stroke-width="1" />
<line x1="561.5" y1="635.5" x2="561.5" y2="640.5" stroke="#111" stroke-width="1" />
<line x1="598.5" y1="724.5" x2="598.5" y2="719.5" stroke="#111" stroke-width="1" />
<line x1="598.5" y1="635.5" x2="598.5" y2="640.5" stroke="#111" stroke-width="1" />
<line x1="636.5" y1="724.5" x2="636.5" y2="719.5" stroke="#111" stroke-width="1" />
<line x1="636.5" y1="635.5" x2="636.5" y2="640.5" stroke="#111" stroke-width="1" />
<line x1="673.5" y1="724.5" x2="673.5" y2="719.5" stroke="#111" stroke-width="1" />
<line x1="673.5" y1="635.5" x2="673.5" y2="640.5" stroke="#111" stroke-width="1" />
<line x1="456.5" y1="724.5" x2="456.5" y2="721.5" stroke="#111" stroke-width="1" />
<line x1="456.5" y1="635.5" x2="456.5" y2="638.5" stroke="#111" stroke-width="1" />
<line x1="464.5" y1="724.5" x2="464.5" y2="721.5" stroke="#111" stroke-width="1" />
<line x1="464.5" y1="635.5" x2="464.5" y2="638.5" stroke="#111" stroke-width="1" />
<line x1="471.5" y1="724.5" x2="471.5" y2="721.5" stroke="#111" stroke-width="1" />
<line x1="471.5" y1="635.5" x2="471.5" y2="638.5" stroke="#111" stroke-width="1" />
<line x1="479.5" y1="724.5" x2="479.5" y2="721.5" stroke="#111" stroke-width="1" />
<line x1="479.5" y1="635.5" x2="479.5" y2="638.5" stroke="#111" stroke-width="1" />
<line x1="494.5" y1="724.5" x2="494.5" y2="721.5" stroke="#111" stroke-width="1" />
<line x1="494.5" y1="635.5" x2="494.5" y2="638.5" stroke="#111" stroke-width="1" />
<line x1="501.5" y1="724.5" x2="501.5" y2="721.5" stroke="#111" stroke-width="1" />
<line x1="501.5" y1="635.5" x2="501.5" y2="638.5" stroke="#111" stroke-width="1" />
<line x1="509.5" y1="724.5" x2="509.5" y2="721.5" stroke="#111" stroke-width="1" />
<line x1="509.5" y1="635.5" x2="509.5" y2="638.5" stroke="#111" stroke-width="1" />
<line x1="516.5" y1="724.5" x2="516.5" y2="721.5" stroke="#111" stroke-width="1" />
<line x1="516.5" y1="635.5" x2="516.5" y2="638.5" stroke="#111" stroke-width="1" />
<line x1="531.5" y1="724.5" x2="531.5" y2="721.5" stroke="#111" stroke-width="1" />
<line x1="531.5" y1="635.5" x2="531.5" y2="638.5" stroke="#111" stroke-width="1" />
<line x1="539.5" y1="724.5" x2="539.5" y2="721.5" stroke="#111" stroke-width="1" />
<line x1="539.5" y1="635.5" x2="539.5" y2="638.5" stroke="#111" stroke-width="1" />
<line x1="546.5" y1="724.5" x2="546.5" y2="721.5" stroke="#111" stroke-width="1" />
<line x1="546.5" y1="635.5" x2="546.5" y2="638.5" stroke="#111" stroke-width="1" />
<line x1="553.5" y1="724.5" x2="553.5" y2="721.5" stroke="#111" stroke-width="1" />
<line x1="553.5" y1="635.5" x2="553.5" y2="638.5" stroke="#111" stroke-width="1" />
<line x1="568.5" y1="724.5" x2="568.5" y2="721.5" stroke="#111" stroke-width="1" />
<line x1="568.5" y1="635.5" x2="568.5" y2="638.5" stroke="#111" stroke-width="1" />
<line x1="576.5" y1="724.5" x2="576.5" y2="721.5" stroke="#111" stroke-width="1" />
<line x1="576.5" y1="635.5" x2="576.5" y2="638.5" stroke="#111" stroke-width="1" />
<line x1="583.5" y1="724.5" x2="583.5" y2="721.5" stroke="#111" stroke-width="1" />
<line x1="583.5" y1="635.5" x2="583.5" y2="638.5" stroke="#111" stroke-width="1" />
<line x1="591.5" y1="724.5" x2="591.5" y2="721.5" stroke="#111" stroke-width="1" />
<line x1="591.5" y1="635.5" x2="591.5" y2="638.5" stroke="#111" stroke-width="1" />
<line x1="606.5" y1="724.5" x2="606.5" y2="721.5" stroke="#111" stroke-width="1" />
<line x1="606.5" y1="635.5" x2="606.5" y2="638.5" stroke="#111" stroke-width="1" />
<line x1="613.5" y1="724.5" x2="613.5" y2="721.5" stroke="#111" stroke-width="1" />
<line x1="613.5" y1="635.5" x2="613.5" y2="638.5" stroke="#111" stroke-width="1" />
<line x1="621.5" y1="724.5" x2="621.5" y2="721.5" stroke="#111" stroke-width="1" />
<line x1="621.5" y1="635.5" x2="621.5" y2="638.5" stroke="#111" stroke-width="1" />
<line x1="628.5" y1="724.5" x2="628.5" y2="721.5" stroke="#111" stroke-width="1" />
<line x1="628.5" y1="635.5" x2="628.5" y2="638.5" stroke="#111" stroke-width="1" />
<line x1="643.5" y1="724.5" x2="643.5" y2="721.5" stroke="#111" stroke-width="1" />
<line x1="643.5" y1="635.5" x2="643.5" y2="638.5" stroke="#111" stroke-width="1" />
<line x1="651.5" y1="724.5" x2="651.5" y2="721.5" stroke="#111" stroke-width="1" />
<line x1="651.5" y1="635.5" x2="651.5" y2="638.5" stroke="#111" stroke-width="1" />
<line x1="658.5" y1="724.5" x2="658.5" y2="721.5" stroke="#111" stroke-width="1" />
<line x1="658.5" y1="635.5" x2="658.5" y2="638.5" stroke="#111" stroke-width="1" />
<line x1="665.5" y1="724.5" x2="665.5" y2="721.5" stroke="#111" stroke-width="1" />
<line x1="665.5" y1="635.5" x2="665.5" y2="638.5" stroke="#111" stroke-width="1" />
<line x1="449.5" y1="657.5" x2="454.5" y2="657.5" stroke="#111" stroke-width="1" />
<line x1="673.5" y1="657.5" x2="668.5" y2="657.5" stroke="#111" stroke-width="1" />
<line x1="449.5" y1="702.5" x2="454.5" y2="702.5" stroke="#111" stroke-width="1" />
<line x1="673.5" y1="702.5" x2="668.5" y2="702.5" stroke="#111" stroke-width="1" />
<text x="446.5" y="662.62" font-size="14.5" text-anchor="end" font-weight="normal" >0</text>
<text x="446.5" y="707.27" font-size="14.5" text-anchor="end" font-weight="normal" >- </text>
<text x="449.4" y="742.6" font-size="14.5" text-anchor="middle" font-weight="normal" > 00</text>
<text x="524.07" y="742.6" font-size="14.5" text-anchor="middle" font-weight="normal" >200</text>
<text x="598.73" y="742.6" font-size="14.5" text-anchor="middle" font-weight="normal" >300</text>
<text x="673.4" y="742.6" font-size="14.5" text-anchor="middle" font-weight="normal" >400</text>
<text x="561.9" y="757.8" font-size="14.5" text-anchor="middle" font-weight="normal" ><tspan font-style="italic">μ</tspan><tspan font-size="10" dy="3">0</tspan><tspan font-style="italic" dy="-3">H</tspan> (T)</text>
<text x="411" y="634.8" font-size="14" text-anchor="start" font-weight="bold" >i</text>
<text x="422.4" y="680.4" font-size="14.2" text-anchor="middle" transform="rotate(-90 422.4 680.4)">Δ<tspan font-style="italic">φ</tspan> (rad)</text>
<text x="560" y="650.5" font-size="14" text-anchor="start" font-weight="normal" >Insulator</text>
<text x="477.6" y="703.1" font-size="14" text-anchor="start" font-weight="normal" >Metal</text>
<rect x="633.5" y="695.5" width="33" height="12.5" fill="#fff"/>
<text x="634" y="707.2" font-size="14" text-anchor="start" font-weight="normal" >Metal</text>
<line x1="550.7" y1="710.2" x2="550.7" y2="693.1" stroke="#000" stroke-width="2.8" />
<path d="M546.8,693.6 L550.7,682.6 L554.6,693.6 Z" fill="#000"/>
<line x1="623.3" y1="666.5" x2="623.3" y2="680.3" stroke="#000" stroke-width="2.8" />
<path d="M619.4,679.8 L623.3,690.8 L627.2,679.8 Z" fill="#000"/>
<path transform="matrix(0.007080,0,0,-0.006797,151.25,358.20)" d="M763 0 L583 0 L583 1147 Q518 1085 412.5 1023 Q307 961 223 930 L223 1104 Q374 1175 487 1276 Q600 1377 647 1472 L763 1472 Z" fill="#000" stroke="#000" stroke-width="21.2"/>
<path transform="matrix(0.007080,0,0,-0.006797,207.33,358.20)" d="M763 0 L583 0 L583 1147 Q518 1085 412.5 1023 Q307 961 223 930 L223 1104 Q374 1175 487 1276 Q600 1377 647 1472 L763 1472 Z" fill="#000" stroke="#000" stroke-width="21.2"/>
<path transform="matrix(0.007080,0,0,-0.006797,36.42,346.00)" d="M763 0 L583 0 L583 1147 Q518 1085 412.5 1023 Q307 961 223 930 L223 1104 Q374 1175 487 1276 Q600 1377 647 1472 L763 1472 Z" fill="#000" stroke="#000" stroke-width="21.2"/>
<path transform="matrix(0.007080,0,0,-0.006797,36.41,262.00)" d="M763 0 L583 0 L583 1147 Q518 1085 412.5 1023 Q307 961 223 930 L223 1104 Q374 1175 487 1276 Q600 1377 647 1472 L763 1472 Z" fill="#000" stroke="#000" stroke-width="21.2"/>
<path transform="matrix(0.007080,0,0,-0.006797,36.42,178.00)" d="M763 0 L583 0 L583 1147 Q518 1085 412.5 1023 Q307 961 223 930 L223 1104 Q374 1175 487 1276 Q600 1377 647 1472 L763 1472 Z" fill="#000" stroke="#000" stroke-width="21.2"/>
<path transform="matrix(0.007080,0,0,-0.006797,28.36,94.00)" d="M763 0 L583 0 L583 1147 Q518 1085 412.5 1023 Q307 961 223 930 L223 1104 Q374 1175 487 1276 Q600 1377 647 1472 L763 1472 Z" fill="#000" stroke="#000" stroke-width="21.2"/>
<path transform="matrix(0.007080,0,0,-0.006797,20.30,10.00)" d="M763 0 L583 0 L583 1147 Q518 1085 412.5 1023 Q307 961 223 930 L223 1104 Q374 1175 487 1276 Q600 1377 647 1472 L763 1472 Z" fill="#000" stroke="#000" stroke-width="21.2"/>
<path transform="matrix(0.006934,0,0,-0.006656,195.05,271.90)" d="M763 0 L583 0 L583 1147 Q518 1085 412.5 1023 Q307 961 223 930 L223 1104 Q374 1175 487 1276 Q600 1377 647 1472 L763 1472 Z" fill="#000" stroke="#000" stroke-width="21.6"/>
<path transform="matrix(0.006934,0,0,-0.006656,195.05,286.18)" d="M763 0 L583 0 L583 1147 Q518 1085 412.5 1023 Q307 961 223 930 L223 1104 Q374 1175 487 1276 Q600 1377 647 1472 L763 1472 Z" fill="#000" stroke="#000" stroke-width="21.6"/>
<path transform="matrix(0.007080,0,0,-0.006797,314.50,25.20)" d="M763 0 L583 0 L583 1147 Q518 1085 412.5 1023 Q307 961 223 930 L223 1104 Q374 1175 487 1276 Q600 1377 647 1472 L763 1472 Z" fill="#000" stroke="#000" stroke-width="21.2"/>
<path transform="matrix(0.007080,0,0,-0.006797,322.56,51.33)" d="M763 0 L583 0 L583 1147 Q518 1085 412.5 1023 Q307 961 223 930 L223 1104 Q374 1175 487 1276 Q600 1377 647 1472 L763 1472 Z" fill="#000" stroke="#000" stroke-width="21.2"/>
<path transform="matrix(0.007080,0,0,-0.006797,330.62,77.47)" d="M763 0 L583 0 L583 1147 Q518 1085 412.5 1023 Q307 961 223 930 L223 1104 Q374 1175 487 1276 Q600 1377 647 1472 L763 1472 Z" fill="#000" stroke="#000" stroke-width="21.2"/>
<path transform="matrix(0.007080,0,0,-0.006797,314.50,107.30)" d="M763 0 L583 0 L583 1147 Q518 1085 412.5 1023 Q307 961 223 930 L223 1104 Q374 1175 487 1276 Q600 1377 647 1472 L763 1472 Z" fill="#000" stroke="#000" stroke-width="21.2"/>
<path transform="matrix(0.007080,0,0,-0.006797,322.56,133.33)" d="M763 0 L583 0 L583 1147 Q518 1085 412.5 1023 Q307 961 223 930 L223 1104 Q374 1175 487 1276 Q600 1377 647 1472 L763 1472 Z" fill="#000" stroke="#000" stroke-width="21.2"/>
<path transform="matrix(0.007080,0,0,-0.006797,330.62,159.37)" d="M763 0 L583 0 L583 1147 Q518 1085 412.5 1023 Q307 961 223 930 L223 1104 Q374 1175 487 1276 Q600 1377 647 1472 L763 1472 Z" fill="#000" stroke="#000" stroke-width="21.2"/>
<path transform="matrix(0.007080,0,0,-0.006797,314.50,188.20)" d="M763 0 L583 0 L583 1147 Q518 1085 412.5 1023 Q307 961 223 930 L223 1104 Q374 1175 487 1276 Q600 1377 647 1472 L763 1472 Z" fill="#000" stroke="#000" stroke-width="21.2"/>
<path transform="matrix(0.007080,0,0,-0.006797,322.56,214.23)" d="M763 0 L583 0 L583 1147 Q518 1085 412.5 1023 Q307 961 223 930 L223 1104 Q374 1175 487 1276 Q600 1377 647 1472 L763 1472 Z" fill="#000" stroke="#000" stroke-width="21.2"/>
<path transform="matrix(0.007080,0,0,-0.006797,330.62,240.27)" d="M763 0 L583 0 L583 1147 Q518 1085 412.5 1023 Q307 961 223 930 L223 1104 Q374 1175 487 1276 Q600 1377 647 1472 L763 1472 Z" fill="#000" stroke="#000" stroke-width="21.2"/>
<path transform="matrix(0.007080,0,0,-0.006797,314.50,268.20)" d="M763 0 L583 0 L583 1147 Q518 1085 412.5 1023 Q307 961 223 930 L223 1104 Q374 1175 487 1276 Q600 1377 647 1472 L763 1472 Z" fill="#000" stroke="#000" stroke-width="21.2"/>
<path transform="matrix(0.007080,0,0,-0.006797,322.56,294.13)" d="M763 0 L583 0 L583 1147 Q518 1085 412.5 1023 Q307 961 223 930 L223 1104 Q374 1175 487 1276 Q600 1377 647 1472 L763 1472 Z" fill="#000" stroke="#000" stroke-width="21.2"/>
<path transform="matrix(0.007080,0,0,-0.006797,330.62,320.07)" d="M763 0 L583 0 L583 1147 Q518 1085 412.5 1023 Q307 961 223 930 L223 1104 Q374 1175 487 1276 Q600 1377 647 1472 L763 1472 Z" fill="#000" stroke="#000" stroke-width="21.2"/>
<path transform="matrix(0.007080,0,0,-0.006797,491.20,25.20)" d="M763 0 L583 0 L583 1147 Q518 1085 412.5 1023 Q307 961 223 930 L223 1104 Q374 1175 487 1276 Q600 1377 647 1472 L763 1472 Z" fill="#000" stroke="#000" stroke-width="21.2"/>
<path transform="matrix(0.007080,0,0,-0.006797,499.26,51.33)" d="M763 0 L583 0 L583 1147 Q518 1085 412.5 1023 Q307 961 223 930 L223 1104 Q374 1175 487 1276 Q600 1377 647 1472 L763 1472 Z" fill="#000" stroke="#000" stroke-width="21.2"/>
<path transform="matrix(0.007080,0,0,-0.006797,507.32,77.47)" d="M763 0 L583 0 L583 1147 Q518 1085 412.5 1023 Q307 961 223 930 L223 1104 Q374 1175 487 1276 Q600 1377 647 1472 L763 1472 Z" fill="#000" stroke="#000" stroke-width="21.2"/>
<path transform="matrix(0.007080,0,0,-0.006797,491.20,107.30)" d="M763 0 L583 0 L583 1147 Q518 1085 412.5 1023 Q307 961 223 930 L223 1104 Q374 1175 487 1276 Q600 1377 647 1472 L763 1472 Z" fill="#000" stroke="#000" stroke-width="21.2"/>
<path transform="matrix(0.007080,0,0,-0.006797,499.26,133.33)" d="M763 0 L583 0 L583 1147 Q518 1085 412.5 1023 Q307 961 223 930 L223 1104 Q374 1175 487 1276 Q600 1377 647 1472 L763 1472 Z" fill="#000" stroke="#000" stroke-width="21.2"/>
<path transform="matrix(0.007080,0,0,-0.006797,507.32,159.37)" d="M763 0 L583 0 L583 1147 Q518 1085 412.5 1023 Q307 961 223 930 L223 1104 Q374 1175 487 1276 Q600 1377 647 1472 L763 1472 Z" fill="#000" stroke="#000" stroke-width="21.2"/>
<path transform="matrix(0.007080,0,0,-0.006797,491.20,188.20)" d="M763 0 L583 0 L583 1147 Q518 1085 412.5 1023 Q307 961 223 930 L223 1104 Q374 1175 487 1276 Q600 1377 647 1472 L763 1472 Z" fill="#000" stroke="#000" stroke-width="21.2"/>
<path transform="matrix(0.007080,0,0,-0.006797,499.26,214.23)" d="M763 0 L583 0 L583 1147 Q518 1085 412.5 1023 Q307 961 223 930 L223 1104 Q374 1175 487 1276 Q600 1377 647 1472 L763 1472 Z" fill="#000" stroke="#000" stroke-width="21.2"/>
<path transform="matrix(0.007080,0,0,-0.006797,507.32,240.27)" d="M763 0 L583 0 L583 1147 Q518 1085 412.5 1023 Q307 961 223 930 L223 1104 Q374 1175 487 1276 Q600 1377 647 1472 L763 1472 Z" fill="#000" stroke="#000" stroke-width="21.2"/>
<path transform="matrix(0.007080,0,0,-0.006797,491.20,268.20)" d="M763 0 L583 0 L583 1147 Q518 1085 412.5 1023 Q307 961 223 930 L223 1104 Q374 1175 487 1276 Q600 1377 647 1472 L763 1472 Z" fill="#000" stroke="#000" stroke-width="21.2"/>
<path transform="matrix(0.007080,0,0,-0.006797,499.26,294.13)" d="M763 0 L583 0 L583 1147 Q518 1085 412.5 1023 Q307 961 223 930 L223 1104 Q374 1175 487 1276 Q600 1377 647 1472 L763 1472 Z" fill="#000" stroke="#000" stroke-width="21.2"/>
<path transform="matrix(0.007080,0,0,-0.006797,507.32,320.07)" d="M763 0 L583 0 L583 1147 Q518 1085 412.5 1023 Q307 961 223 930 L223 1104 Q374 1175 487 1276 Q600 1377 647 1472 L763 1472 Z" fill="#000" stroke="#000" stroke-width="21.2"/>
<path transform="matrix(0.006836,0,0,-0.006562,622.30,90.40)" d="M763 0 L583 0 L583 1147 Q518 1085 412.5 1023 Q307 961 223 930 L223 1104 Q374 1175 487 1276 Q600 1377 647 1472 L763 1472 Z" fill="#000" stroke="#000" stroke-width="21.9"/>
<path transform="matrix(0.006836,0,0,-0.006562,416.18,14.20)" d="M763 0 L583 0 L583 1147 Q518 1085 412.5 1023 Q307 961 223 930 L223 1104 Q374 1175 487 1276 Q600 1377 647 1472 L763 1472 Z" fill="#000" stroke="#000" stroke-width="21.9"/>
<path transform="matrix(0.007080,0,0,-0.006797,141.37,743.30)" d="M763 0 L583 0 L583 1147 Q518 1085 412.5 1023 Q307 961 223 930 L223 1104 Q374 1175 487 1276 Q600 1377 647 1472 L763 1472 Z" fill="#000" stroke="#000" stroke-width="21.2"/>
<path transform="matrix(0.007080,0,0,-0.006797,197.40,743.30)" d="M763 0 L583 0 L583 1147 Q518 1085 412.5 1023 Q307 961 223 930 L223 1104 Q374 1175 487 1276 Q600 1377 647 1472 L763 1472 Z" fill="#000" stroke="#000" stroke-width="21.2"/>
<path transform="matrix(0.007080,0,0,-0.006797,26.92,731.70)" d="M763 0 L583 0 L583 1147 Q518 1085 412.5 1023 Q307 961 223 930 L223 1104 Q374 1175 487 1276 Q600 1377 647 1472 L763 1472 Z" fill="#000" stroke="#000" stroke-width="21.2"/>
<path transform="matrix(0.007080,0,0,-0.006797,26.91,686.80)" d="M763 0 L583 0 L583 1147 Q518 1085 412.5 1023 Q307 961 223 930 L223 1104 Q374 1175 487 1276 Q600 1377 647 1472 L763 1472 Z" fill="#000" stroke="#000" stroke-width="21.2"/>
<path transform="matrix(0.007080,0,0,-0.006797,26.92,641.90)" d="M763 0 L583 0 L583 1147 Q518 1085 412.5 1023 Q307 961 223 930 L223 1104 Q374 1175 487 1276 Q600 1377 647 1472 L763 1472 Z" fill="#000" stroke="#000" stroke-width="21.2"/>
<path transform="matrix(0.007080,0,0,-0.006797,18.86,597.00)" d="M763 0 L583 0 L583 1147 Q518 1085 412.5 1023 Q307 961 223 930 L223 1104 Q374 1175 487 1276 Q600 1377 647 1472 L763 1472 Z" fill="#000" stroke="#000" stroke-width="21.2"/>
<path transform="matrix(0.007080,0,0,-0.006797,10.80,552.10)" d="M763 0 L583 0 L583 1147 Q518 1085 412.5 1023 Q307 961 223 930 L223 1104 Q374 1175 487 1276 Q600 1377 647 1472 L763 1472 Z" fill="#000" stroke="#000" stroke-width="21.2"/>
<path transform="matrix(0.007080,0,0,-0.006797,106.06,591.70)" d="M763 0 L583 0 L583 1147 Q518 1085 412.5 1023 Q307 961 223 930 L223 1104 Q374 1175 487 1276 Q600 1377 647 1472 L763 1472 Z" fill="#000" stroke="#000" stroke-width="21.2"/>
<path transform="matrix(0.007080,0,0,-0.006797,114.11,636.30)" d="M763 0 L583 0 L583 1147 Q518 1085 412.5 1023 Q307 961 223 930 L223 1104 Q374 1175 487 1276 Q600 1377 647 1472 L763 1472 Z" fill="#000" stroke="#000" stroke-width="21.2"/>
<path transform="matrix(0.007080,0,0,-0.006797,162.03,647.40)" d="M763 0 L583 0 L583 1147 Q518 1085 412.5 1023 Q307 961 223 930 L223 1104 Q374 1175 487 1276 Q600 1377 647 1472 L763 1472 Z" fill="#000" stroke="#000" stroke-width="21.2"/>
<path transform="matrix(0.007080,0,0,-0.006797,287.43,554.60)" d="M763 0 L583 0 L583 1147 Q518 1085 412.5 1023 Q307 961 223 930 L223 1104 Q374 1175 487 1276 Q600 1377 647 1472 L763 1472 Z" fill="#000" stroke="#000" stroke-width="21.2"/>
<path transform="matrix(0.006836,0,0,-0.006562,328.38,397.60)" d="M763 0 L583 0 L583 1147 Q518 1085 412.5 1023 Q307 961 223 930 L223 1104 Q374 1175 487 1276 Q600 1377 647 1472 L763 1472 Z" fill="#000" stroke="#000" stroke-width="21.9"/>
<path transform="matrix(0.007080,0,0,-0.006797,287.20,742.00)" d="M763 0 L583 0 L583 1147 Q518 1085 412.5 1023 Q307 961 223 930 L223 1104 Q374 1175 487 1276 Q600 1377 647 1472 L763 1472 Z" fill="#000" stroke="#000" stroke-width="21.2"/>
<path transform="matrix(0.006836,0,0,-0.006562,345.41,710.10)" d="M763 0 L583 0 L583 1147 Q518 1085 412.5 1023 Q307 961 223 930 L223 1104 Q374 1175 487 1276 Q600 1377 647 1472 L763 1472 Z" fill="#000" stroke="#000" stroke-width="21.9"/>
<path transform="matrix(0.007080,0,0,-0.006797,438.42,559.92)" d="M763 0 L583 0 L583 1147 Q518 1085 412.5 1023 Q307 961 223 930 L223 1104 Q374 1175 487 1276 Q600 1377 647 1472 L763 1472 Z" fill="#000" stroke="#000" stroke-width="21.2"/>
<path transform="matrix(0.006836,0,0,-0.006562,627.01,582.70)" d="M763 0 L583 0 L583 1147 Q518 1085 412.5 1023 Q307 961 223 930 L223 1104 Q374 1175 487 1276 Q600 1377 647 1472 L763 1472 Z" fill="#000" stroke="#000" stroke-width="21.9"/>
<path transform="matrix(0.007080,0,0,-0.006797,438.42,707.27)" d="M763 0 L583 0 L583 1147 Q518 1085 412.5 1023 Q307 961 223 930 L223 1104 Q374 1175 487 1276 Q600 1377 647 1472 L763 1472 Z" fill="#000" stroke="#000" stroke-width="21.2"/>
<path transform="matrix(0.007080,0,0,-0.006797,437.30,742.60)" d="M763 0 L583 0 L583 1147 Q518 1085 412.5 1023 Q307 961 223 930 L223 1104 Q374 1175 487 1276 Q600 1377 647 1472 L763 1472 Z" fill="#000" stroke="#000" stroke-width="21.2"/>
</svg></body></html>
